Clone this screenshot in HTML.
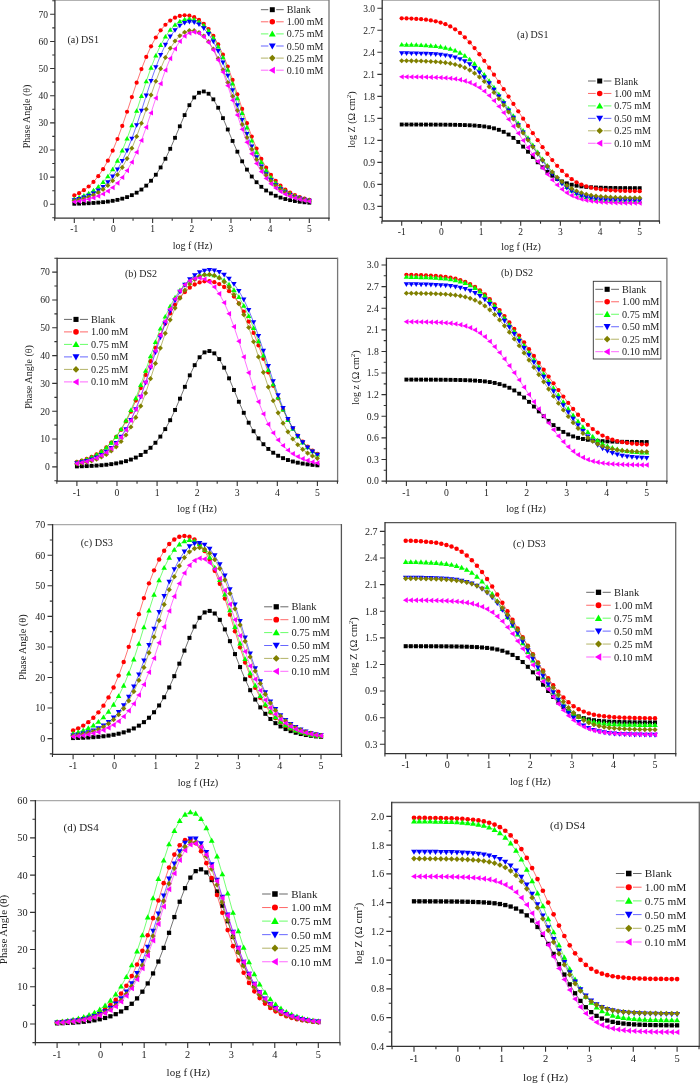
<!DOCTYPE html>
<html><head><meta charset="utf-8"><style>
html,body{margin:0;padding:0;background:#fff;width:700px;height:1083px;overflow:hidden}
svg{display:block;will-change:transform}
text{font-family:"Liberation Serif",serif;fill:#222}
</style></head><body>
<svg width="700" height="1083" viewBox="0 0 700 1083">
<rect width="700" height="1083" fill="#fff"/>
<path d="M74.30 203.77 L79.10 203.63 L83.89 203.46 L88.69 203.24 L93.48 202.96 L98.28 202.61 L103.08 202.15 L107.87 201.56 L112.67 200.82 L117.46 199.87 L122.26 198.65 L127.06 197.11 L131.85 195.16 L136.65 192.68 L141.44 189.55 L146.24 185.63 L151.03 180.75 L155.83 174.74 L160.63 167.44 L165.42 158.78 L170.22 148.81 L175.01 137.80 L179.81 126.29 L184.61 115.09 L189.40 105.17 L194.20 97.47 L198.99 92.75 L203.79 91.46 L208.59 93.73 L213.38 99.34 L218.18 107.74 L222.97 118.12 L227.77 129.50 L232.57 140.94 L237.36 151.70 L242.16 161.32 L246.95 169.60 L251.75 176.53 L256.54 182.21 L261.34 186.81 L266.14 190.50 L270.93 193.43 L275.73 195.75 L280.52 197.58 L285.32 199.02 L290.12 200.15 L294.91 201.04 L299.71 201.74 L304.50 202.29 L309.30 202.71" fill="none" stroke="#000000" stroke-width="0.55"/>
<rect x="72.39" y="201.86" width="3.82" height="3.82" fill="#000000"/><rect x="77.19" y="201.73" width="3.82" height="3.82" fill="#000000"/><rect x="81.98" y="201.55" width="3.82" height="3.82" fill="#000000"/><rect x="86.78" y="201.33" width="3.82" height="3.82" fill="#000000"/><rect x="91.57" y="201.05" width="3.82" height="3.82" fill="#000000"/><rect x="96.37" y="200.70" width="3.82" height="3.82" fill="#000000"/><rect x="101.17" y="200.24" width="3.82" height="3.82" fill="#000000"/><rect x="105.96" y="199.65" width="3.82" height="3.82" fill="#000000"/><rect x="110.76" y="198.91" width="3.82" height="3.82" fill="#000000"/><rect x="115.55" y="197.96" width="3.82" height="3.82" fill="#000000"/><rect x="120.35" y="196.75" width="3.82" height="3.82" fill="#000000"/><rect x="125.15" y="195.20" width="3.82" height="3.82" fill="#000000"/><rect x="129.94" y="193.25" width="3.82" height="3.82" fill="#000000"/><rect x="134.74" y="190.77" width="3.82" height="3.82" fill="#000000"/><rect x="139.53" y="187.65" width="3.82" height="3.82" fill="#000000"/><rect x="144.33" y="183.72" width="3.82" height="3.82" fill="#000000"/><rect x="149.13" y="178.84" width="3.82" height="3.82" fill="#000000"/><rect x="153.92" y="172.83" width="3.82" height="3.82" fill="#000000"/><rect x="158.72" y="165.53" width="3.82" height="3.82" fill="#000000"/><rect x="163.51" y="156.87" width="3.82" height="3.82" fill="#000000"/><rect x="168.31" y="146.90" width="3.82" height="3.82" fill="#000000"/><rect x="173.10" y="135.89" width="3.82" height="3.82" fill="#000000"/><rect x="177.90" y="124.38" width="3.82" height="3.82" fill="#000000"/><rect x="182.70" y="113.19" width="3.82" height="3.82" fill="#000000"/><rect x="187.49" y="103.26" width="3.82" height="3.82" fill="#000000"/><rect x="192.29" y="95.56" width="3.82" height="3.82" fill="#000000"/><rect x="197.08" y="90.84" width="3.82" height="3.82" fill="#000000"/><rect x="201.88" y="89.55" width="3.82" height="3.82" fill="#000000"/><rect x="206.68" y="91.82" width="3.82" height="3.82" fill="#000000"/><rect x="211.47" y="97.43" width="3.82" height="3.82" fill="#000000"/><rect x="216.27" y="105.84" width="3.82" height="3.82" fill="#000000"/><rect x="221.06" y="116.21" width="3.82" height="3.82" fill="#000000"/><rect x="225.86" y="127.59" width="3.82" height="3.82" fill="#000000"/><rect x="230.66" y="139.03" width="3.82" height="3.82" fill="#000000"/><rect x="235.45" y="149.79" width="3.82" height="3.82" fill="#000000"/><rect x="240.25" y="159.41" width="3.82" height="3.82" fill="#000000"/><rect x="245.04" y="167.69" width="3.82" height="3.82" fill="#000000"/><rect x="249.84" y="174.62" width="3.82" height="3.82" fill="#000000"/><rect x="254.64" y="180.30" width="3.82" height="3.82" fill="#000000"/><rect x="259.43" y="184.90" width="3.82" height="3.82" fill="#000000"/><rect x="264.23" y="188.59" width="3.82" height="3.82" fill="#000000"/><rect x="269.02" y="191.52" width="3.82" height="3.82" fill="#000000"/><rect x="273.82" y="193.84" width="3.82" height="3.82" fill="#000000"/><rect x="278.62" y="195.67" width="3.82" height="3.82" fill="#000000"/><rect x="283.41" y="197.11" width="3.82" height="3.82" fill="#000000"/><rect x="288.21" y="198.24" width="3.82" height="3.82" fill="#000000"/><rect x="293.00" y="199.13" width="3.82" height="3.82" fill="#000000"/><rect x="297.80" y="199.83" width="3.82" height="3.82" fill="#000000"/><rect x="302.59" y="200.38" width="3.82" height="3.82" fill="#000000"/><rect x="307.39" y="200.80" width="3.82" height="3.82" fill="#000000"/>
<path d="M74.30 195.47 L79.10 193.13 L83.89 190.19 L88.69 186.50 L93.48 181.89 L98.28 176.18 L103.08 169.18 L107.87 160.71 L112.67 150.65 L117.46 138.99 L122.26 125.89 L127.06 111.73 L131.85 97.10 L136.65 82.68 L141.44 69.11 L146.24 56.90 L151.03 46.32 L155.83 37.48 L160.63 30.32 L165.42 24.73 L170.22 20.55 L175.01 17.65 L179.81 15.91 L184.61 15.27 L189.40 15.70 L194.20 17.22 L198.99 19.89 L203.79 23.81 L208.59 29.11 L213.38 35.96 L218.18 44.46 L222.97 54.70 L227.77 66.61 L232.57 79.94 L237.36 94.25 L242.16 108.90 L246.95 123.19 L251.75 136.54 L256.54 148.50 L261.34 158.88 L266.14 167.65 L270.93 174.93 L275.73 180.87 L280.52 185.67 L285.32 189.53 L290.12 192.61 L294.91 195.06 L299.71 197.00 L304.50 198.53 L309.30 199.75" fill="none" stroke="#ff0000" stroke-width="0.55"/>
<circle cx="74.30" cy="195.47" r="2.10" fill="#ff0000"/><circle cx="79.10" cy="193.13" r="2.10" fill="#ff0000"/><circle cx="83.89" cy="190.19" r="2.10" fill="#ff0000"/><circle cx="88.69" cy="186.50" r="2.10" fill="#ff0000"/><circle cx="93.48" cy="181.89" r="2.10" fill="#ff0000"/><circle cx="98.28" cy="176.18" r="2.10" fill="#ff0000"/><circle cx="103.08" cy="169.18" r="2.10" fill="#ff0000"/><circle cx="107.87" cy="160.71" r="2.10" fill="#ff0000"/><circle cx="112.67" cy="150.65" r="2.10" fill="#ff0000"/><circle cx="117.46" cy="138.99" r="2.10" fill="#ff0000"/><circle cx="122.26" cy="125.89" r="2.10" fill="#ff0000"/><circle cx="127.06" cy="111.73" r="2.10" fill="#ff0000"/><circle cx="131.85" cy="97.10" r="2.10" fill="#ff0000"/><circle cx="136.65" cy="82.68" r="2.10" fill="#ff0000"/><circle cx="141.44" cy="69.11" r="2.10" fill="#ff0000"/><circle cx="146.24" cy="56.90" r="2.10" fill="#ff0000"/><circle cx="151.03" cy="46.32" r="2.10" fill="#ff0000"/><circle cx="155.83" cy="37.48" r="2.10" fill="#ff0000"/><circle cx="160.63" cy="30.32" r="2.10" fill="#ff0000"/><circle cx="165.42" cy="24.73" r="2.10" fill="#ff0000"/><circle cx="170.22" cy="20.55" r="2.10" fill="#ff0000"/><circle cx="175.01" cy="17.65" r="2.10" fill="#ff0000"/><circle cx="179.81" cy="15.91" r="2.10" fill="#ff0000"/><circle cx="184.61" cy="15.27" r="2.10" fill="#ff0000"/><circle cx="189.40" cy="15.70" r="2.10" fill="#ff0000"/><circle cx="194.20" cy="17.22" r="2.10" fill="#ff0000"/><circle cx="198.99" cy="19.89" r="2.10" fill="#ff0000"/><circle cx="203.79" cy="23.81" r="2.10" fill="#ff0000"/><circle cx="208.59" cy="29.11" r="2.10" fill="#ff0000"/><circle cx="213.38" cy="35.96" r="2.10" fill="#ff0000"/><circle cx="218.18" cy="44.46" r="2.10" fill="#ff0000"/><circle cx="222.97" cy="54.70" r="2.10" fill="#ff0000"/><circle cx="227.77" cy="66.61" r="2.10" fill="#ff0000"/><circle cx="232.57" cy="79.94" r="2.10" fill="#ff0000"/><circle cx="237.36" cy="94.25" r="2.10" fill="#ff0000"/><circle cx="242.16" cy="108.90" r="2.10" fill="#ff0000"/><circle cx="246.95" cy="123.19" r="2.10" fill="#ff0000"/><circle cx="251.75" cy="136.54" r="2.10" fill="#ff0000"/><circle cx="256.54" cy="148.50" r="2.10" fill="#ff0000"/><circle cx="261.34" cy="158.88" r="2.10" fill="#ff0000"/><circle cx="266.14" cy="167.65" r="2.10" fill="#ff0000"/><circle cx="270.93" cy="174.93" r="2.10" fill="#ff0000"/><circle cx="275.73" cy="180.87" r="2.10" fill="#ff0000"/><circle cx="280.52" cy="185.67" r="2.10" fill="#ff0000"/><circle cx="285.32" cy="189.53" r="2.10" fill="#ff0000"/><circle cx="290.12" cy="192.61" r="2.10" fill="#ff0000"/><circle cx="294.91" cy="195.06" r="2.10" fill="#ff0000"/><circle cx="299.71" cy="197.00" r="2.10" fill="#ff0000"/><circle cx="304.50" cy="198.53" r="2.10" fill="#ff0000"/><circle cx="309.30" cy="199.75" r="2.10" fill="#ff0000"/>
<path d="M74.30 198.92 L79.10 197.47 L83.89 195.64 L88.69 193.31 L93.48 190.38 L98.28 186.69 L103.08 182.07 L107.87 176.34 L112.67 169.28 L117.46 160.71 L122.26 150.50 L127.06 138.64 L131.85 125.30 L136.65 110.88 L141.44 96.01 L146.24 81.40 L151.03 67.74 L155.83 55.55 L160.63 45.13 L165.42 36.58 L170.22 29.84 L175.01 24.81 L179.81 21.36 L184.61 19.38 L189.40 18.80 L194.20 19.59 L198.99 21.79 L203.79 25.47 L208.59 30.75 L213.38 37.76 L218.18 46.60 L222.97 57.30 L227.77 69.74 L232.57 83.58 L237.36 98.28 L242.16 113.13 L246.95 127.41 L251.75 140.55 L256.54 152.16 L261.34 162.12 L266.14 170.45 L270.93 177.29 L275.73 182.84 L280.52 187.31 L285.32 190.87 L290.12 193.70 L294.91 195.94 L299.71 197.72 L304.50 199.11 L309.30 200.21" fill="none" stroke="#00ff00" stroke-width="0.55"/>
<path d="M74.30 196.29L76.93 200.90L71.67 200.90Z" fill="#00ff00"/><path d="M79.10 194.84L81.73 199.45L76.46 199.45Z" fill="#00ff00"/><path d="M83.89 193.00L86.53 197.61L81.26 197.61Z" fill="#00ff00"/><path d="M88.69 190.68L91.32 195.29L86.05 195.29Z" fill="#00ff00"/><path d="M93.48 187.74L96.12 192.35L90.85 192.35Z" fill="#00ff00"/><path d="M98.28 184.05L100.91 188.66L95.64 188.66Z" fill="#00ff00"/><path d="M103.08 179.44L105.71 184.05L100.44 184.05Z" fill="#00ff00"/><path d="M107.87 173.70L110.51 178.31L105.24 178.31Z" fill="#00ff00"/><path d="M112.67 166.64L115.30 171.25L110.03 171.25Z" fill="#00ff00"/><path d="M117.46 158.07L120.10 162.68L114.83 162.68Z" fill="#00ff00"/><path d="M122.26 147.86L124.89 152.48L119.62 152.48Z" fill="#00ff00"/><path d="M127.06 136.00L129.69 140.62L124.42 140.62Z" fill="#00ff00"/><path d="M131.85 122.66L134.49 127.28L129.22 127.28Z" fill="#00ff00"/><path d="M136.65 108.25L139.28 112.86L134.01 112.86Z" fill="#00ff00"/><path d="M141.44 93.37L144.08 97.98L138.81 97.98Z" fill="#00ff00"/><path d="M146.24 78.76L148.87 83.37L143.60 83.37Z" fill="#00ff00"/><path d="M151.03 65.10L153.67 69.72L148.40 69.72Z" fill="#00ff00"/><path d="M155.83 52.92L158.47 57.53L153.20 57.53Z" fill="#00ff00"/><path d="M160.63 42.50L163.26 47.11L157.99 47.11Z" fill="#00ff00"/><path d="M165.42 33.94L168.06 38.55L162.79 38.55Z" fill="#00ff00"/><path d="M170.22 27.21L172.85 31.82L167.58 31.82Z" fill="#00ff00"/><path d="M175.01 22.18L177.65 26.79L172.38 26.79Z" fill="#00ff00"/><path d="M179.81 18.73L182.45 23.34L177.18 23.34Z" fill="#00ff00"/><path d="M184.61 16.74L187.24 21.36L181.97 21.36Z" fill="#00ff00"/><path d="M189.40 16.16L192.04 20.77L186.77 20.77Z" fill="#00ff00"/><path d="M194.20 16.95L196.83 21.57L191.56 21.57Z" fill="#00ff00"/><path d="M198.99 19.16L201.63 23.77L196.36 23.77Z" fill="#00ff00"/><path d="M203.79 22.84L206.42 27.45L201.15 27.45Z" fill="#00ff00"/><path d="M208.59 28.12L211.22 32.73L205.95 32.73Z" fill="#00ff00"/><path d="M213.38 35.13L216.02 39.74L210.75 39.74Z" fill="#00ff00"/><path d="M218.18 43.97L220.81 48.58L215.54 48.58Z" fill="#00ff00"/><path d="M222.97 54.67L225.61 59.28L220.34 59.28Z" fill="#00ff00"/><path d="M227.77 67.10L230.40 71.71L225.13 71.71Z" fill="#00ff00"/><path d="M232.57 80.94L235.20 85.55L229.93 85.55Z" fill="#00ff00"/><path d="M237.36 95.64L240.00 100.25L234.73 100.25Z" fill="#00ff00"/><path d="M242.16 110.49L244.79 115.10L239.52 115.10Z" fill="#00ff00"/><path d="M246.95 124.78L249.59 129.39L244.32 129.39Z" fill="#00ff00"/><path d="M251.75 137.91L254.38 142.53L249.11 142.53Z" fill="#00ff00"/><path d="M256.54 149.53L259.18 154.14L253.91 154.14Z" fill="#00ff00"/><path d="M261.34 159.48L263.98 164.09L258.71 164.09Z" fill="#00ff00"/><path d="M266.14 167.81L268.77 172.42L263.50 172.42Z" fill="#00ff00"/><path d="M270.93 174.65L273.57 179.27L268.30 179.27Z" fill="#00ff00"/><path d="M275.73 180.21L278.36 184.82L273.09 184.82Z" fill="#00ff00"/><path d="M280.52 184.67L283.16 189.28L277.89 189.28Z" fill="#00ff00"/><path d="M285.32 188.23L287.96 192.85L282.69 192.85Z" fill="#00ff00"/><path d="M290.12 191.07L292.75 195.68L287.48 195.68Z" fill="#00ff00"/><path d="M294.91 193.31L297.55 197.92L292.28 197.92Z" fill="#00ff00"/><path d="M299.71 195.08L302.34 199.69L297.07 199.69Z" fill="#00ff00"/><path d="M304.50 196.48L307.14 201.09L301.87 201.09Z" fill="#00ff00"/><path d="M309.30 197.58L311.93 202.19L306.67 202.19Z" fill="#00ff00"/>
<path d="M74.30 200.15 L79.10 199.03 L83.89 197.60 L88.69 195.78 L93.48 193.48 L98.28 190.56 L103.08 186.89 L107.87 182.29 L112.67 176.55 L117.46 169.48 L122.26 160.87 L127.06 150.60 L131.85 138.64 L136.65 125.17 L141.44 110.60 L146.24 95.59 L151.03 80.87 L155.83 67.19 L160.63 55.06 L165.42 44.81 L170.22 36.53 L175.01 30.19 L179.81 25.70 L184.61 22.94 L189.40 21.83 L194.20 22.34 L198.99 24.49 L203.79 28.34 L208.59 33.99 L213.38 41.55 L218.18 51.08 L222.97 62.54 L227.77 75.71 L232.57 90.12 L237.36 105.12 L242.16 119.93 L246.95 133.86 L251.75 146.41 L256.54 157.31 L261.34 166.52 L266.14 174.13 L270.93 180.33 L275.73 185.32 L280.52 189.31 L285.32 192.49 L290.12 195.00 L294.91 196.98 L299.71 198.54 L304.50 199.77 L309.30 200.74" fill="none" stroke="#0000ff" stroke-width="0.55"/>
<path d="M74.30 202.79L76.93 198.18L71.67 198.18Z" fill="#0000ff"/><path d="M79.10 201.66L81.73 197.05L76.46 197.05Z" fill="#0000ff"/><path d="M83.89 200.23L86.53 195.62L81.26 195.62Z" fill="#0000ff"/><path d="M88.69 198.42L91.32 193.80L86.05 193.80Z" fill="#0000ff"/><path d="M93.48 196.11L96.12 191.50L90.85 191.50Z" fill="#0000ff"/><path d="M98.28 193.20L100.91 188.59L95.64 188.59Z" fill="#0000ff"/><path d="M103.08 189.53L105.71 184.91L100.44 184.91Z" fill="#0000ff"/><path d="M107.87 184.92L110.51 180.31L105.24 180.31Z" fill="#0000ff"/><path d="M112.67 179.19L115.30 174.58L110.03 174.58Z" fill="#0000ff"/><path d="M117.46 172.11L120.10 167.50L114.83 167.50Z" fill="#0000ff"/><path d="M122.26 163.51L124.89 158.90L119.62 158.90Z" fill="#0000ff"/><path d="M127.06 153.23L129.69 148.62L124.42 148.62Z" fill="#0000ff"/><path d="M131.85 141.27L134.49 136.66L129.22 136.66Z" fill="#0000ff"/><path d="M136.65 127.80L139.28 123.19L134.01 123.19Z" fill="#0000ff"/><path d="M141.44 113.24L144.08 108.63L138.81 108.63Z" fill="#0000ff"/><path d="M146.24 98.22L148.87 93.61L143.60 93.61Z" fill="#0000ff"/><path d="M151.03 83.51L153.67 78.90L148.40 78.90Z" fill="#0000ff"/><path d="M155.83 69.82L158.47 65.21L153.20 65.21Z" fill="#0000ff"/><path d="M160.63 57.70L163.26 53.08L157.99 53.08Z" fill="#0000ff"/><path d="M165.42 47.44L168.06 42.83L162.79 42.83Z" fill="#0000ff"/><path d="M170.22 39.16L172.85 34.55L167.58 34.55Z" fill="#0000ff"/><path d="M175.01 32.83L177.65 28.21L172.38 28.21Z" fill="#0000ff"/><path d="M179.81 28.33L182.45 23.72L177.18 23.72Z" fill="#0000ff"/><path d="M184.61 25.57L187.24 20.96L181.97 20.96Z" fill="#0000ff"/><path d="M189.40 24.47L192.04 19.85L186.77 19.85Z" fill="#0000ff"/><path d="M194.20 24.98L196.83 20.37L191.56 20.37Z" fill="#0000ff"/><path d="M198.99 27.12L201.63 22.51L196.36 22.51Z" fill="#0000ff"/><path d="M203.79 30.97L206.42 26.36L201.15 26.36Z" fill="#0000ff"/><path d="M208.59 36.62L211.22 32.01L205.95 32.01Z" fill="#0000ff"/><path d="M213.38 44.18L216.02 39.57L210.75 39.57Z" fill="#0000ff"/><path d="M218.18 53.72L220.81 49.10L215.54 49.10Z" fill="#0000ff"/><path d="M222.97 65.18L225.61 60.57L220.34 60.57Z" fill="#0000ff"/><path d="M227.77 78.35L230.40 73.74L225.13 73.74Z" fill="#0000ff"/><path d="M232.57 92.76L235.20 88.15L229.93 88.15Z" fill="#0000ff"/><path d="M237.36 107.75L240.00 103.14L234.73 103.14Z" fill="#0000ff"/><path d="M242.16 122.57L244.79 117.96L239.52 117.96Z" fill="#0000ff"/><path d="M246.95 136.50L249.59 131.89L244.32 131.89Z" fill="#0000ff"/><path d="M251.75 149.05L254.38 144.43L249.11 144.43Z" fill="#0000ff"/><path d="M256.54 159.95L259.18 155.33L253.91 155.33Z" fill="#0000ff"/><path d="M261.34 169.15L263.98 164.54L258.71 164.54Z" fill="#0000ff"/><path d="M266.14 176.76L268.77 172.15L263.50 172.15Z" fill="#0000ff"/><path d="M270.93 182.96L273.57 178.35L268.30 178.35Z" fill="#0000ff"/><path d="M275.73 187.96L278.36 183.35L273.09 183.35Z" fill="#0000ff"/><path d="M280.52 191.95L283.16 187.34L277.89 187.34Z" fill="#0000ff"/><path d="M285.32 195.12L287.96 190.51L282.69 190.51Z" fill="#0000ff"/><path d="M290.12 197.63L292.75 193.02L287.48 193.02Z" fill="#0000ff"/><path d="M294.91 199.62L297.55 195.01L292.28 195.01Z" fill="#0000ff"/><path d="M299.71 201.18L302.34 196.57L297.07 196.57Z" fill="#0000ff"/><path d="M304.50 202.41L307.14 197.80L301.87 197.80Z" fill="#0000ff"/><path d="M309.30 203.37L311.93 198.76L306.67 198.76Z" fill="#0000ff"/>
<path d="M74.30 200.65 L79.10 199.68 L83.89 198.45 L88.69 196.90 L93.48 194.93 L98.28 192.46 L103.08 189.36 L107.87 185.47 L112.67 180.64 L117.46 174.67 L122.26 167.38 L127.06 158.61 L131.85 148.28 L136.65 136.42 L141.44 123.26 L146.24 109.26 L151.03 95.03 L155.83 81.27 L160.63 68.63 L165.42 57.57 L170.22 48.35 L175.01 41.08 L179.81 35.73 L184.61 32.24 L189.40 30.56 L194.20 30.63 L198.99 32.47 L203.79 36.12 L208.59 41.63 L213.38 49.07 L218.18 58.46 L222.97 69.67 L227.77 82.43 L232.57 96.25 L237.36 110.49 L242.16 124.44 L246.95 137.50 L251.75 149.24 L256.54 159.43 L261.34 168.07 L266.14 175.23 L270.93 181.10 L275.73 185.84 L280.52 189.65 L285.32 192.70 L290.12 195.12 L294.91 197.04 L299.71 198.57 L304.50 199.77 L309.30 200.72" fill="none" stroke="#808000" stroke-width="0.55"/>
<path d="M74.30 198.13L76.82 200.65L74.30 203.17L71.78 200.65Z" fill="#808000"/><path d="M79.10 197.16L81.62 199.68L79.10 202.20L76.58 199.68Z" fill="#808000"/><path d="M83.89 195.93L86.41 198.45L83.89 200.97L81.37 198.45Z" fill="#808000"/><path d="M88.69 194.38L91.21 196.90L88.69 199.42L86.17 196.90Z" fill="#808000"/><path d="M93.48 192.41L96.00 194.93L93.48 197.45L90.96 194.93Z" fill="#808000"/><path d="M98.28 189.94L100.80 192.46L98.28 194.98L95.76 192.46Z" fill="#808000"/><path d="M103.08 186.84L105.60 189.36L103.08 191.88L100.56 189.36Z" fill="#808000"/><path d="M107.87 182.95L110.39 185.47L107.87 187.99L105.35 185.47Z" fill="#808000"/><path d="M112.67 178.12L115.19 180.64L112.67 183.16L110.15 180.64Z" fill="#808000"/><path d="M117.46 172.15L119.98 174.67L117.46 177.19L114.94 174.67Z" fill="#808000"/><path d="M122.26 164.86L124.78 167.38L122.26 169.90L119.74 167.38Z" fill="#808000"/><path d="M127.06 156.09L129.58 158.61L127.06 161.13L124.53 158.61Z" fill="#808000"/><path d="M131.85 145.76L134.37 148.28L131.85 150.80L129.33 148.28Z" fill="#808000"/><path d="M136.65 133.90L139.17 136.42L136.65 138.94L134.13 136.42Z" fill="#808000"/><path d="M141.44 120.74L143.96 123.26L141.44 125.78L138.92 123.26Z" fill="#808000"/><path d="M146.24 106.74L148.76 109.26L146.24 111.78L143.72 109.26Z" fill="#808000"/><path d="M151.03 92.51L153.56 95.03L151.03 97.55L148.51 95.03Z" fill="#808000"/><path d="M155.83 78.75L158.35 81.27L155.83 83.80L153.31 81.27Z" fill="#808000"/><path d="M160.63 66.11L163.15 68.63L160.63 71.15L158.11 68.63Z" fill="#808000"/><path d="M165.42 55.05L167.94 57.57L165.42 60.09L162.90 57.57Z" fill="#808000"/><path d="M170.22 45.83L172.74 48.35L170.22 50.87L167.70 48.35Z" fill="#808000"/><path d="M175.01 38.56L177.53 41.08L175.01 43.60L172.49 41.08Z" fill="#808000"/><path d="M179.81 33.21L182.33 35.73L179.81 38.25L177.29 35.73Z" fill="#808000"/><path d="M184.61 29.72L187.13 32.24L184.61 34.76L182.09 32.24Z" fill="#808000"/><path d="M189.40 28.04L191.92 30.56L189.40 33.08L186.88 30.56Z" fill="#808000"/><path d="M194.20 28.11L196.72 30.63L194.20 33.15L191.68 30.63Z" fill="#808000"/><path d="M198.99 29.95L201.51 32.47L198.99 34.99L196.47 32.47Z" fill="#808000"/><path d="M203.79 33.60L206.31 36.12L203.79 38.64L201.27 36.12Z" fill="#808000"/><path d="M208.59 39.11L211.11 41.63L208.59 44.15L206.07 41.63Z" fill="#808000"/><path d="M213.38 46.55L215.90 49.07L213.38 51.60L210.86 49.07Z" fill="#808000"/><path d="M218.18 55.94L220.70 58.46L218.18 60.98L215.66 58.46Z" fill="#808000"/><path d="M222.97 67.15L225.49 69.67L222.97 72.19L220.45 69.67Z" fill="#808000"/><path d="M227.77 79.91L230.29 82.43L227.77 84.95L225.25 82.43Z" fill="#808000"/><path d="M232.57 93.73L235.09 96.25L232.57 98.77L230.04 96.25Z" fill="#808000"/><path d="M237.36 107.97L239.88 110.49L237.36 113.01L234.84 110.49Z" fill="#808000"/><path d="M242.16 121.92L244.68 124.44L242.16 126.96L239.64 124.44Z" fill="#808000"/><path d="M246.95 134.98L249.47 137.50L246.95 140.02L244.43 137.50Z" fill="#808000"/><path d="M251.75 146.71L254.27 149.24L251.75 151.76L249.23 149.24Z" fill="#808000"/><path d="M256.54 156.91L259.07 159.43L256.54 161.95L254.02 159.43Z" fill="#808000"/><path d="M261.34 165.55L263.86 168.07L261.34 170.59L258.82 168.07Z" fill="#808000"/><path d="M266.14 172.71L268.66 175.23L266.14 177.75L263.62 175.23Z" fill="#808000"/><path d="M270.93 178.58L273.45 181.10L270.93 183.62L268.41 181.10Z" fill="#808000"/><path d="M275.73 183.32L278.25 185.84L275.73 188.36L273.21 185.84Z" fill="#808000"/><path d="M280.52 187.13L283.04 189.65L280.52 192.17L278.00 189.65Z" fill="#808000"/><path d="M285.32 190.18L287.84 192.70L285.32 195.22L282.80 192.70Z" fill="#808000"/><path d="M290.12 192.60L292.64 195.12L290.12 197.64L287.60 195.12Z" fill="#808000"/><path d="M294.91 194.52L297.43 197.04L294.91 199.57L292.39 197.04Z" fill="#808000"/><path d="M299.71 196.05L302.23 198.57L299.71 201.09L297.19 198.57Z" fill="#808000"/><path d="M304.50 197.25L307.02 199.77L304.50 202.29L301.98 199.77Z" fill="#808000"/><path d="M309.30 198.20L311.82 200.72L309.30 203.24L306.78 200.72Z" fill="#808000"/>
<path d="M74.30 201.84 L79.10 201.17 L83.89 200.32 L88.69 199.24 L93.48 197.86 L98.28 196.11 L103.08 193.88 L107.87 191.07 L112.67 187.51 L117.46 183.05 L122.26 177.49 L127.06 170.61 L131.85 162.23 L136.65 152.20 L141.44 140.48 L146.24 127.25 L151.03 112.91 L155.83 98.11 L160.63 83.63 L165.42 70.22 L170.22 58.49 L175.01 48.81 L179.81 41.33 L184.61 36.08 L189.40 33.03 L194.20 32.12 L198.99 33.34 L203.79 36.72 L208.59 42.30 L213.38 50.10 L218.18 60.10 L222.97 72.11 L227.77 85.71 L232.57 100.29 L237.36 115.08 L242.16 129.29 L246.95 142.31 L251.75 153.78 L256.54 163.57 L261.34 171.72 L266.14 178.39 L270.93 183.78 L275.73 188.09 L280.52 191.52 L285.32 194.24 L290.12 196.39 L294.91 198.08 L299.71 199.42 L304.50 200.46 L309.30 201.28" fill="none" stroke="#ff00ff" stroke-width="0.55"/>
<path d="M71.67 201.84L76.28 199.20L76.28 204.47Z" fill="#ff00ff"/><path d="M76.46 201.17L81.07 198.54L81.07 203.81Z" fill="#ff00ff"/><path d="M81.26 200.32L85.87 197.69L85.87 202.96Z" fill="#ff00ff"/><path d="M86.05 199.24L90.66 196.60L90.66 201.87Z" fill="#ff00ff"/><path d="M90.85 197.86L95.46 195.22L95.46 200.49Z" fill="#ff00ff"/><path d="M95.64 196.11L100.26 193.47L100.26 198.74Z" fill="#ff00ff"/><path d="M100.44 193.88L105.05 191.25L105.05 196.52Z" fill="#ff00ff"/><path d="M105.24 191.07L109.85 188.43L109.85 193.70Z" fill="#ff00ff"/><path d="M110.03 187.51L114.64 184.88L114.64 190.15Z" fill="#ff00ff"/><path d="M114.83 183.05L119.44 180.42L119.44 185.69Z" fill="#ff00ff"/><path d="M119.62 177.49L124.24 174.85L124.24 180.12Z" fill="#ff00ff"/><path d="M124.42 170.61L129.03 167.98L129.03 173.25Z" fill="#ff00ff"/><path d="M129.22 162.23L133.83 159.60L133.83 164.87Z" fill="#ff00ff"/><path d="M134.01 152.20L138.62 149.56L138.62 154.83Z" fill="#ff00ff"/><path d="M138.81 140.48L143.42 137.85L143.42 143.12Z" fill="#ff00ff"/><path d="M143.60 127.25L148.21 124.62L148.21 129.89Z" fill="#ff00ff"/><path d="M148.40 112.91L153.01 110.28L153.01 115.55Z" fill="#ff00ff"/><path d="M153.20 98.11L157.81 95.47L157.81 100.74Z" fill="#ff00ff"/><path d="M157.99 83.63L162.60 80.99L162.60 86.26Z" fill="#ff00ff"/><path d="M162.79 70.22L167.40 67.59L167.40 72.86Z" fill="#ff00ff"/><path d="M167.58 58.49L172.19 55.86L172.19 61.13Z" fill="#ff00ff"/><path d="M172.38 48.81L176.99 46.18L176.99 51.45Z" fill="#ff00ff"/><path d="M177.18 41.33L181.79 38.70L181.79 43.97Z" fill="#ff00ff"/><path d="M181.97 36.08L186.58 33.45L186.58 38.72Z" fill="#ff00ff"/><path d="M186.77 33.03L191.38 30.39L191.38 35.66Z" fill="#ff00ff"/><path d="M191.56 32.12L196.17 29.48L196.17 34.75Z" fill="#ff00ff"/><path d="M196.36 33.34L200.97 30.71L200.97 35.98Z" fill="#ff00ff"/><path d="M201.15 36.72L205.77 34.08L205.77 39.35Z" fill="#ff00ff"/><path d="M205.95 42.30L210.56 39.66L210.56 44.93Z" fill="#ff00ff"/><path d="M210.75 50.10L215.36 47.47L215.36 52.74Z" fill="#ff00ff"/><path d="M215.54 60.10L220.15 57.47L220.15 62.74Z" fill="#ff00ff"/><path d="M220.34 72.11L224.95 69.47L224.95 74.74Z" fill="#ff00ff"/><path d="M225.13 85.71L229.75 83.08L229.75 88.35Z" fill="#ff00ff"/><path d="M229.93 100.29L234.54 97.66L234.54 102.93Z" fill="#ff00ff"/><path d="M234.73 115.08L239.34 112.44L239.34 117.71Z" fill="#ff00ff"/><path d="M239.52 129.29L244.13 126.65L244.13 131.92Z" fill="#ff00ff"/><path d="M244.32 142.31L248.93 139.68L248.93 144.95Z" fill="#ff00ff"/><path d="M249.11 153.78L253.73 151.15L253.73 156.42Z" fill="#ff00ff"/><path d="M253.91 163.57L258.52 160.94L258.52 166.20Z" fill="#ff00ff"/><path d="M258.71 171.72L263.32 169.08L263.32 174.35Z" fill="#ff00ff"/><path d="M263.50 178.39L268.11 175.75L268.11 181.02Z" fill="#ff00ff"/><path d="M268.30 183.78L272.91 181.14L272.91 186.41Z" fill="#ff00ff"/><path d="M273.09 188.09L277.70 185.46L277.70 190.73Z" fill="#ff00ff"/><path d="M277.89 191.52L282.50 188.89L282.50 194.16Z" fill="#ff00ff"/><path d="M282.69 194.24L287.30 191.61L287.30 196.88Z" fill="#ff00ff"/><path d="M287.48 196.39L292.09 193.76L292.09 199.03Z" fill="#ff00ff"/><path d="M292.28 198.08L296.89 195.45L296.89 200.72Z" fill="#ff00ff"/><path d="M297.07 199.42L301.68 196.78L301.68 202.05Z" fill="#ff00ff"/><path d="M301.87 200.46L306.48 197.83L306.48 203.10Z" fill="#ff00ff"/><path d="M306.67 201.28L311.28 198.65L311.28 203.92Z" fill="#ff00ff"/>
<path d="M54.9 0.2H329" stroke="#999" stroke-width="1.3" fill="none"/>
<path d="M329 -0.45V218.85" stroke="#777" stroke-width="1.3" fill="none"/>
<path d="M54.9 -0.45V218.2H329.65" stroke="#333" stroke-width="1.3" fill="none"/>
<text x="74.30" y="232.40" text-anchor="middle" font-size="9.5">-1</text>
<text x="113.47" y="232.40" text-anchor="middle" font-size="9.5">0</text>
<text x="152.63" y="232.40" text-anchor="middle" font-size="9.5">1</text>
<text x="191.80" y="232.40" text-anchor="middle" font-size="9.5">2</text>
<text x="230.97" y="232.40" text-anchor="middle" font-size="9.5">3</text>
<text x="270.13" y="232.40" text-anchor="middle" font-size="9.5">4</text>
<text x="309.30" y="232.40" text-anchor="middle" font-size="9.5">5</text>
<text x="47.90" y="207.48" text-anchor="end" font-size="9.5">0</text>
<text x="47.90" y="180.34" text-anchor="end" font-size="9.5">10</text>
<text x="47.90" y="153.21" text-anchor="end" font-size="9.5">20</text>
<text x="47.90" y="126.07" text-anchor="end" font-size="9.5">30</text>
<text x="47.90" y="98.94" text-anchor="end" font-size="9.5">40</text>
<text x="47.90" y="71.80" text-anchor="end" font-size="9.5">50</text>
<text x="47.90" y="44.67" text-anchor="end" font-size="9.5">60</text>
<text x="47.90" y="17.53" text-anchor="end" font-size="9.5">70</text>
<path d="M54.72 218.20V220.84M74.30 218.20V223.00M93.88 218.20V220.84M113.47 218.20V223.00M133.05 218.20V220.84M152.63 218.20V223.00M172.22 218.20V220.84M191.80 218.20V223.00M211.38 218.20V220.84M230.97 218.20V223.00M250.55 218.20V220.84M270.13 218.20V223.00M289.72 218.20V220.84M309.30 218.20V223.00M328.88 218.20V220.84M54.90 217.82H52.26M54.90 204.25H50.10M54.90 190.68H52.26M54.90 177.11H50.10M54.90 163.55H52.26M54.90 149.98H50.10M54.90 136.41H52.26M54.90 122.84H50.10M54.90 109.28H52.26M54.90 95.71H50.10M54.90 82.14H52.26M54.90 68.57H50.10M54.90 55.00H52.26M54.90 41.44H50.10M54.90 27.87H52.26M54.90 14.30H50.10M54.90 0.73H52.26" stroke="#333" stroke-width="1.1" fill="none"/>
<text x="192.5" y="249" text-anchor="middle" font-size="10">log f (Hz)</text>
<text transform="translate(30.2,116.4) rotate(-90)" text-anchor="middle" font-size="10">Phase Angle (θ)</text>
<text x="67.5" y="42.5" font-size="10">(a) DS1</text>
<path d="M260.90 9.70H268.37M276.23 9.70H283.70" stroke="#000000" stroke-width="0.8" opacity="0.75"/>
<rect x="269.82" y="7.22" width="4.96" height="4.96" fill="#000000"/>
<text x="286.80" y="13.20" font-size="10">Blank</text>
<path d="M260.90 21.80H268.37M276.23 21.80H283.70" stroke="#ff0000" stroke-width="0.8" opacity="0.75"/>
<circle cx="272.30" cy="21.80" r="2.73" fill="#ff0000"/>
<text x="286.80" y="25.30" font-size="10">1.00 mM</text>
<path d="M260.90 33.90H268.37M276.23 33.90H283.70" stroke="#00ff00" stroke-width="0.8" opacity="0.75"/>
<path d="M272.30 30.47L275.73 36.47L268.87 36.47Z" fill="#00ff00"/>
<text x="286.80" y="37.40" font-size="10">0.75 mM</text>
<path d="M260.90 46.00H268.37M276.23 46.00H283.70" stroke="#0000ff" stroke-width="0.8" opacity="0.75"/>
<path d="M272.30 49.43L275.73 43.43L268.87 43.43Z" fill="#0000ff"/>
<text x="286.80" y="49.50" font-size="10">0.50 mM</text>
<path d="M260.90 58.10H268.37M276.23 58.10H283.70" stroke="#808000" stroke-width="0.8" opacity="0.75"/>
<path d="M272.30 54.82L275.58 58.10L272.30 61.38L269.02 58.10Z" fill="#808000"/>
<text x="286.80" y="61.60" font-size="10">0.25 mM</text>
<path d="M260.90 70.20H268.37M276.23 70.20H283.70" stroke="#ff00ff" stroke-width="0.8" opacity="0.75"/>
<path d="M268.87 70.20L274.87 66.77L274.87 73.63Z" fill="#ff00ff"/>
<text x="286.80" y="73.70" font-size="10">0.10 mM</text>
<path d="M401.70 124.52 L406.56 124.52 L411.41 124.53 L416.27 124.54 L421.13 124.55 L425.99 124.56 L430.84 124.58 L435.70 124.61 L440.56 124.64 L445.41 124.69 L450.27 124.75 L455.13 124.82 L459.99 124.93 L464.84 125.07 L469.70 125.27 L474.56 125.55 L479.41 125.93 L484.27 126.48 L489.13 127.24 L493.99 128.32 L498.84 129.81 L503.70 131.85 L508.56 134.52 L513.41 137.90 L518.27 141.97 L523.13 146.63 L527.99 151.73 L532.84 157.03 L537.70 162.31 L542.56 167.31 L547.41 171.84 L552.27 175.74 L557.13 178.94 L561.99 181.44 L566.84 183.33 L571.70 184.70 L576.56 185.69 L581.41 186.39 L586.27 186.89 L591.13 187.25 L595.99 187.50 L600.84 187.68 L605.70 187.81 L610.56 187.91 L615.41 187.99 L620.27 188.04 L625.13 188.08 L629.99 188.11 L634.84 188.14 L639.70 188.15" fill="none" stroke="#000000" stroke-width="0.55"/>
<rect x="399.77" y="122.58" width="3.87" height="3.87" fill="#000000"/><rect x="404.62" y="122.59" width="3.87" height="3.87" fill="#000000"/><rect x="409.48" y="122.59" width="3.87" height="3.87" fill="#000000"/><rect x="414.34" y="122.60" width="3.87" height="3.87" fill="#000000"/><rect x="419.19" y="122.62" width="3.87" height="3.87" fill="#000000"/><rect x="424.05" y="122.63" width="3.87" height="3.87" fill="#000000"/><rect x="428.91" y="122.65" width="3.87" height="3.87" fill="#000000"/><rect x="433.77" y="122.68" width="3.87" height="3.87" fill="#000000"/><rect x="438.62" y="122.71" width="3.87" height="3.87" fill="#000000"/><rect x="443.48" y="122.75" width="3.87" height="3.87" fill="#000000"/><rect x="448.34" y="122.81" width="3.87" height="3.87" fill="#000000"/><rect x="453.19" y="122.89" width="3.87" height="3.87" fill="#000000"/><rect x="458.05" y="123.00" width="3.87" height="3.87" fill="#000000"/><rect x="462.91" y="123.14" width="3.87" height="3.87" fill="#000000"/><rect x="467.77" y="123.34" width="3.87" height="3.87" fill="#000000"/><rect x="472.62" y="123.61" width="3.87" height="3.87" fill="#000000"/><rect x="477.48" y="124.00" width="3.87" height="3.87" fill="#000000"/><rect x="482.34" y="124.54" width="3.87" height="3.87" fill="#000000"/><rect x="487.19" y="125.31" width="3.87" height="3.87" fill="#000000"/><rect x="492.05" y="126.39" width="3.87" height="3.87" fill="#000000"/><rect x="496.91" y="127.88" width="3.87" height="3.87" fill="#000000"/><rect x="501.77" y="129.91" width="3.87" height="3.87" fill="#000000"/><rect x="506.62" y="132.58" width="3.87" height="3.87" fill="#000000"/><rect x="511.48" y="135.96" width="3.87" height="3.87" fill="#000000"/><rect x="516.34" y="140.03" width="3.87" height="3.87" fill="#000000"/><rect x="521.19" y="144.70" width="3.87" height="3.87" fill="#000000"/><rect x="526.05" y="149.80" width="3.87" height="3.87" fill="#000000"/><rect x="530.91" y="155.10" width="3.87" height="3.87" fill="#000000"/><rect x="535.77" y="160.37" width="3.87" height="3.87" fill="#000000"/><rect x="540.62" y="165.38" width="3.87" height="3.87" fill="#000000"/><rect x="545.48" y="169.91" width="3.87" height="3.87" fill="#000000"/><rect x="550.34" y="173.81" width="3.87" height="3.87" fill="#000000"/><rect x="555.19" y="177.01" width="3.87" height="3.87" fill="#000000"/><rect x="560.05" y="179.51" width="3.87" height="3.87" fill="#000000"/><rect x="564.91" y="181.39" width="3.87" height="3.87" fill="#000000"/><rect x="569.77" y="182.77" width="3.87" height="3.87" fill="#000000"/><rect x="574.62" y="183.76" width="3.87" height="3.87" fill="#000000"/><rect x="579.48" y="184.46" width="3.87" height="3.87" fill="#000000"/><rect x="584.34" y="184.96" width="3.87" height="3.87" fill="#000000"/><rect x="589.19" y="185.31" width="3.87" height="3.87" fill="#000000"/><rect x="594.05" y="185.57" width="3.87" height="3.87" fill="#000000"/><rect x="598.91" y="185.75" width="3.87" height="3.87" fill="#000000"/><rect x="603.77" y="185.88" width="3.87" height="3.87" fill="#000000"/><rect x="608.62" y="185.98" width="3.87" height="3.87" fill="#000000"/><rect x="613.48" y="186.05" width="3.87" height="3.87" fill="#000000"/><rect x="618.34" y="186.11" width="3.87" height="3.87" fill="#000000"/><rect x="623.19" y="186.15" width="3.87" height="3.87" fill="#000000"/><rect x="628.05" y="186.18" width="3.87" height="3.87" fill="#000000"/><rect x="632.91" y="186.20" width="3.87" height="3.87" fill="#000000"/><rect x="637.77" y="186.22" width="3.87" height="3.87" fill="#000000"/>
<path d="M401.70 18.28 L406.56 18.42 L411.41 18.62 L416.27 18.88 L421.13 19.23 L425.99 19.72 L430.84 20.38 L435.70 21.29 L440.56 22.54 L445.41 24.22 L450.27 26.46 L455.13 29.36 L459.99 32.98 L464.84 37.34 L469.70 42.41 L474.56 48.08 L479.41 54.25 L484.27 60.81 L489.13 67.66 L493.99 74.71 L498.84 81.90 L503.70 89.19 L508.56 96.54 L513.41 103.91 L518.27 111.29 L523.13 118.65 L527.99 125.95 L532.84 133.16 L537.70 140.24 L542.56 147.13 L547.41 153.75 L552.27 160.01 L557.13 165.78 L561.99 170.97 L566.84 175.47 L571.70 179.23 L576.56 182.26 L581.41 184.62 L586.27 186.40 L591.13 187.72 L595.99 188.69 L600.84 189.39 L605.70 189.91 L610.56 190.28 L615.41 190.56 L620.27 190.76 L625.13 190.91 L629.99 191.03 L634.84 191.12 L639.70 191.18" fill="none" stroke="#ff0000" stroke-width="0.55"/>
<circle cx="401.70" cy="18.28" r="2.13" fill="#ff0000"/><circle cx="406.56" cy="18.42" r="2.13" fill="#ff0000"/><circle cx="411.41" cy="18.62" r="2.13" fill="#ff0000"/><circle cx="416.27" cy="18.88" r="2.13" fill="#ff0000"/><circle cx="421.13" cy="19.23" r="2.13" fill="#ff0000"/><circle cx="425.99" cy="19.72" r="2.13" fill="#ff0000"/><circle cx="430.84" cy="20.38" r="2.13" fill="#ff0000"/><circle cx="435.70" cy="21.29" r="2.13" fill="#ff0000"/><circle cx="440.56" cy="22.54" r="2.13" fill="#ff0000"/><circle cx="445.41" cy="24.22" r="2.13" fill="#ff0000"/><circle cx="450.27" cy="26.46" r="2.13" fill="#ff0000"/><circle cx="455.13" cy="29.36" r="2.13" fill="#ff0000"/><circle cx="459.99" cy="32.98" r="2.13" fill="#ff0000"/><circle cx="464.84" cy="37.34" r="2.13" fill="#ff0000"/><circle cx="469.70" cy="42.41" r="2.13" fill="#ff0000"/><circle cx="474.56" cy="48.08" r="2.13" fill="#ff0000"/><circle cx="479.41" cy="54.25" r="2.13" fill="#ff0000"/><circle cx="484.27" cy="60.81" r="2.13" fill="#ff0000"/><circle cx="489.13" cy="67.66" r="2.13" fill="#ff0000"/><circle cx="493.99" cy="74.71" r="2.13" fill="#ff0000"/><circle cx="498.84" cy="81.90" r="2.13" fill="#ff0000"/><circle cx="503.70" cy="89.19" r="2.13" fill="#ff0000"/><circle cx="508.56" cy="96.54" r="2.13" fill="#ff0000"/><circle cx="513.41" cy="103.91" r="2.13" fill="#ff0000"/><circle cx="518.27" cy="111.29" r="2.13" fill="#ff0000"/><circle cx="523.13" cy="118.65" r="2.13" fill="#ff0000"/><circle cx="527.99" cy="125.95" r="2.13" fill="#ff0000"/><circle cx="532.84" cy="133.16" r="2.13" fill="#ff0000"/><circle cx="537.70" cy="140.24" r="2.13" fill="#ff0000"/><circle cx="542.56" cy="147.13" r="2.13" fill="#ff0000"/><circle cx="547.41" cy="153.75" r="2.13" fill="#ff0000"/><circle cx="552.27" cy="160.01" r="2.13" fill="#ff0000"/><circle cx="557.13" cy="165.78" r="2.13" fill="#ff0000"/><circle cx="561.99" cy="170.97" r="2.13" fill="#ff0000"/><circle cx="566.84" cy="175.47" r="2.13" fill="#ff0000"/><circle cx="571.70" cy="179.23" r="2.13" fill="#ff0000"/><circle cx="576.56" cy="182.26" r="2.13" fill="#ff0000"/><circle cx="581.41" cy="184.62" r="2.13" fill="#ff0000"/><circle cx="586.27" cy="186.40" r="2.13" fill="#ff0000"/><circle cx="591.13" cy="187.72" r="2.13" fill="#ff0000"/><circle cx="595.99" cy="188.69" r="2.13" fill="#ff0000"/><circle cx="600.84" cy="189.39" r="2.13" fill="#ff0000"/><circle cx="605.70" cy="189.91" r="2.13" fill="#ff0000"/><circle cx="610.56" cy="190.28" r="2.13" fill="#ff0000"/><circle cx="615.41" cy="190.56" r="2.13" fill="#ff0000"/><circle cx="620.27" cy="190.76" r="2.13" fill="#ff0000"/><circle cx="625.13" cy="190.91" r="2.13" fill="#ff0000"/><circle cx="629.99" cy="191.03" r="2.13" fill="#ff0000"/><circle cx="634.84" cy="191.12" r="2.13" fill="#ff0000"/><circle cx="639.70" cy="191.18" r="2.13" fill="#ff0000"/>
<path d="M401.70 44.55 L406.56 44.63 L411.41 44.73 L416.27 44.87 L421.13 45.05 L425.99 45.30 L430.84 45.64 L435.70 46.11 L440.56 46.75 L445.41 47.64 L450.27 48.87 L455.13 50.54 L459.99 52.77 L464.84 55.67 L469.70 59.31 L474.56 63.71 L479.41 68.83 L484.27 74.56 L489.13 80.80 L493.99 87.42 L498.84 94.32 L503.70 101.42 L508.56 108.65 L513.41 115.96 L518.27 123.30 L523.13 130.65 L527.99 137.95 L532.84 145.17 L537.70 152.25 L542.56 159.12 L547.41 165.71 L552.27 171.90 L557.13 177.58 L561.99 182.62 L566.84 186.95 L571.70 190.51 L576.56 193.34 L581.41 195.50 L586.27 197.12 L591.13 198.31 L595.99 199.17 L600.84 199.79 L605.70 200.24 L610.56 200.57 L615.41 200.81 L620.27 200.99 L625.13 201.12 L629.99 201.22 L634.84 201.30 L639.70 201.36" fill="none" stroke="#00ff00" stroke-width="0.55"/>
<path d="M401.70 41.88L404.37 46.55L399.03 46.55Z" fill="#00ff00"/><path d="M406.56 41.96L409.23 46.63L403.89 46.63Z" fill="#00ff00"/><path d="M411.41 42.06L414.08 46.73L408.75 46.73Z" fill="#00ff00"/><path d="M416.27 42.20L418.94 46.87L413.60 46.87Z" fill="#00ff00"/><path d="M421.13 42.38L423.80 47.05L418.46 47.05Z" fill="#00ff00"/><path d="M425.99 42.63L428.65 47.30L423.32 47.30Z" fill="#00ff00"/><path d="M430.84 42.97L433.51 47.64L428.17 47.64Z" fill="#00ff00"/><path d="M435.70 43.44L438.37 48.11L433.03 48.11Z" fill="#00ff00"/><path d="M440.56 44.08L443.23 48.75L437.89 48.75Z" fill="#00ff00"/><path d="M445.41 44.97L448.08 49.64L442.75 49.64Z" fill="#00ff00"/><path d="M450.27 46.20L452.94 50.87L447.60 50.87Z" fill="#00ff00"/><path d="M455.13 47.87L457.80 52.54L452.46 52.54Z" fill="#00ff00"/><path d="M459.99 50.10L462.65 54.77L457.32 54.77Z" fill="#00ff00"/><path d="M464.84 53.00L467.51 57.67L462.17 57.67Z" fill="#00ff00"/><path d="M469.70 56.64L472.37 61.31L467.03 61.31Z" fill="#00ff00"/><path d="M474.56 61.04L477.23 65.71L471.89 65.71Z" fill="#00ff00"/><path d="M479.41 66.16L482.08 70.83L476.75 70.83Z" fill="#00ff00"/><path d="M484.27 71.90L486.94 76.57L481.60 76.57Z" fill="#00ff00"/><path d="M489.13 78.13L491.80 82.80L486.46 82.80Z" fill="#00ff00"/><path d="M493.99 84.75L496.65 89.42L491.32 89.42Z" fill="#00ff00"/><path d="M498.84 91.66L501.51 96.33L496.17 96.33Z" fill="#00ff00"/><path d="M503.70 98.75L506.37 103.42L501.03 103.42Z" fill="#00ff00"/><path d="M508.56 105.98L511.23 110.65L505.89 110.65Z" fill="#00ff00"/><path d="M513.41 113.29L516.08 117.96L510.75 117.96Z" fill="#00ff00"/><path d="M518.27 120.64L520.94 125.31L515.60 125.31Z" fill="#00ff00"/><path d="M523.13 127.98L525.80 132.65L520.46 132.65Z" fill="#00ff00"/><path d="M527.99 135.28L530.65 139.95L525.32 139.95Z" fill="#00ff00"/><path d="M532.84 142.50L535.51 147.17L530.17 147.17Z" fill="#00ff00"/><path d="M537.70 149.58L540.37 154.25L535.03 154.25Z" fill="#00ff00"/><path d="M542.56 156.46L545.23 161.13L539.89 161.13Z" fill="#00ff00"/><path d="M547.41 163.04L550.08 167.71L544.75 167.71Z" fill="#00ff00"/><path d="M552.27 169.23L554.94 173.90L549.60 173.90Z" fill="#00ff00"/><path d="M557.13 174.91L559.80 179.58L554.46 179.58Z" fill="#00ff00"/><path d="M561.99 179.95L564.65 184.62L559.32 184.62Z" fill="#00ff00"/><path d="M566.84 184.28L569.51 188.95L564.17 188.95Z" fill="#00ff00"/><path d="M571.70 187.84L574.37 192.51L569.03 192.51Z" fill="#00ff00"/><path d="M576.56 190.67L579.23 195.34L573.89 195.34Z" fill="#00ff00"/><path d="M581.41 192.84L584.08 197.51L578.75 197.51Z" fill="#00ff00"/><path d="M586.27 194.45L588.94 199.12L583.60 199.12Z" fill="#00ff00"/><path d="M591.13 195.64L593.80 200.31L588.46 200.31Z" fill="#00ff00"/><path d="M595.99 196.50L598.65 201.17L593.32 201.17Z" fill="#00ff00"/><path d="M600.84 197.12L603.51 201.79L598.17 201.79Z" fill="#00ff00"/><path d="M605.70 197.57L608.37 202.24L603.03 202.24Z" fill="#00ff00"/><path d="M610.56 197.90L613.23 202.57L607.89 202.57Z" fill="#00ff00"/><path d="M615.41 198.14L618.08 202.81L612.75 202.81Z" fill="#00ff00"/><path d="M620.27 198.32L622.94 202.99L617.60 202.99Z" fill="#00ff00"/><path d="M625.13 198.46L627.80 203.13L622.46 203.13Z" fill="#00ff00"/><path d="M629.99 198.56L632.65 203.23L627.32 203.23Z" fill="#00ff00"/><path d="M634.84 198.63L637.51 203.30L632.17 203.30Z" fill="#00ff00"/><path d="M639.70 198.69L642.37 203.36L637.03 203.36Z" fill="#00ff00"/>
<path d="M401.70 53.29 L406.56 53.35 L411.41 53.42 L416.27 53.51 L421.13 53.64 L425.99 53.81 L430.84 54.05 L435.70 54.37 L440.56 54.82 L445.41 55.44 L450.27 56.30 L455.13 57.50 L459.99 59.15 L464.84 61.36 L469.70 64.27 L474.56 67.93 L479.41 72.38 L484.27 77.56 L489.13 83.37 L493.99 89.69 L498.84 96.39 L503.70 103.37 L508.56 110.54 L513.41 117.82 L518.27 125.16 L523.13 132.52 L527.99 139.83 L532.84 147.06 L537.70 154.14 L542.56 160.98 L547.41 167.49 L552.27 173.55 L557.13 179.03 L561.99 183.82 L566.84 187.84 L571.70 191.09 L576.56 193.61 L581.41 195.50 L586.27 196.89 L591.13 197.89 L595.99 198.61 L600.84 199.13 L605.70 199.51 L610.56 199.78 L615.41 199.97 L620.27 200.12 L625.13 200.23 L629.99 200.31 L634.84 200.37 L639.70 200.42" fill="none" stroke="#0000ff" stroke-width="0.55"/>
<path d="M401.70 55.96L404.37 51.29L399.03 51.29Z" fill="#0000ff"/><path d="M406.56 56.02L409.23 51.35L403.89 51.35Z" fill="#0000ff"/><path d="M411.41 56.09L414.08 51.42L408.75 51.42Z" fill="#0000ff"/><path d="M416.27 56.18L418.94 51.51L413.60 51.51Z" fill="#0000ff"/><path d="M421.13 56.31L423.80 51.64L418.46 51.64Z" fill="#0000ff"/><path d="M425.99 56.48L428.65 51.81L423.32 51.81Z" fill="#0000ff"/><path d="M430.84 56.72L433.51 52.05L428.17 52.05Z" fill="#0000ff"/><path d="M435.70 57.04L438.37 52.37L433.03 52.37Z" fill="#0000ff"/><path d="M440.56 57.49L443.23 52.82L437.89 52.82Z" fill="#0000ff"/><path d="M445.41 58.11L448.08 53.44L442.75 53.44Z" fill="#0000ff"/><path d="M450.27 58.97L452.94 54.30L447.60 54.30Z" fill="#0000ff"/><path d="M455.13 60.17L457.80 55.50L452.46 55.50Z" fill="#0000ff"/><path d="M459.99 61.82L462.65 57.15L457.32 57.15Z" fill="#0000ff"/><path d="M464.84 64.03L467.51 59.36L462.17 59.36Z" fill="#0000ff"/><path d="M469.70 66.94L472.37 62.27L467.03 62.27Z" fill="#0000ff"/><path d="M474.56 70.60L477.23 65.93L471.89 65.93Z" fill="#0000ff"/><path d="M479.41 75.05L482.08 70.38L476.75 70.38Z" fill="#0000ff"/><path d="M484.27 80.23L486.94 75.56L481.60 75.56Z" fill="#0000ff"/><path d="M489.13 86.04L491.80 81.37L486.46 81.37Z" fill="#0000ff"/><path d="M493.99 92.36L496.65 87.69L491.32 87.69Z" fill="#0000ff"/><path d="M498.84 99.06L501.51 94.39L496.17 94.39Z" fill="#0000ff"/><path d="M503.70 106.04L506.37 101.37L501.03 101.37Z" fill="#0000ff"/><path d="M508.56 113.21L511.23 108.54L505.89 108.54Z" fill="#0000ff"/><path d="M513.41 120.49L516.08 115.82L510.75 115.82Z" fill="#0000ff"/><path d="M518.27 127.83L520.94 123.16L515.60 123.16Z" fill="#0000ff"/><path d="M523.13 135.19L525.80 130.52L520.46 130.52Z" fill="#0000ff"/><path d="M527.99 142.50L530.65 137.83L525.32 137.83Z" fill="#0000ff"/><path d="M532.84 149.73L535.51 145.06L530.17 145.06Z" fill="#0000ff"/><path d="M537.70 156.80L540.37 152.13L535.03 152.13Z" fill="#0000ff"/><path d="M542.56 163.65L545.23 158.98L539.89 158.98Z" fill="#0000ff"/><path d="M547.41 170.15L550.08 165.48L544.75 165.48Z" fill="#0000ff"/><path d="M552.27 176.21L554.94 171.54L549.60 171.54Z" fill="#0000ff"/><path d="M557.13 181.70L559.80 177.03L554.46 177.03Z" fill="#0000ff"/><path d="M561.99 186.49L564.65 181.82L559.32 181.82Z" fill="#0000ff"/><path d="M566.84 190.51L569.51 185.84L564.17 185.84Z" fill="#0000ff"/><path d="M571.70 193.76L574.37 189.09L569.03 189.09Z" fill="#0000ff"/><path d="M576.56 196.28L579.23 191.61L573.89 191.61Z" fill="#0000ff"/><path d="M581.41 198.17L584.08 193.50L578.75 193.50Z" fill="#0000ff"/><path d="M586.27 199.56L588.94 194.89L583.60 194.89Z" fill="#0000ff"/><path d="M591.13 200.56L593.80 195.89L588.46 195.89Z" fill="#0000ff"/><path d="M595.99 201.28L598.65 196.61L593.32 196.61Z" fill="#0000ff"/><path d="M600.84 201.80L603.51 197.13L598.17 197.13Z" fill="#0000ff"/><path d="M605.70 202.17L608.37 197.50L603.03 197.50Z" fill="#0000ff"/><path d="M610.56 202.44L613.23 197.77L607.89 197.77Z" fill="#0000ff"/><path d="M615.41 202.64L618.08 197.97L612.75 197.97Z" fill="#0000ff"/><path d="M620.27 202.79L622.94 198.12L617.60 198.12Z" fill="#0000ff"/><path d="M625.13 202.90L627.80 198.23L622.46 198.23Z" fill="#0000ff"/><path d="M629.99 202.98L632.65 198.31L627.32 198.31Z" fill="#0000ff"/><path d="M634.84 203.04L637.51 198.37L632.17 198.37Z" fill="#0000ff"/><path d="M639.70 203.09L642.37 198.42L637.03 198.42Z" fill="#0000ff"/>
<path d="M401.70 60.70 L406.56 60.76 L411.41 60.83 L416.27 60.93 L421.13 61.05 L425.99 61.21 L430.84 61.43 L435.70 61.73 L440.56 62.13 L445.41 62.68 L450.27 63.42 L455.13 64.44 L459.99 65.82 L464.84 67.68 L469.70 70.11 L474.56 73.20 L479.41 77.02 L484.27 81.55 L489.13 86.74 L493.99 92.49 L498.84 98.68 L503.70 105.21 L508.56 111.97 L513.41 118.89 L518.27 125.90 L523.13 132.93 L527.99 139.94 L532.84 146.85 L537.70 153.61 L542.56 160.12 L547.41 166.30 L552.27 172.03 L557.13 177.20 L561.99 181.71 L566.84 185.50 L571.70 188.58 L576.56 190.99 L581.41 192.82 L586.27 194.19 L591.13 195.20 L595.99 195.93 L600.84 196.47 L605.70 196.87 L610.56 197.16 L615.41 197.38 L620.27 197.54 L625.13 197.67 L629.99 197.76 L634.84 197.83 L639.70 197.89" fill="none" stroke="#808000" stroke-width="0.55"/>
<path d="M401.70 58.15L404.25 60.70L401.70 63.26L399.15 60.70Z" fill="#808000"/><path d="M406.56 58.21L409.11 60.76L406.56 63.31L404.00 60.76Z" fill="#808000"/><path d="M411.41 58.28L413.97 60.83L411.41 63.38L408.86 60.83Z" fill="#808000"/><path d="M416.27 58.37L418.82 60.93L416.27 63.48L413.72 60.93Z" fill="#808000"/><path d="M421.13 58.50L423.68 61.05L421.13 63.60L418.58 61.05Z" fill="#808000"/><path d="M425.99 58.66L428.54 61.21L425.99 63.77L423.43 61.21Z" fill="#808000"/><path d="M430.84 58.88L433.40 61.43L430.84 63.99L428.29 61.43Z" fill="#808000"/><path d="M435.70 59.18L438.25 61.73L435.70 64.28L433.15 61.73Z" fill="#808000"/><path d="M440.56 59.58L443.11 62.13L440.56 64.68L438.00 62.13Z" fill="#808000"/><path d="M445.41 60.12L447.97 62.68L445.41 65.23L442.86 62.68Z" fill="#808000"/><path d="M450.27 60.87L452.82 63.42L450.27 65.97L447.72 63.42Z" fill="#808000"/><path d="M455.13 61.89L457.68 64.44L455.13 66.99L452.58 64.44Z" fill="#808000"/><path d="M459.99 63.27L462.54 65.82L459.99 68.38L457.43 65.82Z" fill="#808000"/><path d="M464.84 65.12L467.40 67.68L464.84 70.23L462.29 67.68Z" fill="#808000"/><path d="M469.70 67.55L472.25 70.11L469.70 72.66L467.15 70.11Z" fill="#808000"/><path d="M474.56 70.65L477.11 73.20L474.56 75.76L472.00 73.20Z" fill="#808000"/><path d="M479.41 74.47L481.97 77.02L479.41 79.57L476.86 77.02Z" fill="#808000"/><path d="M484.27 79.00L486.82 81.55L484.27 84.11L481.72 81.55Z" fill="#808000"/><path d="M489.13 84.19L491.68 86.74L489.13 89.30L486.58 86.74Z" fill="#808000"/><path d="M493.99 89.94L496.54 92.49L493.99 95.04L491.43 92.49Z" fill="#808000"/><path d="M498.84 96.13L501.40 98.68L498.84 101.24L496.29 98.68Z" fill="#808000"/><path d="M503.70 102.66L506.25 105.21L503.70 107.76L501.15 105.21Z" fill="#808000"/><path d="M508.56 109.42L511.11 111.97L508.56 114.53L506.00 111.97Z" fill="#808000"/><path d="M513.41 116.34L515.97 118.89L513.41 121.44L510.86 118.89Z" fill="#808000"/><path d="M518.27 123.35L520.82 125.90L518.27 128.45L515.72 125.90Z" fill="#808000"/><path d="M523.13 130.38L525.68 132.93L523.13 135.48L520.58 132.93Z" fill="#808000"/><path d="M527.99 137.38L530.54 139.94L527.99 142.49L525.43 139.94Z" fill="#808000"/><path d="M532.84 144.30L535.40 146.85L532.84 149.40L530.29 146.85Z" fill="#808000"/><path d="M537.70 151.06L540.25 153.61L537.70 156.16L535.15 153.61Z" fill="#808000"/><path d="M542.56 157.57L545.11 160.12L542.56 162.68L540.00 160.12Z" fill="#808000"/><path d="M547.41 163.75L549.97 166.30L547.41 168.86L544.86 166.30Z" fill="#808000"/><path d="M552.27 169.48L554.82 172.03L552.27 174.59L549.72 172.03Z" fill="#808000"/><path d="M557.13 174.65L559.68 177.20L557.13 179.75L554.58 177.20Z" fill="#808000"/><path d="M561.99 179.16L564.54 181.71L561.99 184.26L559.43 181.71Z" fill="#808000"/><path d="M566.84 182.95L569.40 185.50L566.84 188.06L564.29 185.50Z" fill="#808000"/><path d="M571.70 186.02L574.25 188.58L571.70 191.13L569.15 188.58Z" fill="#808000"/><path d="M576.56 188.43L579.11 190.99L576.56 193.54L574.00 190.99Z" fill="#808000"/><path d="M581.41 190.27L583.97 192.82L581.41 195.37L578.86 192.82Z" fill="#808000"/><path d="M586.27 191.64L588.82 194.19L586.27 196.74L583.72 194.19Z" fill="#808000"/><path d="M591.13 192.64L593.68 195.20L591.13 197.75L588.58 195.20Z" fill="#808000"/><path d="M595.99 193.38L598.54 195.93L595.99 198.49L593.43 195.93Z" fill="#808000"/><path d="M600.84 193.92L603.40 196.47L600.84 199.03L598.29 196.47Z" fill="#808000"/><path d="M605.70 194.32L608.25 196.87L605.70 199.42L603.15 196.87Z" fill="#808000"/><path d="M610.56 194.61L613.11 197.16L610.56 199.72L608.00 197.16Z" fill="#808000"/><path d="M615.41 194.83L617.97 197.38L615.41 199.93L612.86 197.38Z" fill="#808000"/><path d="M620.27 194.99L622.82 197.54L620.27 200.10L617.72 197.54Z" fill="#808000"/><path d="M625.13 195.11L627.68 197.67L625.13 200.22L622.58 197.67Z" fill="#808000"/><path d="M629.99 195.21L632.54 197.76L629.99 200.31L627.43 197.76Z" fill="#808000"/><path d="M634.84 195.28L637.40 197.83L634.84 200.38L632.29 197.83Z" fill="#808000"/><path d="M639.70 195.33L642.25 197.89L639.70 200.44L637.15 197.89Z" fill="#808000"/>
<path d="M401.70 76.81 L406.56 76.84 L411.41 76.88 L416.27 76.93 L421.13 77.00 L425.99 77.09 L430.84 77.21 L435.70 77.38 L440.56 77.61 L445.41 77.92 L450.27 78.35 L455.13 78.95 L459.99 79.79 L464.84 80.96 L469.70 82.56 L474.56 84.73 L479.41 87.58 L484.27 91.18 L489.13 95.57 L493.99 100.69 L498.84 106.44 L503.70 112.69 L508.56 119.33 L513.41 126.22 L518.27 133.27 L523.13 140.39 L527.99 147.51 L532.84 154.54 L537.70 161.41 L542.56 168.01 L547.41 174.21 L552.27 179.90 L557.13 184.94 L561.99 189.23 L566.84 192.75 L571.70 195.51 L576.56 197.61 L581.41 199.16 L586.27 200.28 L591.13 201.09 L595.99 201.67 L600.84 202.09 L605.70 202.39 L610.56 202.60 L615.41 202.77 L620.27 202.89 L625.13 202.97 L629.99 203.04 L634.84 203.09 L639.70 203.13" fill="none" stroke="#ff00ff" stroke-width="0.55"/>
<path d="M399.03 76.81L403.70 74.14L403.70 79.47Z" fill="#ff00ff"/><path d="M403.89 76.84L408.56 74.17L408.56 79.51Z" fill="#ff00ff"/><path d="M408.75 76.88L413.42 74.21L413.42 79.55Z" fill="#ff00ff"/><path d="M413.60 76.93L418.27 74.26L418.27 79.60Z" fill="#ff00ff"/><path d="M418.46 77.00L423.13 74.33L423.13 79.67Z" fill="#ff00ff"/><path d="M423.32 77.09L427.99 74.42L427.99 79.76Z" fill="#ff00ff"/><path d="M428.17 77.21L432.84 74.55L432.84 79.88Z" fill="#ff00ff"/><path d="M433.03 77.38L437.70 74.71L437.70 80.05Z" fill="#ff00ff"/><path d="M437.89 77.61L442.56 74.94L442.56 80.28Z" fill="#ff00ff"/><path d="M442.75 77.92L447.42 75.25L447.42 80.59Z" fill="#ff00ff"/><path d="M447.60 78.35L452.27 75.68L452.27 81.02Z" fill="#ff00ff"/><path d="M452.46 78.95L457.13 76.28L457.13 81.62Z" fill="#ff00ff"/><path d="M457.32 79.79L461.99 77.12L461.99 82.46Z" fill="#ff00ff"/><path d="M462.17 80.96L466.84 78.29L466.84 83.63Z" fill="#ff00ff"/><path d="M467.03 82.56L471.70 79.89L471.70 85.23Z" fill="#ff00ff"/><path d="M471.89 84.73L476.56 82.06L476.56 87.40Z" fill="#ff00ff"/><path d="M476.75 87.58L481.42 84.91L481.42 90.24Z" fill="#ff00ff"/><path d="M481.60 91.18L486.27 88.51L486.27 93.85Z" fill="#ff00ff"/><path d="M486.46 95.57L491.13 92.90L491.13 98.24Z" fill="#ff00ff"/><path d="M491.32 100.69L495.99 98.02L495.99 103.35Z" fill="#ff00ff"/><path d="M496.17 106.44L500.84 103.77L500.84 109.11Z" fill="#ff00ff"/><path d="M501.03 112.69L505.70 110.03L505.70 115.36Z" fill="#ff00ff"/><path d="M505.89 119.33L510.56 116.66L510.56 122.00Z" fill="#ff00ff"/><path d="M510.75 126.22L515.42 123.55L515.42 128.89Z" fill="#ff00ff"/><path d="M515.60 133.27L520.27 130.60L520.27 135.93Z" fill="#ff00ff"/><path d="M520.46 140.39L525.13 137.72L525.13 143.06Z" fill="#ff00ff"/><path d="M525.32 147.51L529.99 144.84L529.99 150.18Z" fill="#ff00ff"/><path d="M530.17 154.54L534.84 151.87L534.84 157.21Z" fill="#ff00ff"/><path d="M535.03 161.41L539.70 158.74L539.70 164.08Z" fill="#ff00ff"/><path d="M539.89 168.01L544.56 165.34L544.56 170.67Z" fill="#ff00ff"/><path d="M544.75 174.21L549.42 171.54L549.42 176.88Z" fill="#ff00ff"/><path d="M549.60 179.90L554.27 177.23L554.27 182.57Z" fill="#ff00ff"/><path d="M554.46 184.94L559.13 182.27L559.13 187.61Z" fill="#ff00ff"/><path d="M559.32 189.23L563.99 186.57L563.99 191.90Z" fill="#ff00ff"/><path d="M564.17 192.75L568.84 190.08L568.84 195.42Z" fill="#ff00ff"/><path d="M569.03 195.51L573.70 192.84L573.70 198.18Z" fill="#ff00ff"/><path d="M573.89 197.61L578.56 194.94L578.56 200.28Z" fill="#ff00ff"/><path d="M578.75 199.16L583.42 196.49L583.42 201.83Z" fill="#ff00ff"/><path d="M583.60 200.28L588.27 197.61L588.27 202.95Z" fill="#ff00ff"/><path d="M588.46 201.09L593.13 198.42L593.13 203.76Z" fill="#ff00ff"/><path d="M593.32 201.67L597.99 199.00L597.99 204.34Z" fill="#ff00ff"/><path d="M598.17 202.09L602.84 199.42L602.84 204.75Z" fill="#ff00ff"/><path d="M603.03 202.39L607.70 199.72L607.70 205.05Z" fill="#ff00ff"/><path d="M607.89 202.60L612.56 199.94L612.56 205.27Z" fill="#ff00ff"/><path d="M612.75 202.77L617.42 200.10L617.42 205.43Z" fill="#ff00ff"/><path d="M617.60 202.89L622.27 200.22L622.27 205.55Z" fill="#ff00ff"/><path d="M622.46 202.97L627.13 200.31L627.13 205.64Z" fill="#ff00ff"/><path d="M627.32 203.04L631.99 200.37L631.99 205.71Z" fill="#ff00ff"/><path d="M632.17 203.09L636.84 200.42L636.84 205.76Z" fill="#ff00ff"/><path d="M637.03 203.13L641.70 200.46L641.70 205.80Z" fill="#ff00ff"/>
<path d="M382.2 0.2H659.3" stroke="#999" stroke-width="1.3" fill="none"/>
<path d="M659.3 -0.45V221.65" stroke="#777" stroke-width="1.3" fill="none"/>
<path d="M382.2 -0.45V221H659.9499999999999" stroke="#333" stroke-width="1.3" fill="none"/>
<text x="401.70" y="235.20" text-anchor="middle" font-size="9.5">-1</text>
<text x="441.37" y="235.20" text-anchor="middle" font-size="9.5">0</text>
<text x="481.03" y="235.20" text-anchor="middle" font-size="9.5">1</text>
<text x="520.70" y="235.20" text-anchor="middle" font-size="9.5">2</text>
<text x="560.37" y="235.20" text-anchor="middle" font-size="9.5">3</text>
<text x="600.03" y="235.20" text-anchor="middle" font-size="9.5">4</text>
<text x="639.70" y="235.20" text-anchor="middle" font-size="9.5">5</text>
<text x="375.00" y="209.63" text-anchor="end" font-size="9.5">0.3</text>
<text x="375.00" y="187.62" text-anchor="end" font-size="9.5">0.6</text>
<text x="375.00" y="165.61" text-anchor="end" font-size="9.5">0.9</text>
<text x="375.00" y="143.60" text-anchor="end" font-size="9.5">1.2</text>
<text x="375.00" y="121.59" text-anchor="end" font-size="9.5">1.5</text>
<text x="375.00" y="99.57" text-anchor="end" font-size="9.5">1.8</text>
<text x="375.00" y="77.56" text-anchor="end" font-size="9.5">2.1</text>
<text x="375.00" y="55.55" text-anchor="end" font-size="9.5">2.4</text>
<text x="375.00" y="33.54" text-anchor="end" font-size="9.5">2.7</text>
<text x="375.00" y="11.53" text-anchor="end" font-size="9.5">3.0</text>
<path d="M381.87 221.00V223.68M401.70 221.00V225.86M421.53 221.00V223.68M441.37 221.00V225.86M461.20 221.00V223.68M481.03 221.00V225.86M500.87 221.00V223.68M520.70 221.00V225.86M540.53 221.00V223.68M560.37 221.00V225.86M580.20 221.00V223.68M600.03 221.00V225.86M619.87 221.00V223.68M639.70 221.00V225.86M659.53 221.00V223.68M382.20 217.41H379.52M382.20 206.40H377.34M382.20 195.39H379.52M382.20 184.39H377.34M382.20 173.38H379.52M382.20 162.38H377.34M382.20 151.37H379.52M382.20 140.37H377.34M382.20 129.36H379.52M382.20 118.36H377.34M382.20 107.35H379.52M382.20 96.34H377.34M382.20 85.34H379.52M382.20 74.33H377.34M382.20 63.33H379.52M382.20 52.32H377.34M382.20 41.32H379.52M382.20 30.31H377.34M382.20 19.31H379.52M382.20 8.30H377.34" stroke="#333" stroke-width="1.1" fill="none"/>
<text x="521" y="250" text-anchor="middle" font-size="10">log f (Hz)</text>
<text transform="translate(355,119.6) rotate(-90)" text-anchor="middle" font-size="10">log Z (Ω cm<tspan dy="-4" font-size="7">2</tspan><tspan dy="4">)</tspan></text>
<text x="517" y="37.7" font-size="10">(a) DS1</text>
<path d="M588.00 81.00H595.73M603.67 81.00H611.40" stroke="#000000" stroke-width="0.8" opacity="0.75"/>
<rect x="597.19" y="78.49" width="5.03" height="5.03" fill="#000000"/>
<text x="614.30" y="84.50" font-size="10">Blank</text>
<path d="M588.00 93.45H595.73M603.67 93.45H611.40" stroke="#ff0000" stroke-width="0.8" opacity="0.75"/>
<circle cx="599.70" cy="93.45" r="2.77" fill="#ff0000"/>
<text x="614.30" y="96.95" font-size="10">1.00 mM</text>
<path d="M588.00 105.90H595.73M603.67 105.90H611.40" stroke="#00ff00" stroke-width="0.8" opacity="0.75"/>
<path d="M599.70 102.43L603.17 108.50L596.23 108.50Z" fill="#00ff00"/>
<text x="614.30" y="109.40" font-size="10">0.75 mM</text>
<path d="M588.00 118.35H595.73M603.67 118.35H611.40" stroke="#0000ff" stroke-width="0.8" opacity="0.75"/>
<path d="M599.70 121.82L603.17 115.75L596.23 115.75Z" fill="#0000ff"/>
<text x="614.30" y="121.85" font-size="10">0.50 mM</text>
<path d="M588.00 130.80H595.73M603.67 130.80H611.40" stroke="#808000" stroke-width="0.8" opacity="0.75"/>
<path d="M599.70 127.48L603.02 130.80L599.70 134.12L596.38 130.80Z" fill="#808000"/>
<text x="614.30" y="134.30" font-size="10">0.25 mM</text>
<path d="M588.00 143.25H595.73M603.67 143.25H611.40" stroke="#ff00ff" stroke-width="0.8" opacity="0.75"/>
<path d="M596.23 143.25L602.30 139.78L602.30 146.72Z" fill="#ff00ff"/>
<text x="614.30" y="146.75" font-size="10">0.10 mM</text>
<path d="M76.90 466.41 L81.81 466.27 L86.72 466.09 L91.62 465.87 L96.53 465.58 L101.44 465.21 L106.35 464.74 L111.26 464.14 L116.17 463.37 L121.07 462.40 L125.98 461.15 L130.89 459.57 L135.80 457.56 L140.71 455.01 L145.61 451.80 L150.52 447.78 L155.43 442.76 L160.34 436.58 L165.25 429.09 L170.16 420.20 L175.06 409.96 L179.97 398.65 L184.88 386.84 L189.79 375.34 L194.70 365.15 L199.60 357.24 L204.51 352.38 L209.42 351.04 L214.33 353.34 L219.24 359.08 L224.14 367.69 L229.05 378.32 L233.96 390.00 L238.87 401.75 L243.78 412.81 L248.69 422.71 L253.59 431.22 L258.50 438.36 L263.41 444.21 L268.32 448.94 L273.23 452.73 L278.13 455.75 L283.04 458.14 L287.95 460.03 L292.86 461.51 L297.77 462.68 L302.68 463.60 L307.58 464.31 L312.49 464.88 L317.40 465.32" fill="none" stroke="#000000" stroke-width="0.55"/>
<rect x="74.95" y="464.45" width="3.91" height="3.91" fill="#000000"/><rect x="79.85" y="464.31" width="3.91" height="3.91" fill="#000000"/><rect x="84.76" y="464.14" width="3.91" height="3.91" fill="#000000"/><rect x="89.67" y="463.91" width="3.91" height="3.91" fill="#000000"/><rect x="94.58" y="463.62" width="3.91" height="3.91" fill="#000000"/><rect x="99.49" y="463.26" width="3.91" height="3.91" fill="#000000"/><rect x="104.39" y="462.79" width="3.91" height="3.91" fill="#000000"/><rect x="109.30" y="462.19" width="3.91" height="3.91" fill="#000000"/><rect x="114.21" y="461.42" width="3.91" height="3.91" fill="#000000"/><rect x="119.12" y="460.44" width="3.91" height="3.91" fill="#000000"/><rect x="124.03" y="459.20" width="3.91" height="3.91" fill="#000000"/><rect x="128.94" y="457.61" width="3.91" height="3.91" fill="#000000"/><rect x="133.84" y="455.60" width="3.91" height="3.91" fill="#000000"/><rect x="138.75" y="453.06" width="3.91" height="3.91" fill="#000000"/><rect x="143.66" y="449.85" width="3.91" height="3.91" fill="#000000"/><rect x="148.57" y="445.82" width="3.91" height="3.91" fill="#000000"/><rect x="153.48" y="440.81" width="3.91" height="3.91" fill="#000000"/><rect x="158.38" y="434.63" width="3.91" height="3.91" fill="#000000"/><rect x="163.29" y="427.14" width="3.91" height="3.91" fill="#000000"/><rect x="168.20" y="418.24" width="3.91" height="3.91" fill="#000000"/><rect x="173.11" y="408.00" width="3.91" height="3.91" fill="#000000"/><rect x="178.02" y="396.70" width="3.91" height="3.91" fill="#000000"/><rect x="182.93" y="384.88" width="3.91" height="3.91" fill="#000000"/><rect x="187.83" y="373.39" width="3.91" height="3.91" fill="#000000"/><rect x="192.74" y="363.20" width="3.91" height="3.91" fill="#000000"/><rect x="197.65" y="355.29" width="3.91" height="3.91" fill="#000000"/><rect x="202.56" y="350.42" width="3.91" height="3.91" fill="#000000"/><rect x="207.47" y="349.08" width="3.91" height="3.91" fill="#000000"/><rect x="212.37" y="351.39" width="3.91" height="3.91" fill="#000000"/><rect x="217.28" y="357.13" width="3.91" height="3.91" fill="#000000"/><rect x="222.19" y="365.73" width="3.91" height="3.91" fill="#000000"/><rect x="227.10" y="376.37" width="3.91" height="3.91" fill="#000000"/><rect x="232.01" y="388.04" width="3.91" height="3.91" fill="#000000"/><rect x="236.92" y="399.79" width="3.91" height="3.91" fill="#000000"/><rect x="241.82" y="410.86" width="3.91" height="3.91" fill="#000000"/><rect x="246.73" y="420.75" width="3.91" height="3.91" fill="#000000"/><rect x="251.64" y="429.27" width="3.91" height="3.91" fill="#000000"/><rect x="256.55" y="436.40" width="3.91" height="3.91" fill="#000000"/><rect x="261.46" y="442.25" width="3.91" height="3.91" fill="#000000"/><rect x="266.36" y="446.99" width="3.91" height="3.91" fill="#000000"/><rect x="271.27" y="450.78" width="3.91" height="3.91" fill="#000000"/><rect x="276.18" y="453.80" width="3.91" height="3.91" fill="#000000"/><rect x="281.09" y="456.19" width="3.91" height="3.91" fill="#000000"/><rect x="286.00" y="458.07" width="3.91" height="3.91" fill="#000000"/><rect x="290.91" y="459.56" width="3.91" height="3.91" fill="#000000"/><rect x="295.81" y="460.73" width="3.91" height="3.91" fill="#000000"/><rect x="300.72" y="461.64" width="3.91" height="3.91" fill="#000000"/><rect x="305.63" y="462.36" width="3.91" height="3.91" fill="#000000"/><rect x="310.54" y="462.92" width="3.91" height="3.91" fill="#000000"/><rect x="315.45" y="463.36" width="3.91" height="3.91" fill="#000000"/>
<path d="M76.90 461.87 L81.81 460.58 L86.72 458.96 L91.62 456.94 L96.53 454.42 L101.44 451.30 L106.35 447.42 L111.26 442.66 L116.17 436.85 L121.07 429.82 L125.98 421.46 L130.89 411.67 L135.80 400.50 L140.71 388.12 L145.61 374.88 L150.52 361.25 L155.43 347.82 L160.34 335.12 L165.25 323.56 L170.16 313.43 L175.06 304.81 L179.97 297.71 L184.88 292.03 L189.79 287.66 L194.70 284.48 L199.60 282.40 L204.51 281.33 L209.42 281.24 L214.33 282.13 L219.24 284.03 L224.14 287.00 L229.05 291.15 L233.96 296.58 L238.87 303.42 L243.78 311.76 L248.69 321.62 L253.59 332.93 L258.50 345.45 L263.41 358.79 L268.32 372.42 L273.23 385.78 L278.13 398.35 L283.04 409.75 L287.95 419.79 L292.86 428.41 L297.77 435.67 L302.68 441.69 L307.58 446.63 L312.49 450.65 L317.40 453.91" fill="none" stroke="#ff0000" stroke-width="0.55"/>
<circle cx="76.90" cy="461.87" r="2.15" fill="#ff0000"/><circle cx="81.81" cy="460.58" r="2.15" fill="#ff0000"/><circle cx="86.72" cy="458.96" r="2.15" fill="#ff0000"/><circle cx="91.62" cy="456.94" r="2.15" fill="#ff0000"/><circle cx="96.53" cy="454.42" r="2.15" fill="#ff0000"/><circle cx="101.44" cy="451.30" r="2.15" fill="#ff0000"/><circle cx="106.35" cy="447.42" r="2.15" fill="#ff0000"/><circle cx="111.26" cy="442.66" r="2.15" fill="#ff0000"/><circle cx="116.17" cy="436.85" r="2.15" fill="#ff0000"/><circle cx="121.07" cy="429.82" r="2.15" fill="#ff0000"/><circle cx="125.98" cy="421.46" r="2.15" fill="#ff0000"/><circle cx="130.89" cy="411.67" r="2.15" fill="#ff0000"/><circle cx="135.80" cy="400.50" r="2.15" fill="#ff0000"/><circle cx="140.71" cy="388.12" r="2.15" fill="#ff0000"/><circle cx="145.61" cy="374.88" r="2.15" fill="#ff0000"/><circle cx="150.52" cy="361.25" r="2.15" fill="#ff0000"/><circle cx="155.43" cy="347.82" r="2.15" fill="#ff0000"/><circle cx="160.34" cy="335.12" r="2.15" fill="#ff0000"/><circle cx="165.25" cy="323.56" r="2.15" fill="#ff0000"/><circle cx="170.16" cy="313.43" r="2.15" fill="#ff0000"/><circle cx="175.06" cy="304.81" r="2.15" fill="#ff0000"/><circle cx="179.97" cy="297.71" r="2.15" fill="#ff0000"/><circle cx="184.88" cy="292.03" r="2.15" fill="#ff0000"/><circle cx="189.79" cy="287.66" r="2.15" fill="#ff0000"/><circle cx="194.70" cy="284.48" r="2.15" fill="#ff0000"/><circle cx="199.60" cy="282.40" r="2.15" fill="#ff0000"/><circle cx="204.51" cy="281.33" r="2.15" fill="#ff0000"/><circle cx="209.42" cy="281.24" r="2.15" fill="#ff0000"/><circle cx="214.33" cy="282.13" r="2.15" fill="#ff0000"/><circle cx="219.24" cy="284.03" r="2.15" fill="#ff0000"/><circle cx="224.14" cy="287.00" r="2.15" fill="#ff0000"/><circle cx="229.05" cy="291.15" r="2.15" fill="#ff0000"/><circle cx="233.96" cy="296.58" r="2.15" fill="#ff0000"/><circle cx="238.87" cy="303.42" r="2.15" fill="#ff0000"/><circle cx="243.78" cy="311.76" r="2.15" fill="#ff0000"/><circle cx="248.69" cy="321.62" r="2.15" fill="#ff0000"/><circle cx="253.59" cy="332.93" r="2.15" fill="#ff0000"/><circle cx="258.50" cy="345.45" r="2.15" fill="#ff0000"/><circle cx="263.41" cy="358.79" r="2.15" fill="#ff0000"/><circle cx="268.32" cy="372.42" r="2.15" fill="#ff0000"/><circle cx="273.23" cy="385.78" r="2.15" fill="#ff0000"/><circle cx="278.13" cy="398.35" r="2.15" fill="#ff0000"/><circle cx="283.04" cy="409.75" r="2.15" fill="#ff0000"/><circle cx="287.95" cy="419.79" r="2.15" fill="#ff0000"/><circle cx="292.86" cy="428.41" r="2.15" fill="#ff0000"/><circle cx="297.77" cy="435.67" r="2.15" fill="#ff0000"/><circle cx="302.68" cy="441.69" r="2.15" fill="#ff0000"/><circle cx="307.58" cy="446.63" r="2.15" fill="#ff0000"/><circle cx="312.49" cy="450.65" r="2.15" fill="#ff0000"/><circle cx="317.40" cy="453.91" r="2.15" fill="#ff0000"/>
<path d="M76.90 462.11 L81.81 460.84 L86.72 459.24 L91.62 457.22 L96.53 454.69 L101.44 451.52 L106.35 447.57 L111.26 442.67 L116.17 436.64 L121.07 429.29 L125.98 420.47 L130.89 410.09 L135.80 398.17 L140.71 384.91 L145.61 370.72 L150.52 356.18 L155.43 341.93 L160.34 328.58 L165.25 316.58 L170.16 306.17 L175.06 297.42 L179.97 290.29 L184.88 284.66 L189.79 280.36 L194.70 277.27 L199.60 275.26 L204.51 274.27 L209.42 274.24 L214.33 275.18 L219.24 277.13 L224.14 280.16 L229.05 284.39 L233.96 289.95 L238.87 296.99 L243.78 305.65 L248.69 315.97 L253.59 327.89 L258.50 341.17 L263.41 355.39 L268.32 369.93 L273.23 384.16 L278.13 397.48 L283.04 409.48 L287.95 419.95 L292.86 428.85 L297.77 436.27 L302.68 442.37 L307.58 447.33 L312.49 451.33 L317.40 454.54" fill="none" stroke="#00ff00" stroke-width="0.55"/>
<path d="M76.90 459.41L79.60 464.13L74.20 464.13Z" fill="#00ff00"/><path d="M81.81 458.14L84.50 462.86L79.11 462.86Z" fill="#00ff00"/><path d="M86.72 456.54L89.41 461.26L84.02 461.26Z" fill="#00ff00"/><path d="M91.62 454.53L94.32 459.25L88.93 459.25Z" fill="#00ff00"/><path d="M96.53 452.00L99.23 456.72L93.84 456.72Z" fill="#00ff00"/><path d="M101.44 448.83L104.14 453.55L98.74 453.55Z" fill="#00ff00"/><path d="M106.35 444.88L109.05 449.60L103.65 449.60Z" fill="#00ff00"/><path d="M111.26 439.97L113.95 444.69L108.56 444.69Z" fill="#00ff00"/><path d="M116.17 433.94L118.86 438.66L113.47 438.66Z" fill="#00ff00"/><path d="M121.07 426.60L123.77 431.32L118.38 431.32Z" fill="#00ff00"/><path d="M125.98 417.78L128.68 422.50L123.29 422.50Z" fill="#00ff00"/><path d="M130.89 407.39L133.59 412.11L128.19 412.11Z" fill="#00ff00"/><path d="M135.80 395.47L138.49 400.19L133.10 400.19Z" fill="#00ff00"/><path d="M140.71 382.22L143.40 386.94L138.01 386.94Z" fill="#00ff00"/><path d="M145.61 368.03L148.31 372.75L142.92 372.75Z" fill="#00ff00"/><path d="M150.52 353.48L153.22 358.20L147.83 358.20Z" fill="#00ff00"/><path d="M155.43 339.24L158.13 343.95L152.73 343.95Z" fill="#00ff00"/><path d="M160.34 325.89L163.04 330.60L157.64 330.60Z" fill="#00ff00"/><path d="M165.25 313.88L167.94 318.60L162.55 318.60Z" fill="#00ff00"/><path d="M170.16 303.47L172.85 308.19L167.46 308.19Z" fill="#00ff00"/><path d="M175.06 294.73L177.76 299.45L172.37 299.45Z" fill="#00ff00"/><path d="M179.97 287.60L182.67 292.32L177.27 292.32Z" fill="#00ff00"/><path d="M184.88 281.96L187.58 286.68L182.18 286.68Z" fill="#00ff00"/><path d="M189.79 277.66L192.48 282.38L187.09 282.38Z" fill="#00ff00"/><path d="M194.70 274.57L197.39 279.29L192.00 279.29Z" fill="#00ff00"/><path d="M199.60 272.57L202.30 277.29L196.91 277.29Z" fill="#00ff00"/><path d="M204.51 271.57L207.21 276.29L201.82 276.29Z" fill="#00ff00"/><path d="M209.42 271.55L212.12 276.27L206.72 276.27Z" fill="#00ff00"/><path d="M214.33 272.49L217.03 277.21L211.63 277.21Z" fill="#00ff00"/><path d="M219.24 274.43L221.93 279.15L216.54 279.15Z" fill="#00ff00"/><path d="M224.14 277.46L226.84 282.18L221.45 282.18Z" fill="#00ff00"/><path d="M229.05 281.69L231.75 286.41L226.36 286.41Z" fill="#00ff00"/><path d="M233.96 287.25L236.66 291.97L231.26 291.97Z" fill="#00ff00"/><path d="M238.87 294.30L241.57 299.02L236.17 299.02Z" fill="#00ff00"/><path d="M243.78 302.95L246.47 307.67L241.08 307.67Z" fill="#00ff00"/><path d="M248.69 313.27L251.38 317.99L245.99 317.99Z" fill="#00ff00"/><path d="M253.59 325.19L256.29 329.91L250.90 329.91Z" fill="#00ff00"/><path d="M258.50 338.48L261.20 343.20L255.81 343.20Z" fill="#00ff00"/><path d="M263.41 352.69L266.11 357.41L260.71 357.41Z" fill="#00ff00"/><path d="M268.32 367.24L271.01 371.96L265.62 371.96Z" fill="#00ff00"/><path d="M273.23 381.46L275.92 386.18L270.53 386.18Z" fill="#00ff00"/><path d="M278.13 394.78L280.83 399.50L275.44 399.50Z" fill="#00ff00"/><path d="M283.04 406.78L285.74 411.50L280.35 411.50Z" fill="#00ff00"/><path d="M287.95 417.25L290.65 421.97L285.25 421.97Z" fill="#00ff00"/><path d="M292.86 426.15L295.56 430.87L290.16 430.87Z" fill="#00ff00"/><path d="M297.77 433.58L300.46 438.30L295.07 438.30Z" fill="#00ff00"/><path d="M302.68 439.68L305.37 444.40L299.98 444.40Z" fill="#00ff00"/><path d="M307.58 444.63L310.28 449.35L304.89 449.35Z" fill="#00ff00"/><path d="M312.49 448.63L315.19 453.35L309.80 453.35Z" fill="#00ff00"/><path d="M317.40 451.84L320.10 456.56L314.70 456.56Z" fill="#00ff00"/>
<path d="M76.90 463.33 L81.81 462.36 L86.72 461.12 L91.62 459.55 L96.53 457.57 L101.44 455.06 L106.35 451.89 L111.26 447.92 L116.17 442.95 L121.07 436.79 L125.98 429.24 L130.89 420.10 L135.80 409.27 L140.71 396.75 L145.61 382.78 L150.52 367.80 L155.43 352.47 L160.34 337.52 L165.25 323.62 L170.16 311.25 L175.06 300.64 L179.97 291.84 L184.88 284.77 L189.79 279.28 L194.70 275.20 L199.60 272.38 L204.51 270.72 L209.42 270.14 L214.33 270.60 L219.24 272.14 L224.14 274.83 L229.05 278.76 L233.96 284.08 L238.87 290.97 L243.78 299.57 L248.69 309.98 L253.59 322.16 L258.50 335.91 L263.41 350.77 L268.32 366.10 L273.23 381.15 L278.13 395.26 L283.04 407.95 L287.95 418.98 L292.86 428.30 L297.77 436.03 L302.68 442.33 L307.58 447.42 L312.49 451.49 L317.40 454.74" fill="none" stroke="#0000ff" stroke-width="0.55"/>
<path d="M76.90 466.03L79.60 461.31L74.20 461.31Z" fill="#0000ff"/><path d="M81.81 465.05L84.50 460.34L79.11 460.34Z" fill="#0000ff"/><path d="M86.72 463.82L89.41 459.10L84.02 459.10Z" fill="#0000ff"/><path d="M91.62 462.25L94.32 457.53L88.93 457.53Z" fill="#0000ff"/><path d="M96.53 460.26L99.23 455.55L93.84 455.55Z" fill="#0000ff"/><path d="M101.44 457.75L104.14 453.03L98.74 453.03Z" fill="#0000ff"/><path d="M106.35 454.59L109.05 449.87L103.65 449.87Z" fill="#0000ff"/><path d="M111.26 450.61L113.95 445.89L108.56 445.89Z" fill="#0000ff"/><path d="M116.17 445.65L118.86 440.93L113.47 440.93Z" fill="#0000ff"/><path d="M121.07 439.49L123.77 434.77L118.38 434.77Z" fill="#0000ff"/><path d="M125.98 431.94L128.68 427.22L123.29 427.22Z" fill="#0000ff"/><path d="M130.89 422.80L133.59 418.08L128.19 418.08Z" fill="#0000ff"/><path d="M135.80 411.96L138.49 407.24L133.10 407.24Z" fill="#0000ff"/><path d="M140.71 399.45L143.40 394.73L138.01 394.73Z" fill="#0000ff"/><path d="M145.61 385.48L148.31 380.76L142.92 380.76Z" fill="#0000ff"/><path d="M150.52 370.50L153.22 365.78L147.83 365.78Z" fill="#0000ff"/><path d="M155.43 355.17L158.13 350.45L152.73 350.45Z" fill="#0000ff"/><path d="M160.34 340.22L163.04 335.50L157.64 335.50Z" fill="#0000ff"/><path d="M165.25 326.32L167.94 321.60L162.55 321.60Z" fill="#0000ff"/><path d="M170.16 313.94L172.85 309.23L167.46 309.23Z" fill="#0000ff"/><path d="M175.06 303.33L177.76 298.62L172.37 298.62Z" fill="#0000ff"/><path d="M179.97 294.54L182.67 289.82L177.27 289.82Z" fill="#0000ff"/><path d="M184.88 287.47L187.58 282.75L182.18 282.75Z" fill="#0000ff"/><path d="M189.79 281.97L192.48 277.26L187.09 277.26Z" fill="#0000ff"/><path d="M194.70 277.90L197.39 273.18L192.00 273.18Z" fill="#0000ff"/><path d="M199.60 275.08L202.30 270.36L196.91 270.36Z" fill="#0000ff"/><path d="M204.51 273.42L207.21 268.70L201.82 268.70Z" fill="#0000ff"/><path d="M209.42 272.83L212.12 268.11L206.72 268.11Z" fill="#0000ff"/><path d="M214.33 273.30L217.03 268.58L211.63 268.58Z" fill="#0000ff"/><path d="M219.24 274.84L221.93 270.12L216.54 270.12Z" fill="#0000ff"/><path d="M224.14 277.52L226.84 272.80L221.45 272.80Z" fill="#0000ff"/><path d="M229.05 281.45L231.75 276.73L226.36 276.73Z" fill="#0000ff"/><path d="M233.96 286.78L236.66 282.06L231.26 282.06Z" fill="#0000ff"/><path d="M238.87 293.67L241.57 288.95L236.17 288.95Z" fill="#0000ff"/><path d="M243.78 302.27L246.47 297.55L241.08 297.55Z" fill="#0000ff"/><path d="M248.69 312.67L251.38 307.95L245.99 307.95Z" fill="#0000ff"/><path d="M253.59 324.86L256.29 320.14L250.90 320.14Z" fill="#0000ff"/><path d="M258.50 338.61L261.20 333.89L255.81 333.89Z" fill="#0000ff"/><path d="M263.41 353.47L266.11 348.75L260.71 348.75Z" fill="#0000ff"/><path d="M268.32 368.79L271.01 364.08L265.62 364.08Z" fill="#0000ff"/><path d="M273.23 383.85L275.92 379.13L270.53 379.13Z" fill="#0000ff"/><path d="M278.13 397.96L280.83 393.24L275.44 393.24Z" fill="#0000ff"/><path d="M283.04 410.65L285.74 405.93L280.35 405.93Z" fill="#0000ff"/><path d="M287.95 421.68L290.65 416.96L285.25 416.96Z" fill="#0000ff"/><path d="M292.86 431.00L295.56 426.28L290.16 426.28Z" fill="#0000ff"/><path d="M297.77 438.72L300.46 434.00L295.07 434.00Z" fill="#0000ff"/><path d="M302.68 445.03L305.37 440.31L299.98 440.31Z" fill="#0000ff"/><path d="M307.58 450.11L310.28 445.39L304.89 445.39Z" fill="#0000ff"/><path d="M312.49 454.19L315.19 449.47L309.80 449.47Z" fill="#0000ff"/><path d="M317.40 457.44L320.10 452.72L314.70 452.72Z" fill="#0000ff"/>
<path d="M76.90 463.95 L81.81 463.14 L86.72 462.12 L91.62 460.81 L96.53 459.15 L101.44 457.04 L106.35 454.38 L111.26 451.03 L116.17 446.81 L121.07 441.54 L125.98 435.02 L130.89 427.04 L135.80 417.41 L140.71 406.06 L145.61 393.05 L150.52 378.66 L155.43 363.44 L160.34 348.08 L165.25 333.34 L170.16 319.87 L175.06 308.09 L179.97 298.19 L184.88 290.18 L189.79 283.96 L194.70 279.40 L199.60 276.37 L204.51 274.74 L209.42 274.46 L214.33 275.51 L219.24 277.94 L224.14 281.84 L229.05 287.34 L233.96 294.58 L238.87 303.67 L243.78 314.67 L248.69 327.47 L253.59 341.74 L258.50 356.92 L263.41 372.30 L268.32 387.12 L273.23 400.76 L278.13 412.83 L283.04 423.18 L287.95 431.84 L292.86 438.96 L297.77 444.73 L302.68 449.36 L307.58 453.06 L312.49 456.00 L317.40 458.32" fill="none" stroke="#808000" stroke-width="0.55"/>
<path d="M76.90 461.37L79.48 463.95L76.90 466.53L74.32 463.95Z" fill="#808000"/><path d="M81.81 460.57L84.39 463.14L81.81 465.72L79.23 463.14Z" fill="#808000"/><path d="M86.72 459.54L89.30 462.12L86.72 464.70L84.14 462.12Z" fill="#808000"/><path d="M91.62 458.23L94.20 460.81L91.62 463.39L89.05 460.81Z" fill="#808000"/><path d="M96.53 456.57L99.11 459.15L96.53 461.73L93.95 459.15Z" fill="#808000"/><path d="M101.44 454.46L104.02 457.04L101.44 459.62L98.86 457.04Z" fill="#808000"/><path d="M106.35 451.80L108.93 454.38L106.35 456.96L103.77 454.38Z" fill="#808000"/><path d="M111.26 448.45L113.84 451.03L111.26 453.61L108.68 451.03Z" fill="#808000"/><path d="M116.17 444.23L118.74 446.81L116.17 449.39L113.59 446.81Z" fill="#808000"/><path d="M121.07 438.97L123.65 441.54L121.07 444.12L118.49 441.54Z" fill="#808000"/><path d="M125.98 432.44L128.56 435.02L125.98 437.60L123.40 435.02Z" fill="#808000"/><path d="M130.89 424.46L133.47 427.04L130.89 429.62L128.31 427.04Z" fill="#808000"/><path d="M135.80 414.83L138.38 417.41L135.80 419.99L133.22 417.41Z" fill="#808000"/><path d="M140.71 403.48L143.29 406.06L140.71 408.64L138.13 406.06Z" fill="#808000"/><path d="M145.61 390.47L148.19 393.05L145.61 395.63L143.03 393.05Z" fill="#808000"/><path d="M150.52 376.08L153.10 378.66L150.52 381.24L147.94 378.66Z" fill="#808000"/><path d="M155.43 360.86L158.01 363.44L155.43 366.02L152.85 363.44Z" fill="#808000"/><path d="M160.34 345.50L162.92 348.08L160.34 350.66L157.76 348.08Z" fill="#808000"/><path d="M165.25 330.76L167.83 333.34L165.25 335.92L162.67 333.34Z" fill="#808000"/><path d="M170.16 317.29L172.73 319.87L170.16 322.45L167.58 319.87Z" fill="#808000"/><path d="M175.06 305.51L177.64 308.09L175.06 310.67L172.48 308.09Z" fill="#808000"/><path d="M179.97 295.61L182.55 298.19L179.97 300.76L177.39 298.19Z" fill="#808000"/><path d="M184.88 287.60L187.46 290.18L184.88 292.75L182.30 290.18Z" fill="#808000"/><path d="M189.79 281.38L192.37 283.96L189.79 286.54L187.21 283.96Z" fill="#808000"/><path d="M194.70 276.83L197.28 279.40L194.70 281.98L192.12 279.40Z" fill="#808000"/><path d="M199.60 273.79L202.18 276.37L199.60 278.94L197.02 276.37Z" fill="#808000"/><path d="M204.51 272.16L207.09 274.74L204.51 277.32L201.93 274.74Z" fill="#808000"/><path d="M209.42 271.88L212.00 274.46L209.42 277.03L206.84 274.46Z" fill="#808000"/><path d="M214.33 272.93L216.91 275.51L214.33 278.09L211.75 275.51Z" fill="#808000"/><path d="M219.24 275.36L221.82 277.94L219.24 280.52L216.66 277.94Z" fill="#808000"/><path d="M224.14 279.26L226.72 281.84L224.14 284.42L221.57 281.84Z" fill="#808000"/><path d="M229.05 284.76L231.63 287.34L229.05 289.92L226.47 287.34Z" fill="#808000"/><path d="M233.96 292.00L236.54 294.58L233.96 297.15L231.38 294.58Z" fill="#808000"/><path d="M238.87 301.09L241.45 303.67L238.87 306.25L236.29 303.67Z" fill="#808000"/><path d="M243.78 312.09L246.36 314.67L243.78 317.25L241.20 314.67Z" fill="#808000"/><path d="M248.69 324.89L251.27 327.47L248.69 330.05L246.11 327.47Z" fill="#808000"/><path d="M253.59 339.16L256.17 341.74L253.59 344.32L251.01 341.74Z" fill="#808000"/><path d="M258.50 354.34L261.08 356.92L258.50 359.50L255.92 356.92Z" fill="#808000"/><path d="M263.41 369.72L265.99 372.30L263.41 374.88L260.83 372.30Z" fill="#808000"/><path d="M268.32 384.54L270.90 387.12L268.32 389.69L265.74 387.12Z" fill="#808000"/><path d="M273.23 398.18L275.81 400.76L273.23 403.34L270.65 400.76Z" fill="#808000"/><path d="M278.13 410.25L280.71 412.83L278.13 415.41L275.56 412.83Z" fill="#808000"/><path d="M283.04 420.60L285.62 423.18L283.04 425.76L280.46 423.18Z" fill="#808000"/><path d="M287.95 429.26L290.53 431.84L287.95 434.42L285.37 431.84Z" fill="#808000"/><path d="M292.86 436.38L295.44 438.96L292.86 441.54L290.28 438.96Z" fill="#808000"/><path d="M297.77 442.15L300.35 444.73L297.77 447.31L295.19 444.73Z" fill="#808000"/><path d="M302.68 446.78L305.25 449.36L302.68 451.94L300.10 449.36Z" fill="#808000"/><path d="M307.58 450.48L310.16 453.06L307.58 455.64L305.00 453.06Z" fill="#808000"/><path d="M312.49 453.42L315.07 456.00L312.49 458.57L309.91 456.00Z" fill="#808000"/><path d="M317.40 455.74L319.98 458.32L317.40 460.90L314.82 458.32Z" fill="#808000"/>
<path d="M76.90 463.56 L81.81 462.62 L86.72 461.43 L91.62 459.92 L96.53 457.98 L101.44 455.52 L106.35 452.40 L111.26 448.46 L116.17 443.51 L121.07 437.33 L125.98 429.69 L130.89 420.38 L135.80 409.28 L140.71 396.39 L145.61 381.94 L150.52 366.44 L155.43 350.63 L160.34 335.33 L165.25 321.30 L170.16 309.06 L175.06 298.87 L179.97 290.79 L184.88 284.77 L189.79 280.68 L194.70 278.41 L199.60 277.89 L204.51 279.10 L209.42 282.09 L214.33 286.93 L219.24 293.76 L224.14 302.67 L229.05 313.70 L233.96 326.70 L238.87 341.32 L243.78 356.92 L248.69 372.70 L253.59 387.86 L258.50 401.73 L263.41 413.93 L268.32 424.30 L273.23 432.92 L278.13 439.95 L283.04 445.62 L287.95 450.14 L292.86 453.74 L297.77 456.57 L302.68 458.81 L307.58 460.57 L312.49 461.94 L317.40 463.02" fill="none" stroke="#ff00ff" stroke-width="0.55"/>
<path d="M74.20 463.56L78.92 460.86L78.92 466.25Z" fill="#ff00ff"/><path d="M79.11 462.62L83.83 459.93L83.83 465.32Z" fill="#ff00ff"/><path d="M84.02 461.43L88.74 458.74L88.74 464.13Z" fill="#ff00ff"/><path d="M88.93 459.92L93.65 457.22L93.65 462.61Z" fill="#ff00ff"/><path d="M93.84 457.98L98.56 455.28L98.56 460.68Z" fill="#ff00ff"/><path d="M98.74 455.52L103.46 452.83L103.46 458.22Z" fill="#ff00ff"/><path d="M103.65 452.40L108.37 449.71L108.37 455.10Z" fill="#ff00ff"/><path d="M108.56 448.46L113.28 445.77L113.28 451.16Z" fill="#ff00ff"/><path d="M113.47 443.51L118.19 440.81L118.19 446.21Z" fill="#ff00ff"/><path d="M118.38 437.33L123.10 434.63L123.10 440.02Z" fill="#ff00ff"/><path d="M123.29 429.69L128.00 426.99L128.00 432.38Z" fill="#ff00ff"/><path d="M128.19 420.38L132.91 417.69L132.91 423.08Z" fill="#ff00ff"/><path d="M133.10 409.28L137.82 406.58L137.82 411.98Z" fill="#ff00ff"/><path d="M138.01 396.39L142.73 393.69L142.73 399.09Z" fill="#ff00ff"/><path d="M142.92 381.94L147.64 379.24L147.64 384.64Z" fill="#ff00ff"/><path d="M147.83 366.44L152.54 363.75L152.54 369.14Z" fill="#ff00ff"/><path d="M152.73 350.63L157.45 347.93L157.45 353.33Z" fill="#ff00ff"/><path d="M157.64 335.33L162.36 332.64L162.36 338.03Z" fill="#ff00ff"/><path d="M162.55 321.30L167.27 318.60L167.27 324.00Z" fill="#ff00ff"/><path d="M167.46 309.06L172.18 306.36L172.18 311.75Z" fill="#ff00ff"/><path d="M172.37 298.87L177.09 296.17L177.09 301.56Z" fill="#ff00ff"/><path d="M177.27 290.79L181.99 288.10L181.99 293.49Z" fill="#ff00ff"/><path d="M182.18 284.77L186.90 282.07L186.90 287.47Z" fill="#ff00ff"/><path d="M187.09 280.68L191.81 277.98L191.81 283.38Z" fill="#ff00ff"/><path d="M192.00 278.41L196.72 275.71L196.72 281.11Z" fill="#ff00ff"/><path d="M196.91 277.89L201.63 275.19L201.63 280.59Z" fill="#ff00ff"/><path d="M201.82 279.10L206.53 276.41L206.53 281.80Z" fill="#ff00ff"/><path d="M206.72 282.09L211.44 279.39L211.44 284.78Z" fill="#ff00ff"/><path d="M211.63 286.93L216.35 284.24L216.35 289.63Z" fill="#ff00ff"/><path d="M216.54 293.76L221.26 291.06L221.26 296.46Z" fill="#ff00ff"/><path d="M221.45 302.67L226.17 299.98L226.17 305.37Z" fill="#ff00ff"/><path d="M226.36 313.70L231.08 311.00L231.08 316.40Z" fill="#ff00ff"/><path d="M231.26 326.70L235.98 324.01L235.98 329.40Z" fill="#ff00ff"/><path d="M236.17 341.32L240.89 338.62L240.89 344.01Z" fill="#ff00ff"/><path d="M241.08 356.92L245.80 354.22L245.80 359.61Z" fill="#ff00ff"/><path d="M245.99 372.70L250.71 370.01L250.71 375.40Z" fill="#ff00ff"/><path d="M250.90 387.86L255.62 385.16L255.62 390.56Z" fill="#ff00ff"/><path d="M255.81 401.73L260.52 399.04L260.52 404.43Z" fill="#ff00ff"/><path d="M260.71 413.93L265.43 411.23L265.43 416.62Z" fill="#ff00ff"/><path d="M265.62 424.30L270.34 421.61L270.34 427.00Z" fill="#ff00ff"/><path d="M270.53 432.92L275.25 430.22L275.25 435.62Z" fill="#ff00ff"/><path d="M275.44 439.95L280.16 437.26L280.16 442.65Z" fill="#ff00ff"/><path d="M280.35 445.62L285.07 442.92L285.07 448.32Z" fill="#ff00ff"/><path d="M285.25 450.14L289.97 447.45L289.97 452.84Z" fill="#ff00ff"/><path d="M290.16 453.74L294.88 451.04L294.88 456.43Z" fill="#ff00ff"/><path d="M295.07 456.57L299.79 453.88L299.79 459.27Z" fill="#ff00ff"/><path d="M299.98 458.81L304.70 456.11L304.70 461.51Z" fill="#ff00ff"/><path d="M304.89 460.57L309.61 457.87L309.61 463.26Z" fill="#ff00ff"/><path d="M309.80 461.94L314.51 459.25L314.51 464.64Z" fill="#ff00ff"/><path d="M314.70 463.02L319.42 460.33L319.42 465.72Z" fill="#ff00ff"/>
<path d="M57.1 258.3H337.6" stroke="#555" stroke-width="1.3" fill="none"/>
<path d="M337.6 257.65000000000003V481.75" stroke="#777" stroke-width="1.3" fill="none"/>
<path d="M57.1 257.65000000000003V481.1H338.25" stroke="#333" stroke-width="1.3" fill="none"/>
<text x="76.90" y="495.70" text-anchor="middle" font-size="9.7">-1</text>
<text x="116.98" y="495.70" text-anchor="middle" font-size="9.7">0</text>
<text x="157.07" y="495.70" text-anchor="middle" font-size="9.7">1</text>
<text x="197.15" y="495.70" text-anchor="middle" font-size="9.7">2</text>
<text x="237.23" y="495.70" text-anchor="middle" font-size="9.7">3</text>
<text x="277.32" y="495.70" text-anchor="middle" font-size="9.7">4</text>
<text x="317.40" y="495.70" text-anchor="middle" font-size="9.7">5</text>
<text x="49.90" y="470.20" text-anchor="end" font-size="9.7">0</text>
<text x="49.90" y="442.37" text-anchor="end" font-size="9.7">10</text>
<text x="49.90" y="414.54" text-anchor="end" font-size="9.7">20</text>
<text x="49.90" y="386.71" text-anchor="end" font-size="9.7">30</text>
<text x="49.90" y="358.88" text-anchor="end" font-size="9.7">40</text>
<text x="49.90" y="331.06" text-anchor="end" font-size="9.7">50</text>
<text x="49.90" y="303.23" text-anchor="end" font-size="9.7">60</text>
<text x="49.90" y="275.40" text-anchor="end" font-size="9.7">70</text>
<path d="M56.86 481.10V483.81M76.90 481.10V486.01M96.94 481.10V483.81M116.98 481.10V486.01M137.03 481.10V483.81M157.07 481.10V486.01M177.11 481.10V483.81M197.15 481.10V486.01M217.19 481.10V483.81M237.23 481.10V486.01M257.27 481.10V483.81M277.32 481.10V486.01M297.36 481.10V483.81M317.40 481.10V486.01M337.44 481.10V483.81M57.10 480.81H54.39M57.10 466.90H52.19M57.10 452.99H54.39M57.10 439.07H52.19M57.10 425.16H54.39M57.10 411.24H52.19M57.10 397.33H54.39M57.10 383.41H52.19M57.10 369.50H54.39M57.10 355.59H52.19M57.10 341.67H54.39M57.10 327.76H52.19M57.10 313.84H54.39M57.10 299.93H52.19M57.10 286.01H54.39M57.10 272.10H52.19M57.10 258.19H54.39" stroke="#333" stroke-width="1.1" fill="none"/>
<text x="197" y="512" text-anchor="middle" font-size="10">log f (Hz)</text>
<text transform="translate(32,377) rotate(-90)" text-anchor="middle" font-size="10">Phase Angle (θ)</text>
<text x="125" y="277" font-size="10">(b) DS2</text>
<path d="M64.00 319.40H72.01M79.99 319.40H88.00" stroke="#000000" stroke-width="0.8" opacity="0.75"/>
<rect x="73.46" y="316.86" width="5.08" height="5.08" fill="#000000"/>
<text x="90.90" y="322.97" font-size="10.2">Blank</text>
<path d="M64.00 331.90H72.01M79.99 331.90H88.00" stroke="#ff0000" stroke-width="0.8" opacity="0.75"/>
<circle cx="76.00" cy="331.90" r="2.79" fill="#ff0000"/>
<text x="90.90" y="335.47" font-size="10.2">1.00 mM</text>
<path d="M64.00 344.40H72.01M79.99 344.40H88.00" stroke="#00ff00" stroke-width="0.8" opacity="0.75"/>
<path d="M76.00 340.89L79.51 347.03L72.49 347.03Z" fill="#00ff00"/>
<text x="90.90" y="347.97" font-size="10.2">0.75 mM</text>
<path d="M64.00 356.90H72.01M79.99 356.90H88.00" stroke="#0000ff" stroke-width="0.8" opacity="0.75"/>
<path d="M76.00 360.41L79.51 354.27L72.49 354.27Z" fill="#0000ff"/>
<text x="90.90" y="360.47" font-size="10.2">0.50 mM</text>
<path d="M64.00 369.40H72.01M79.99 369.40H88.00" stroke="#808000" stroke-width="0.8" opacity="0.75"/>
<path d="M76.00 366.05L79.35 369.40L76.00 372.75L72.65 369.40Z" fill="#808000"/>
<text x="90.90" y="372.97" font-size="10.2">0.25 mM</text>
<path d="M64.00 381.90H72.01M79.99 381.90H88.00" stroke="#ff00ff" stroke-width="0.8" opacity="0.75"/>
<path d="M72.49 381.90L78.63 378.39L78.63 385.41Z" fill="#ff00ff"/>
<text x="90.90" y="385.47" font-size="10.2">0.10 mM</text>
<path d="M406.40 379.59 L411.30 379.60 L416.21 379.61 L421.11 379.62 L426.02 379.64 L430.92 379.66 L435.82 379.69 L440.73 379.73 L445.63 379.78 L450.54 379.84 L455.44 379.92 L460.34 380.02 L465.25 380.17 L470.15 380.35 L475.06 380.61 L479.96 380.95 L484.87 381.42 L489.77 382.05 L494.67 382.93 L499.58 384.11 L504.48 385.69 L509.39 387.77 L514.29 390.42 L519.19 393.68 L524.10 397.52 L529.00 401.86 L533.91 406.55 L538.81 411.41 L543.71 416.25 L548.62 420.88 L553.52 425.11 L558.43 428.82 L563.33 431.93 L568.23 434.45 L573.14 436.40 L578.04 437.89 L582.95 438.99 L587.85 439.80 L592.76 440.39 L597.66 440.83 L602.56 441.15 L607.47 441.38 L612.37 441.56 L617.28 441.69 L622.18 441.79 L627.08 441.86 L631.99 441.92 L636.89 441.97 L641.80 442.00 L646.70 442.03" fill="none" stroke="#000000" stroke-width="0.55"/>
<rect x="404.45" y="377.64" width="3.90" height="3.90" fill="#000000"/><rect x="409.35" y="377.65" width="3.90" height="3.90" fill="#000000"/><rect x="414.26" y="377.66" width="3.90" height="3.90" fill="#000000"/><rect x="419.16" y="377.67" width="3.90" height="3.90" fill="#000000"/><rect x="424.06" y="377.69" width="3.90" height="3.90" fill="#000000"/><rect x="428.97" y="377.71" width="3.90" height="3.90" fill="#000000"/><rect x="433.87" y="377.74" width="3.90" height="3.90" fill="#000000"/><rect x="438.78" y="377.78" width="3.90" height="3.90" fill="#000000"/><rect x="443.68" y="377.82" width="3.90" height="3.90" fill="#000000"/><rect x="448.58" y="377.89" width="3.90" height="3.90" fill="#000000"/><rect x="453.49" y="377.97" width="3.90" height="3.90" fill="#000000"/><rect x="458.39" y="378.07" width="3.90" height="3.90" fill="#000000"/><rect x="463.30" y="378.21" width="3.90" height="3.90" fill="#000000"/><rect x="468.20" y="378.40" width="3.90" height="3.90" fill="#000000"/><rect x="473.10" y="378.65" width="3.90" height="3.90" fill="#000000"/><rect x="478.01" y="379.00" width="3.90" height="3.90" fill="#000000"/><rect x="482.91" y="379.46" width="3.90" height="3.90" fill="#000000"/><rect x="487.82" y="380.10" width="3.90" height="3.90" fill="#000000"/><rect x="492.72" y="380.97" width="3.90" height="3.90" fill="#000000"/><rect x="497.63" y="382.16" width="3.90" height="3.90" fill="#000000"/><rect x="502.53" y="383.74" width="3.90" height="3.90" fill="#000000"/><rect x="507.43" y="385.82" width="3.90" height="3.90" fill="#000000"/><rect x="512.34" y="388.47" width="3.90" height="3.90" fill="#000000"/><rect x="517.24" y="391.73" width="3.90" height="3.90" fill="#000000"/><rect x="522.15" y="395.57" width="3.90" height="3.90" fill="#000000"/><rect x="527.05" y="399.91" width="3.90" height="3.90" fill="#000000"/><rect x="531.95" y="404.60" width="3.90" height="3.90" fill="#000000"/><rect x="536.86" y="409.46" width="3.90" height="3.90" fill="#000000"/><rect x="541.76" y="414.30" width="3.90" height="3.90" fill="#000000"/><rect x="546.67" y="418.92" width="3.90" height="3.90" fill="#000000"/><rect x="551.57" y="423.16" width="3.90" height="3.90" fill="#000000"/><rect x="556.47" y="426.87" width="3.90" height="3.90" fill="#000000"/><rect x="561.38" y="429.98" width="3.90" height="3.90" fill="#000000"/><rect x="566.28" y="432.49" width="3.90" height="3.90" fill="#000000"/><rect x="571.19" y="434.45" width="3.90" height="3.90" fill="#000000"/><rect x="576.09" y="435.93" width="3.90" height="3.90" fill="#000000"/><rect x="580.99" y="437.04" width="3.90" height="3.90" fill="#000000"/><rect x="585.90" y="437.85" width="3.90" height="3.90" fill="#000000"/><rect x="590.80" y="438.44" width="3.90" height="3.90" fill="#000000"/><rect x="595.71" y="438.87" width="3.90" height="3.90" fill="#000000"/><rect x="600.61" y="439.19" width="3.90" height="3.90" fill="#000000"/><rect x="605.51" y="439.43" width="3.90" height="3.90" fill="#000000"/><rect x="610.42" y="439.61" width="3.90" height="3.90" fill="#000000"/><rect x="615.32" y="439.74" width="3.90" height="3.90" fill="#000000"/><rect x="620.23" y="439.84" width="3.90" height="3.90" fill="#000000"/><rect x="625.13" y="439.91" width="3.90" height="3.90" fill="#000000"/><rect x="630.04" y="439.97" width="3.90" height="3.90" fill="#000000"/><rect x="634.94" y="440.02" width="3.90" height="3.90" fill="#000000"/><rect x="639.84" y="440.05" width="3.90" height="3.90" fill="#000000"/><rect x="644.75" y="440.08" width="3.90" height="3.90" fill="#000000"/>
<path d="M406.40 274.84 L411.30 274.93 L416.21 275.04 L421.11 275.19 L426.02 275.38 L430.92 275.62 L435.82 275.95 L440.73 276.38 L445.63 276.95 L450.54 277.71 L455.44 278.73 L460.34 280.07 L465.25 281.82 L470.15 284.08 L475.06 286.91 L479.96 290.37 L484.87 294.47 L489.77 299.17 L494.67 304.40 L499.58 310.07 L504.48 316.10 L509.39 322.41 L514.29 328.92 L519.19 335.57 L524.10 342.33 L529.00 349.16 L533.91 356.02 L538.81 362.90 L543.71 369.77 L548.62 376.60 L553.52 383.37 L558.43 390.05 L563.33 396.58 L568.23 402.92 L573.14 409.00 L578.04 414.74 L582.95 420.05 L587.85 424.84 L592.76 429.04 L597.66 432.61 L602.56 435.54 L607.47 437.88 L612.37 439.71 L617.28 441.11 L622.18 442.17 L627.08 442.97 L631.99 443.57 L636.89 444.02 L641.80 444.36 L646.70 444.62" fill="none" stroke="#ff0000" stroke-width="0.55"/>
<circle cx="406.40" cy="274.84" r="2.15" fill="#ff0000"/><circle cx="411.30" cy="274.93" r="2.15" fill="#ff0000"/><circle cx="416.21" cy="275.04" r="2.15" fill="#ff0000"/><circle cx="421.11" cy="275.19" r="2.15" fill="#ff0000"/><circle cx="426.02" cy="275.38" r="2.15" fill="#ff0000"/><circle cx="430.92" cy="275.62" r="2.15" fill="#ff0000"/><circle cx="435.82" cy="275.95" r="2.15" fill="#ff0000"/><circle cx="440.73" cy="276.38" r="2.15" fill="#ff0000"/><circle cx="445.63" cy="276.95" r="2.15" fill="#ff0000"/><circle cx="450.54" cy="277.71" r="2.15" fill="#ff0000"/><circle cx="455.44" cy="278.73" r="2.15" fill="#ff0000"/><circle cx="460.34" cy="280.07" r="2.15" fill="#ff0000"/><circle cx="465.25" cy="281.82" r="2.15" fill="#ff0000"/><circle cx="470.15" cy="284.08" r="2.15" fill="#ff0000"/><circle cx="475.06" cy="286.91" r="2.15" fill="#ff0000"/><circle cx="479.96" cy="290.37" r="2.15" fill="#ff0000"/><circle cx="484.87" cy="294.47" r="2.15" fill="#ff0000"/><circle cx="489.77" cy="299.17" r="2.15" fill="#ff0000"/><circle cx="494.67" cy="304.40" r="2.15" fill="#ff0000"/><circle cx="499.58" cy="310.07" r="2.15" fill="#ff0000"/><circle cx="504.48" cy="316.10" r="2.15" fill="#ff0000"/><circle cx="509.39" cy="322.41" r="2.15" fill="#ff0000"/><circle cx="514.29" cy="328.92" r="2.15" fill="#ff0000"/><circle cx="519.19" cy="335.57" r="2.15" fill="#ff0000"/><circle cx="524.10" cy="342.33" r="2.15" fill="#ff0000"/><circle cx="529.00" cy="349.16" r="2.15" fill="#ff0000"/><circle cx="533.91" cy="356.02" r="2.15" fill="#ff0000"/><circle cx="538.81" cy="362.90" r="2.15" fill="#ff0000"/><circle cx="543.71" cy="369.77" r="2.15" fill="#ff0000"/><circle cx="548.62" cy="376.60" r="2.15" fill="#ff0000"/><circle cx="553.52" cy="383.37" r="2.15" fill="#ff0000"/><circle cx="558.43" cy="390.05" r="2.15" fill="#ff0000"/><circle cx="563.33" cy="396.58" r="2.15" fill="#ff0000"/><circle cx="568.23" cy="402.92" r="2.15" fill="#ff0000"/><circle cx="573.14" cy="409.00" r="2.15" fill="#ff0000"/><circle cx="578.04" cy="414.74" r="2.15" fill="#ff0000"/><circle cx="582.95" cy="420.05" r="2.15" fill="#ff0000"/><circle cx="587.85" cy="424.84" r="2.15" fill="#ff0000"/><circle cx="592.76" cy="429.04" r="2.15" fill="#ff0000"/><circle cx="597.66" cy="432.61" r="2.15" fill="#ff0000"/><circle cx="602.56" cy="435.54" r="2.15" fill="#ff0000"/><circle cx="607.47" cy="437.88" r="2.15" fill="#ff0000"/><circle cx="612.37" cy="439.71" r="2.15" fill="#ff0000"/><circle cx="617.28" cy="441.11" r="2.15" fill="#ff0000"/><circle cx="622.18" cy="442.17" r="2.15" fill="#ff0000"/><circle cx="627.08" cy="442.97" r="2.15" fill="#ff0000"/><circle cx="631.99" cy="443.57" r="2.15" fill="#ff0000"/><circle cx="636.89" cy="444.02" r="2.15" fill="#ff0000"/><circle cx="641.80" cy="444.36" r="2.15" fill="#ff0000"/><circle cx="646.70" cy="444.62" r="2.15" fill="#ff0000"/>
<path d="M406.40 276.84 L411.30 276.91 L416.21 277.00 L421.11 277.11 L426.02 277.27 L430.92 277.47 L435.82 277.74 L440.73 278.11 L445.63 278.60 L450.54 279.27 L455.44 280.18 L460.34 281.41 L465.25 283.06 L470.15 285.23 L475.06 288.02 L479.96 291.49 L484.87 295.66 L489.77 300.49 L494.67 305.91 L499.58 311.81 L504.48 318.10 L509.39 324.67 L514.29 331.45 L519.19 338.38 L524.10 345.42 L529.00 352.52 L533.91 359.66 L538.81 366.82 L543.71 373.98 L548.62 381.10 L553.52 388.17 L558.43 395.16 L563.33 402.02 L568.23 408.70 L573.14 415.14 L578.04 421.24 L582.95 426.90 L587.85 432.03 L592.76 436.53 L597.66 440.34 L602.56 443.46 L607.47 445.92 L612.37 447.81 L617.28 449.23 L622.18 450.28 L627.08 451.06 L631.99 451.63 L636.89 452.05 L641.80 452.37 L646.70 452.60" fill="none" stroke="#00ff00" stroke-width="0.55"/>
<path d="M406.40 274.15L409.09 278.86L403.71 278.86Z" fill="#00ff00"/><path d="M411.30 274.21L414.00 278.93L408.61 278.93Z" fill="#00ff00"/><path d="M416.21 274.30L418.90 279.02L413.51 279.02Z" fill="#00ff00"/><path d="M421.11 274.42L423.81 279.13L418.42 279.13Z" fill="#00ff00"/><path d="M426.02 274.57L428.71 279.29L423.32 279.29Z" fill="#00ff00"/><path d="M430.92 274.78L433.61 279.49L428.23 279.49Z" fill="#00ff00"/><path d="M435.82 275.05L438.52 279.76L433.13 279.76Z" fill="#00ff00"/><path d="M440.73 275.41L443.42 280.13L438.03 280.13Z" fill="#00ff00"/><path d="M445.63 275.90L448.33 280.62L442.94 280.62Z" fill="#00ff00"/><path d="M450.54 276.57L453.23 281.29L447.84 281.29Z" fill="#00ff00"/><path d="M455.44 277.48L458.14 282.20L452.75 282.20Z" fill="#00ff00"/><path d="M460.34 278.72L463.04 283.43L457.65 283.43Z" fill="#00ff00"/><path d="M465.25 280.37L467.94 285.08L462.55 285.08Z" fill="#00ff00"/><path d="M470.15 282.54L472.85 287.25L467.46 287.25Z" fill="#00ff00"/><path d="M475.06 285.33L477.75 290.04L472.36 290.04Z" fill="#00ff00"/><path d="M479.96 288.80L482.66 293.51L477.27 293.51Z" fill="#00ff00"/><path d="M484.87 292.96L487.56 297.68L482.17 297.68Z" fill="#00ff00"/><path d="M489.77 297.80L492.46 302.51L487.08 302.51Z" fill="#00ff00"/><path d="M494.67 303.22L497.37 307.93L491.98 307.93Z" fill="#00ff00"/><path d="M499.58 309.12L502.27 313.83L496.88 313.83Z" fill="#00ff00"/><path d="M504.48 315.40L507.18 320.12L501.79 320.12Z" fill="#00ff00"/><path d="M509.39 321.98L512.08 326.69L506.69 326.69Z" fill="#00ff00"/><path d="M514.29 328.76L516.98 333.47L511.60 333.47Z" fill="#00ff00"/><path d="M519.19 335.69L521.89 340.40L516.50 340.40Z" fill="#00ff00"/><path d="M524.10 342.72L526.79 347.44L521.40 347.44Z" fill="#00ff00"/><path d="M529.00 349.83L531.70 354.54L526.31 354.54Z" fill="#00ff00"/><path d="M533.91 356.97L536.60 361.68L531.21 361.68Z" fill="#00ff00"/><path d="M538.81 364.13L541.50 368.84L536.12 368.84Z" fill="#00ff00"/><path d="M543.71 371.28L546.41 376.00L541.02 376.00Z" fill="#00ff00"/><path d="M548.62 378.41L551.31 383.12L545.92 383.12Z" fill="#00ff00"/><path d="M553.52 385.48L556.22 390.19L550.83 390.19Z" fill="#00ff00"/><path d="M558.43 392.47L561.12 397.18L555.73 397.18Z" fill="#00ff00"/><path d="M563.33 399.33L566.02 404.04L560.64 404.04Z" fill="#00ff00"/><path d="M568.23 406.01L570.93 410.72L565.54 410.72Z" fill="#00ff00"/><path d="M573.14 412.44L575.83 417.16L570.44 417.16Z" fill="#00ff00"/><path d="M578.04 418.54L580.74 423.26L575.35 423.26Z" fill="#00ff00"/><path d="M582.95 424.21L585.64 428.93L580.25 428.93Z" fill="#00ff00"/><path d="M587.85 429.34L590.55 434.05L585.16 434.05Z" fill="#00ff00"/><path d="M592.76 433.84L595.45 438.55L590.06 438.55Z" fill="#00ff00"/><path d="M597.66 437.65L600.35 442.36L594.96 442.36Z" fill="#00ff00"/><path d="M602.56 440.76L605.26 445.48L599.87 445.48Z" fill="#00ff00"/><path d="M607.47 443.22L610.16 447.94L604.77 447.94Z" fill="#00ff00"/><path d="M612.37 445.11L615.07 449.83L609.68 449.83Z" fill="#00ff00"/><path d="M617.28 446.53L619.97 451.25L614.58 451.25Z" fill="#00ff00"/><path d="M622.18 447.59L624.87 452.30L619.49 452.30Z" fill="#00ff00"/><path d="M627.08 448.37L629.78 453.08L624.39 453.08Z" fill="#00ff00"/><path d="M631.99 448.94L634.68 453.65L629.29 453.65Z" fill="#00ff00"/><path d="M636.89 449.36L639.59 454.07L634.20 454.07Z" fill="#00ff00"/><path d="M641.80 449.67L644.49 454.39L639.10 454.39Z" fill="#00ff00"/><path d="M646.70 449.91L649.39 454.62L644.01 454.62Z" fill="#00ff00"/>
<path d="M406.40 284.26 L411.30 284.31 L416.21 284.38 L421.11 284.46 L426.02 284.58 L430.92 284.73 L435.82 284.93 L440.73 285.20 L445.63 285.57 L450.54 286.07 L455.44 286.76 L460.34 287.71 L465.25 289.00 L470.15 290.73 L475.06 293.02 L479.96 295.97 L484.87 299.63 L489.77 304.01 L494.67 309.07 L499.58 314.70 L504.48 320.80 L509.39 327.27 L514.29 334.01 L519.19 340.94 L524.10 348.00 L529.00 355.16 L533.91 362.37 L538.81 369.61 L543.71 376.86 L548.62 384.09 L553.52 391.27 L558.43 398.39 L563.33 405.39 L568.23 412.24 L573.14 418.85 L578.04 425.15 L582.95 431.04 L587.85 436.40 L592.76 441.13 L597.66 445.16 L602.56 448.47 L607.47 451.08 L612.37 453.09 L617.28 454.59 L622.18 455.70 L627.08 456.51 L631.99 457.10 L636.89 457.53 L641.80 457.85 L646.70 458.08" fill="none" stroke="#0000ff" stroke-width="0.55"/>
<path d="M406.40 286.96L409.09 282.24L403.71 282.24Z" fill="#0000ff"/><path d="M411.30 287.01L414.00 282.29L408.61 282.29Z" fill="#0000ff"/><path d="M416.21 287.07L418.90 282.36L413.51 282.36Z" fill="#0000ff"/><path d="M421.11 287.16L423.81 282.44L418.42 282.44Z" fill="#0000ff"/><path d="M426.02 287.27L428.71 282.56L423.32 282.56Z" fill="#0000ff"/><path d="M430.92 287.42L433.61 282.71L428.23 282.71Z" fill="#0000ff"/><path d="M435.82 287.63L438.52 282.91L433.13 282.91Z" fill="#0000ff"/><path d="M440.73 287.90L443.42 283.18L438.03 283.18Z" fill="#0000ff"/><path d="M445.63 288.27L448.33 283.55L442.94 283.55Z" fill="#0000ff"/><path d="M450.54 288.77L453.23 284.05L447.84 284.05Z" fill="#0000ff"/><path d="M455.44 289.46L458.14 284.74L452.75 284.74Z" fill="#0000ff"/><path d="M460.34 290.40L463.04 285.69L457.65 285.69Z" fill="#0000ff"/><path d="M465.25 291.69L467.94 286.98L462.55 286.98Z" fill="#0000ff"/><path d="M470.15 293.43L472.85 288.71L467.46 288.71Z" fill="#0000ff"/><path d="M475.06 295.72L477.75 291.00L472.36 291.00Z" fill="#0000ff"/><path d="M479.96 298.67L482.66 293.95L477.27 293.95Z" fill="#0000ff"/><path d="M484.87 302.33L487.56 297.61L482.17 297.61Z" fill="#0000ff"/><path d="M489.77 306.71L492.46 301.99L487.08 301.99Z" fill="#0000ff"/><path d="M494.67 311.76L497.37 307.05L491.98 307.05Z" fill="#0000ff"/><path d="M499.58 317.39L502.27 312.68L496.88 312.68Z" fill="#0000ff"/><path d="M504.48 323.50L507.18 318.78L501.79 318.78Z" fill="#0000ff"/><path d="M509.39 329.97L512.08 325.25L506.69 325.25Z" fill="#0000ff"/><path d="M514.29 336.70L516.98 331.99L511.60 331.99Z" fill="#0000ff"/><path d="M519.19 343.63L521.89 338.92L516.50 338.92Z" fill="#0000ff"/><path d="M524.10 350.70L526.79 345.98L521.40 345.98Z" fill="#0000ff"/><path d="M529.00 357.85L531.70 353.14L526.31 353.14Z" fill="#0000ff"/><path d="M533.91 365.06L536.60 360.35L531.21 360.35Z" fill="#0000ff"/><path d="M538.81 372.30L541.50 367.59L536.12 367.59Z" fill="#0000ff"/><path d="M543.71 379.55L546.41 374.84L541.02 374.84Z" fill="#0000ff"/><path d="M548.62 386.78L551.31 382.07L545.92 382.07Z" fill="#0000ff"/><path d="M553.52 393.97L556.22 389.25L550.83 389.25Z" fill="#0000ff"/><path d="M558.43 401.08L561.12 396.37L555.73 396.37Z" fill="#0000ff"/><path d="M563.33 408.09L566.02 403.37L560.64 403.37Z" fill="#0000ff"/><path d="M568.23 414.93L570.93 410.21L565.54 410.21Z" fill="#0000ff"/><path d="M573.14 421.54L575.83 416.83L570.44 416.83Z" fill="#0000ff"/><path d="M578.04 427.85L580.74 423.13L575.35 423.13Z" fill="#0000ff"/><path d="M582.95 433.73L585.64 429.02L580.25 429.02Z" fill="#0000ff"/><path d="M587.85 439.09L590.55 434.38L585.16 434.38Z" fill="#0000ff"/><path d="M592.76 443.83L595.45 439.11L590.06 439.11Z" fill="#0000ff"/><path d="M597.66 447.86L600.35 443.14L594.96 443.14Z" fill="#0000ff"/><path d="M602.56 451.16L605.26 446.45L599.87 446.45Z" fill="#0000ff"/><path d="M607.47 453.78L610.16 449.06L604.77 449.06Z" fill="#0000ff"/><path d="M612.37 455.78L615.07 451.07L609.68 451.07Z" fill="#0000ff"/><path d="M617.28 457.29L619.97 452.57L614.58 452.57Z" fill="#0000ff"/><path d="M622.18 458.39L624.87 453.68L619.49 453.68Z" fill="#0000ff"/><path d="M627.08 459.20L629.78 454.49L624.39 454.49Z" fill="#0000ff"/><path d="M631.99 459.79L634.68 455.08L629.29 455.08Z" fill="#0000ff"/><path d="M636.89 460.22L639.59 455.51L634.20 455.51Z" fill="#0000ff"/><path d="M641.80 460.54L644.49 455.83L639.10 455.83Z" fill="#0000ff"/><path d="M646.70 460.78L649.39 456.06L644.01 456.06Z" fill="#0000ff"/>
<path d="M406.40 293.25 L411.30 293.29 L416.21 293.34 L421.11 293.40 L426.02 293.49 L430.92 293.60 L435.82 293.75 L440.73 293.96 L445.63 294.24 L450.54 294.63 L455.44 295.16 L460.34 295.89 L465.25 296.91 L470.15 298.30 L475.06 300.20 L479.96 302.70 L484.87 305.90 L489.77 309.86 L494.67 314.56 L499.58 319.92 L504.48 325.84 L509.39 332.19 L514.29 338.88 L519.19 345.80 L524.10 352.88 L529.00 360.06 L533.91 367.31 L538.81 374.58 L543.71 381.84 L548.62 389.06 L553.52 396.20 L558.43 403.20 L563.33 410.01 L568.23 416.54 L573.14 422.68 L578.04 428.32 L582.95 433.35 L587.85 437.67 L592.76 441.24 L597.66 444.07 L602.56 446.24 L607.47 447.86 L612.37 449.05 L617.28 449.91 L622.18 450.53 L627.08 450.97 L631.99 451.30 L636.89 451.54 L641.80 451.71 L646.70 451.85" fill="none" stroke="#808000" stroke-width="0.55"/>
<path d="M406.40 290.67L408.98 293.25L406.40 295.83L403.82 293.25Z" fill="#808000"/><path d="M411.30 290.71L413.88 293.29L411.30 295.87L408.73 293.29Z" fill="#808000"/><path d="M416.21 290.76L418.79 293.34L416.21 295.91L413.63 293.34Z" fill="#808000"/><path d="M421.11 290.83L423.69 293.40L421.11 295.98L418.54 293.40Z" fill="#808000"/><path d="M426.02 290.91L428.59 293.49L426.02 296.07L423.44 293.49Z" fill="#808000"/><path d="M430.92 291.03L433.50 293.60L430.92 296.18L428.34 293.60Z" fill="#808000"/><path d="M435.82 291.18L438.40 293.75L435.82 296.33L433.25 293.75Z" fill="#808000"/><path d="M440.73 291.38L443.31 293.96L440.73 296.54L438.15 293.96Z" fill="#808000"/><path d="M445.63 291.66L448.21 294.24L445.63 296.82L443.06 294.24Z" fill="#808000"/><path d="M450.54 292.05L453.11 294.63L450.54 297.20L447.96 294.63Z" fill="#808000"/><path d="M455.44 292.58L458.02 295.16L455.44 297.73L452.86 295.16Z" fill="#808000"/><path d="M460.34 293.31L462.92 295.89L460.34 298.47L457.77 295.89Z" fill="#808000"/><path d="M465.25 294.33L467.83 296.91L465.25 299.48L462.67 296.91Z" fill="#808000"/><path d="M470.15 295.73L472.73 298.30L470.15 300.88L467.58 298.30Z" fill="#808000"/><path d="M475.06 297.62L477.63 300.20L475.06 302.77L472.48 300.20Z" fill="#808000"/><path d="M479.96 300.12L482.54 302.70L479.96 305.27L477.38 302.70Z" fill="#808000"/><path d="M484.87 303.33L487.44 305.90L484.87 308.48L482.29 305.90Z" fill="#808000"/><path d="M489.77 307.28L492.35 309.86L489.77 312.44L487.19 309.86Z" fill="#808000"/><path d="M494.67 311.98L497.25 314.56L494.67 317.13L492.10 314.56Z" fill="#808000"/><path d="M499.58 317.34L502.15 319.92L499.58 322.50L497.00 319.92Z" fill="#808000"/><path d="M504.48 323.26L507.06 325.84L504.48 328.41L501.90 325.84Z" fill="#808000"/><path d="M509.39 329.62L511.96 332.19L509.39 334.77L506.81 332.19Z" fill="#808000"/><path d="M514.29 336.30L516.87 338.88L514.29 341.45L511.71 338.88Z" fill="#808000"/><path d="M519.19 343.22L521.77 345.80L519.19 348.37L516.62 345.80Z" fill="#808000"/><path d="M524.10 350.30L526.68 352.88L524.10 355.45L521.52 352.88Z" fill="#808000"/><path d="M529.00 357.48L531.58 360.06L529.00 362.64L526.42 360.06Z" fill="#808000"/><path d="M533.91 364.73L536.48 367.31L533.91 369.89L531.33 367.31Z" fill="#808000"/><path d="M538.81 372.00L541.39 374.58L538.81 377.16L536.23 374.58Z" fill="#808000"/><path d="M543.71 379.26L546.29 381.84L543.71 384.42L541.14 381.84Z" fill="#808000"/><path d="M548.62 386.48L551.20 389.06L548.62 391.64L546.04 389.06Z" fill="#808000"/><path d="M553.52 393.62L556.10 396.20L553.52 398.78L550.95 396.20Z" fill="#808000"/><path d="M558.43 400.63L561.00 403.20L558.43 405.78L555.85 403.20Z" fill="#808000"/><path d="M563.33 407.43L565.91 410.01L563.33 412.59L560.75 410.01Z" fill="#808000"/><path d="M568.23 413.96L570.81 416.54L568.23 419.11L565.66 416.54Z" fill="#808000"/><path d="M573.14 420.10L575.72 422.68L573.14 425.26L570.56 422.68Z" fill="#808000"/><path d="M578.04 425.75L580.62 428.32L578.04 430.90L575.47 428.32Z" fill="#808000"/><path d="M582.95 430.78L585.52 433.35L582.95 435.93L580.37 433.35Z" fill="#808000"/><path d="M587.85 435.09L590.43 437.67L587.85 440.25L585.27 437.67Z" fill="#808000"/><path d="M592.76 438.66L595.33 441.24L592.76 443.81L590.18 441.24Z" fill="#808000"/><path d="M597.66 441.49L600.24 444.07L597.66 446.65L595.08 444.07Z" fill="#808000"/><path d="M602.56 443.66L605.14 446.24L602.56 448.82L599.99 446.24Z" fill="#808000"/><path d="M607.47 445.28L610.04 447.86L607.47 450.44L604.89 447.86Z" fill="#808000"/><path d="M612.37 446.47L614.95 449.05L612.37 451.62L609.79 449.05Z" fill="#808000"/><path d="M617.28 447.33L619.85 449.91L617.28 452.48L614.70 449.91Z" fill="#808000"/><path d="M622.18 447.95L624.76 450.53L622.18 453.10L619.60 450.53Z" fill="#808000"/><path d="M627.08 448.40L629.66 450.97L627.08 453.55L624.51 450.97Z" fill="#808000"/><path d="M631.99 448.72L634.56 451.30L631.99 453.88L629.41 451.30Z" fill="#808000"/><path d="M636.89 448.96L639.47 451.54L636.89 454.12L634.31 451.54Z" fill="#808000"/><path d="M641.80 449.14L644.37 451.71L641.80 454.29L639.22 451.71Z" fill="#808000"/><path d="M646.70 449.27L649.28 451.85L646.70 454.42L644.12 451.85Z" fill="#808000"/>
<path d="M406.40 321.77 L411.30 321.80 L416.21 321.86 L421.11 321.92 L426.02 322.01 L430.92 322.14 L435.82 322.30 L440.73 322.53 L445.63 322.85 L450.54 323.29 L455.44 323.92 L460.34 324.79 L465.25 326.02 L470.15 327.72 L475.06 330.01 L479.96 333.01 L484.87 336.80 L489.77 341.38 L494.67 346.68 L499.58 352.60 L504.48 358.99 L509.39 365.75 L514.29 372.75 L519.19 379.92 L524.10 387.18 L529.00 394.49 L533.91 401.79 L538.81 409.04 L543.71 416.16 L548.62 423.10 L553.52 429.76 L558.43 436.03 L563.33 441.77 L568.23 446.87 L573.14 451.21 L578.04 454.76 L582.95 457.54 L587.85 459.64 L592.76 461.18 L597.66 462.29 L602.56 463.08 L607.47 463.64 L612.37 464.05 L617.28 464.33 L622.18 464.54 L627.08 464.69 L631.99 464.80 L636.89 464.89 L641.80 464.95 L646.70 465.00" fill="none" stroke="#ff00ff" stroke-width="0.55"/>
<path d="M403.71 321.77L408.42 319.07L408.42 324.46Z" fill="#ff00ff"/><path d="M408.61 321.80L413.32 319.11L413.32 324.50Z" fill="#ff00ff"/><path d="M413.51 321.86L418.23 319.16L418.23 324.55Z" fill="#ff00ff"/><path d="M418.42 321.92L423.13 319.23L423.13 324.62Z" fill="#ff00ff"/><path d="M423.32 322.01L428.04 319.32L428.04 324.71Z" fill="#ff00ff"/><path d="M428.23 322.14L432.94 319.44L432.94 324.83Z" fill="#ff00ff"/><path d="M433.13 322.30L437.85 319.61L437.85 325.00Z" fill="#ff00ff"/><path d="M438.03 322.53L442.75 319.84L442.75 325.23Z" fill="#ff00ff"/><path d="M442.94 322.85L447.65 320.16L447.65 325.54Z" fill="#ff00ff"/><path d="M447.84 323.29L452.56 320.60L452.56 325.99Z" fill="#ff00ff"/><path d="M452.75 323.92L457.46 321.22L457.46 326.61Z" fill="#ff00ff"/><path d="M457.65 324.79L462.37 322.10L462.37 327.49Z" fill="#ff00ff"/><path d="M462.55 326.02L467.27 323.33L467.27 328.71Z" fill="#ff00ff"/><path d="M467.46 327.72L472.17 325.02L472.17 330.41Z" fill="#ff00ff"/><path d="M472.36 330.01L477.08 327.31L477.08 332.70Z" fill="#ff00ff"/><path d="M477.27 333.01L481.98 330.32L481.98 335.71Z" fill="#ff00ff"/><path d="M482.17 336.80L486.89 334.11L486.89 339.50Z" fill="#ff00ff"/><path d="M487.08 341.38L491.79 338.68L491.79 344.07Z" fill="#ff00ff"/><path d="M491.98 346.68L496.69 343.99L496.69 349.38Z" fill="#ff00ff"/><path d="M496.88 352.60L501.60 349.90L501.60 355.29Z" fill="#ff00ff"/><path d="M501.79 358.99L506.50 356.30L506.50 361.69Z" fill="#ff00ff"/><path d="M506.69 365.75L511.41 363.05L511.41 368.44Z" fill="#ff00ff"/><path d="M511.60 372.75L516.31 370.06L516.31 375.45Z" fill="#ff00ff"/><path d="M516.50 379.92L521.21 377.22L521.21 382.61Z" fill="#ff00ff"/><path d="M521.40 387.18L526.12 384.49L526.12 389.88Z" fill="#ff00ff"/><path d="M526.31 394.49L531.02 391.80L531.02 397.19Z" fill="#ff00ff"/><path d="M531.21 401.79L535.93 399.10L535.93 404.49Z" fill="#ff00ff"/><path d="M536.12 409.04L540.83 406.34L540.83 411.73Z" fill="#ff00ff"/><path d="M541.02 416.16L545.74 413.47L545.74 418.86Z" fill="#ff00ff"/><path d="M545.92 423.10L550.64 420.41L550.64 425.79Z" fill="#ff00ff"/><path d="M550.83 429.76L555.54 427.06L555.54 432.45Z" fill="#ff00ff"/><path d="M555.73 436.03L560.45 433.33L560.45 438.72Z" fill="#ff00ff"/><path d="M560.64 441.77L565.35 439.08L565.35 444.46Z" fill="#ff00ff"/><path d="M565.54 446.87L570.26 444.17L570.26 449.56Z" fill="#ff00ff"/><path d="M570.44 451.21L575.16 448.52L575.16 453.90Z" fill="#ff00ff"/><path d="M575.35 454.76L580.06 452.06L580.06 457.45Z" fill="#ff00ff"/><path d="M580.25 457.54L584.97 454.85L584.97 460.23Z" fill="#ff00ff"/><path d="M585.16 459.64L589.87 456.95L589.87 462.33Z" fill="#ff00ff"/><path d="M590.06 461.18L594.78 458.49L594.78 463.88Z" fill="#ff00ff"/><path d="M594.96 462.29L599.68 459.60L599.68 464.99Z" fill="#ff00ff"/><path d="M599.87 463.08L604.58 460.39L604.58 465.78Z" fill="#ff00ff"/><path d="M604.77 463.64L609.49 460.95L609.49 466.34Z" fill="#ff00ff"/><path d="M609.68 464.05L614.39 461.35L614.39 466.74Z" fill="#ff00ff"/><path d="M614.58 464.33L619.30 461.64L619.30 467.03Z" fill="#ff00ff"/><path d="M619.49 464.54L624.20 461.85L624.20 467.23Z" fill="#ff00ff"/><path d="M624.39 464.69L629.10 462.00L629.10 467.39Z" fill="#ff00ff"/><path d="M629.29 464.80L634.01 462.11L634.01 467.50Z" fill="#ff00ff"/><path d="M634.20 464.89L638.91 462.19L638.91 467.58Z" fill="#ff00ff"/><path d="M639.10 464.95L643.82 462.26L643.82 467.64Z" fill="#ff00ff"/><path d="M644.01 465.00L648.72 462.30L648.72 467.69Z" fill="#ff00ff"/>
<path d="M386.4 258.3H666.9" stroke="#555" stroke-width="1.3" fill="none"/>
<path d="M666.9 257.65000000000003V481.75" stroke="#777" stroke-width="1.3" fill="none"/>
<path d="M386.4 257.65000000000003V481.1H667.55" stroke="#333" stroke-width="1.3" fill="none"/>
<text x="406.40" y="495.70" text-anchor="middle" font-size="9.7">-1</text>
<text x="446.45" y="495.70" text-anchor="middle" font-size="9.7">0</text>
<text x="486.50" y="495.70" text-anchor="middle" font-size="9.7">1</text>
<text x="526.55" y="495.70" text-anchor="middle" font-size="9.7">2</text>
<text x="566.60" y="495.70" text-anchor="middle" font-size="9.7">3</text>
<text x="606.65" y="495.70" text-anchor="middle" font-size="9.7">4</text>
<text x="646.70" y="495.70" text-anchor="middle" font-size="9.7">5</text>
<text x="378.80" y="484.40" text-anchor="end" font-size="9.7">0.0</text>
<text x="378.80" y="462.79" text-anchor="end" font-size="9.7">0.3</text>
<text x="378.80" y="441.18" text-anchor="end" font-size="9.7">0.6</text>
<text x="378.80" y="419.57" text-anchor="end" font-size="9.7">0.9</text>
<text x="378.80" y="397.96" text-anchor="end" font-size="9.7">1.2</text>
<text x="378.80" y="376.35" text-anchor="end" font-size="9.7">1.5</text>
<text x="378.80" y="354.74" text-anchor="end" font-size="9.7">1.8</text>
<text x="378.80" y="333.13" text-anchor="end" font-size="9.7">2.1</text>
<text x="378.80" y="311.52" text-anchor="end" font-size="9.7">2.4</text>
<text x="378.80" y="289.91" text-anchor="end" font-size="9.7">2.7</text>
<text x="378.80" y="268.30" text-anchor="end" font-size="9.7">3.0</text>
<path d="M386.38 481.10V483.80M406.40 481.10V486.01M426.42 481.10V483.80M446.45 481.10V486.01M466.48 481.10V483.80M486.50 481.10V486.01M506.53 481.10V483.80M526.55 481.10V486.01M546.58 481.10V483.80M566.60 481.10V486.01M586.62 481.10V483.80M606.65 481.10V486.01M626.68 481.10V483.80M646.70 481.10V486.01M666.73 481.10V483.80M386.40 481.10H381.49M386.40 470.30H383.70M386.40 459.49H381.49M386.40 448.69H383.70M386.40 437.88H381.49M386.40 427.08H383.70M386.40 416.27H381.49M386.40 405.47H383.70M386.40 394.66H381.49M386.40 383.86H383.70M386.40 373.05H381.49M386.40 362.25H383.70M386.40 351.44H381.49M386.40 340.63H383.70M386.40 329.83H381.49M386.40 319.02H383.70M386.40 308.22H381.49M386.40 297.41H383.70M386.40 286.61H381.49M386.40 275.80H383.70M386.40 265.00H381.49" stroke="#333" stroke-width="1.1" fill="none"/>
<text x="526" y="512" text-anchor="middle" font-size="10">log f (Hz)</text>
<text transform="translate(358.8,377.6) rotate(-90)" text-anchor="middle" font-size="10">log z (Ω cm<tspan dy="-4" font-size="7">2</tspan><tspan dy="4">)</tspan></text>
<text x="501" y="276" font-size="10">(b) DS2</text>
<path d="M595.30 289.30H603.16M611.14 289.30H619.00" stroke="#000000" stroke-width="0.8" opacity="0.75"/>
<rect x="604.61" y="286.76" width="5.08" height="5.08" fill="#000000"/>
<text x="622.00" y="292.87" font-size="10.2">Blank</text>
<path d="M595.30 301.78H603.16M611.14 301.78H619.00" stroke="#ff0000" stroke-width="0.8" opacity="0.75"/>
<circle cx="607.15" cy="301.78" r="2.79" fill="#ff0000"/>
<text x="622.00" y="305.35" font-size="10.2">1.00 mM</text>
<path d="M595.30 314.26H603.16M611.14 314.26H619.00" stroke="#00ff00" stroke-width="0.8" opacity="0.75"/>
<path d="M607.15 310.76L610.65 316.89L603.65 316.89Z" fill="#00ff00"/>
<text x="622.00" y="317.83" font-size="10.2">0.75 mM</text>
<path d="M595.30 326.74H603.16M611.14 326.74H619.00" stroke="#0000ff" stroke-width="0.8" opacity="0.75"/>
<path d="M607.15 330.24L610.65 324.11L603.65 324.11Z" fill="#0000ff"/>
<text x="622.00" y="330.31" font-size="10.2">0.50 mM</text>
<path d="M595.30 339.22H603.16M611.14 339.22H619.00" stroke="#808000" stroke-width="0.8" opacity="0.75"/>
<path d="M607.15 335.87L610.50 339.22L607.15 342.57L603.80 339.22Z" fill="#808000"/>
<text x="622.00" y="342.79" font-size="10.2">0.25 mM</text>
<path d="M595.30 351.70H603.16M611.14 351.70H619.00" stroke="#ff00ff" stroke-width="0.8" opacity="0.75"/>
<path d="M603.65 351.70L609.78 348.20L609.78 355.20Z" fill="#ff00ff"/>
<text x="622.00" y="355.27" font-size="10.2">0.10 mM</text>
<rect x="593.3" y="281.3" width="67.6" height="77.7" fill="none" stroke="#333" stroke-width="0.9"/>
<path d="M73.10 738.07 L78.16 737.92 L83.22 737.73 L88.28 737.48 L93.34 737.17 L98.40 736.77 L103.46 736.26 L108.51 735.61 L113.57 734.77 L118.63 733.71 L123.69 732.35 L128.75 730.63 L133.81 728.43 L138.87 725.65 L143.93 722.14 L148.99 717.73 L154.05 712.24 L159.11 705.46 L164.17 697.22 L169.22 687.44 L174.28 676.15 L179.34 663.67 L184.40 650.61 L189.46 637.88 L194.52 626.58 L199.58 617.81 L204.64 612.41 L209.70 610.92 L214.76 613.48 L219.82 619.84 L224.88 629.38 L229.93 641.17 L234.99 654.09 L240.05 667.08 L245.11 679.29 L250.17 690.19 L255.23 699.56 L260.29 707.40 L265.35 713.82 L270.41 719.00 L275.47 723.16 L280.53 726.46 L285.59 729.07 L290.64 731.13 L295.70 732.75 L300.76 734.02 L305.82 735.01 L310.88 735.80 L315.94 736.41 L321.00 736.89" fill="none" stroke="#000000" stroke-width="0.55"/>
<rect x="71.09" y="736.05" width="4.03" height="4.03" fill="#000000"/><rect x="76.14" y="735.90" width="4.03" height="4.03" fill="#000000"/><rect x="81.20" y="735.71" width="4.03" height="4.03" fill="#000000"/><rect x="86.26" y="735.47" width="4.03" height="4.03" fill="#000000"/><rect x="91.32" y="735.16" width="4.03" height="4.03" fill="#000000"/><rect x="96.38" y="734.76" width="4.03" height="4.03" fill="#000000"/><rect x="101.44" y="734.25" width="4.03" height="4.03" fill="#000000"/><rect x="106.50" y="733.59" width="4.03" height="4.03" fill="#000000"/><rect x="111.56" y="732.76" width="4.03" height="4.03" fill="#000000"/><rect x="116.62" y="731.70" width="4.03" height="4.03" fill="#000000"/><rect x="121.68" y="730.34" width="4.03" height="4.03" fill="#000000"/><rect x="126.74" y="728.61" width="4.03" height="4.03" fill="#000000"/><rect x="131.80" y="726.42" width="4.03" height="4.03" fill="#000000"/><rect x="136.86" y="723.64" width="4.03" height="4.03" fill="#000000"/><rect x="141.91" y="720.13" width="4.03" height="4.03" fill="#000000"/><rect x="146.97" y="715.72" width="4.03" height="4.03" fill="#000000"/><rect x="152.03" y="710.22" width="4.03" height="4.03" fill="#000000"/><rect x="157.09" y="703.44" width="4.03" height="4.03" fill="#000000"/><rect x="162.15" y="695.21" width="4.03" height="4.03" fill="#000000"/><rect x="167.21" y="685.42" width="4.03" height="4.03" fill="#000000"/><rect x="172.27" y="674.14" width="4.03" height="4.03" fill="#000000"/><rect x="177.33" y="661.66" width="4.03" height="4.03" fill="#000000"/><rect x="182.39" y="648.59" width="4.03" height="4.03" fill="#000000"/><rect x="187.45" y="635.86" width="4.03" height="4.03" fill="#000000"/><rect x="192.51" y="624.57" width="4.03" height="4.03" fill="#000000"/><rect x="197.57" y="615.79" width="4.03" height="4.03" fill="#000000"/><rect x="202.62" y="610.40" width="4.03" height="4.03" fill="#000000"/><rect x="207.68" y="608.91" width="4.03" height="4.03" fill="#000000"/><rect x="212.74" y="611.47" width="4.03" height="4.03" fill="#000000"/><rect x="217.80" y="617.83" width="4.03" height="4.03" fill="#000000"/><rect x="222.86" y="627.37" width="4.03" height="4.03" fill="#000000"/><rect x="227.92" y="639.15" width="4.03" height="4.03" fill="#000000"/><rect x="232.98" y="652.07" width="4.03" height="4.03" fill="#000000"/><rect x="238.04" y="665.06" width="4.03" height="4.03" fill="#000000"/><rect x="243.10" y="677.27" width="4.03" height="4.03" fill="#000000"/><rect x="248.16" y="688.18" width="4.03" height="4.03" fill="#000000"/><rect x="253.22" y="697.55" width="4.03" height="4.03" fill="#000000"/><rect x="258.28" y="705.38" width="4.03" height="4.03" fill="#000000"/><rect x="263.33" y="711.80" width="4.03" height="4.03" fill="#000000"/><rect x="268.39" y="716.99" width="4.03" height="4.03" fill="#000000"/><rect x="273.45" y="721.14" width="4.03" height="4.03" fill="#000000"/><rect x="278.51" y="724.44" width="4.03" height="4.03" fill="#000000"/><rect x="283.57" y="727.05" width="4.03" height="4.03" fill="#000000"/><rect x="288.63" y="729.11" width="4.03" height="4.03" fill="#000000"/><rect x="293.69" y="730.73" width="4.03" height="4.03" fill="#000000"/><rect x="298.75" y="732.00" width="4.03" height="4.03" fill="#000000"/><rect x="303.81" y="733.00" width="4.03" height="4.03" fill="#000000"/><rect x="308.87" y="733.78" width="4.03" height="4.03" fill="#000000"/><rect x="313.93" y="734.39" width="4.03" height="4.03" fill="#000000"/><rect x="318.99" y="734.87" width="4.03" height="4.03" fill="#000000"/>
<path d="M73.10 730.53 L78.16 728.36 L83.22 725.61 L88.28 722.14 L93.34 717.79 L98.40 712.36 L103.46 705.63 L108.51 697.38 L113.57 687.42 L118.63 675.62 L123.69 662.02 L128.75 646.86 L133.81 630.66 L138.87 614.14 L143.93 598.12 L148.99 583.35 L154.05 570.36 L159.11 559.45 L164.17 550.70 L169.22 544.07 L174.28 539.46 L179.34 536.76 L184.40 535.88 L189.46 536.81 L194.52 539.57 L199.58 544.25 L204.64 550.94 L209.70 559.75 L214.76 570.73 L219.82 583.78 L224.88 598.61 L229.93 614.65 L234.99 631.17 L240.05 647.35 L245.11 662.46 L250.17 676.01 L255.23 687.75 L260.29 697.66 L265.35 705.86 L270.41 712.55 L275.47 717.94 L280.53 722.26 L285.59 725.70 L290.64 728.43 L295.70 730.59 L300.76 732.30 L305.82 733.65 L310.88 734.71 L315.94 735.54 L321.00 736.20" fill="none" stroke="#ff0000" stroke-width="0.55"/>
<circle cx="73.10" cy="730.53" r="2.22" fill="#ff0000"/><circle cx="78.16" cy="728.36" r="2.22" fill="#ff0000"/><circle cx="83.22" cy="725.61" r="2.22" fill="#ff0000"/><circle cx="88.28" cy="722.14" r="2.22" fill="#ff0000"/><circle cx="93.34" cy="717.79" r="2.22" fill="#ff0000"/><circle cx="98.40" cy="712.36" r="2.22" fill="#ff0000"/><circle cx="103.46" cy="705.63" r="2.22" fill="#ff0000"/><circle cx="108.51" cy="697.38" r="2.22" fill="#ff0000"/><circle cx="113.57" cy="687.42" r="2.22" fill="#ff0000"/><circle cx="118.63" cy="675.62" r="2.22" fill="#ff0000"/><circle cx="123.69" cy="662.02" r="2.22" fill="#ff0000"/><circle cx="128.75" cy="646.86" r="2.22" fill="#ff0000"/><circle cx="133.81" cy="630.66" r="2.22" fill="#ff0000"/><circle cx="138.87" cy="614.14" r="2.22" fill="#ff0000"/><circle cx="143.93" cy="598.12" r="2.22" fill="#ff0000"/><circle cx="148.99" cy="583.35" r="2.22" fill="#ff0000"/><circle cx="154.05" cy="570.36" r="2.22" fill="#ff0000"/><circle cx="159.11" cy="559.45" r="2.22" fill="#ff0000"/><circle cx="164.17" cy="550.70" r="2.22" fill="#ff0000"/><circle cx="169.22" cy="544.07" r="2.22" fill="#ff0000"/><circle cx="174.28" cy="539.46" r="2.22" fill="#ff0000"/><circle cx="179.34" cy="536.76" r="2.22" fill="#ff0000"/><circle cx="184.40" cy="535.88" r="2.22" fill="#ff0000"/><circle cx="189.46" cy="536.81" r="2.22" fill="#ff0000"/><circle cx="194.52" cy="539.57" r="2.22" fill="#ff0000"/><circle cx="199.58" cy="544.25" r="2.22" fill="#ff0000"/><circle cx="204.64" cy="550.94" r="2.22" fill="#ff0000"/><circle cx="209.70" cy="559.75" r="2.22" fill="#ff0000"/><circle cx="214.76" cy="570.73" r="2.22" fill="#ff0000"/><circle cx="219.82" cy="583.78" r="2.22" fill="#ff0000"/><circle cx="224.88" cy="598.61" r="2.22" fill="#ff0000"/><circle cx="229.93" cy="614.65" r="2.22" fill="#ff0000"/><circle cx="234.99" cy="631.17" r="2.22" fill="#ff0000"/><circle cx="240.05" cy="647.35" r="2.22" fill="#ff0000"/><circle cx="245.11" cy="662.46" r="2.22" fill="#ff0000"/><circle cx="250.17" cy="676.01" r="2.22" fill="#ff0000"/><circle cx="255.23" cy="687.75" r="2.22" fill="#ff0000"/><circle cx="260.29" cy="697.66" r="2.22" fill="#ff0000"/><circle cx="265.35" cy="705.86" r="2.22" fill="#ff0000"/><circle cx="270.41" cy="712.55" r="2.22" fill="#ff0000"/><circle cx="275.47" cy="717.94" r="2.22" fill="#ff0000"/><circle cx="280.53" cy="722.26" r="2.22" fill="#ff0000"/><circle cx="285.59" cy="725.70" r="2.22" fill="#ff0000"/><circle cx="290.64" cy="728.43" r="2.22" fill="#ff0000"/><circle cx="295.70" cy="730.59" r="2.22" fill="#ff0000"/><circle cx="300.76" cy="732.30" r="2.22" fill="#ff0000"/><circle cx="305.82" cy="733.65" r="2.22" fill="#ff0000"/><circle cx="310.88" cy="734.71" r="2.22" fill="#ff0000"/><circle cx="315.94" cy="735.54" r="2.22" fill="#ff0000"/><circle cx="321.00" cy="736.20" r="2.22" fill="#ff0000"/>
<path d="M73.10 733.53 L78.16 732.14 L83.22 730.38 L88.28 728.14 L93.34 725.30 L98.40 721.71 L103.46 717.20 L108.51 711.57 L113.57 704.57 L118.63 695.99 L123.69 685.63 L128.75 673.37 L133.81 659.29 L138.87 643.70 L143.93 627.17 L148.99 610.51 L154.05 594.58 L159.11 580.15 L164.17 567.72 L169.22 557.58 L174.28 549.79 L179.34 544.31 L184.40 541.06 L189.46 539.97 L194.52 541.02 L199.58 544.22 L204.64 549.66 L209.70 557.40 L214.76 567.50 L219.82 579.89 L224.88 594.29 L229.93 610.20 L234.99 626.85 L240.05 643.39 L245.11 659.01 L250.17 673.12 L255.23 685.41 L260.29 695.81 L265.35 704.42 L270.41 711.45 L275.47 717.11 L280.53 721.64 L285.59 725.24 L290.64 728.09 L295.70 730.34 L300.76 732.11 L305.82 733.51 L310.88 734.61 L315.94 735.47 L321.00 736.15" fill="none" stroke="#00ff00" stroke-width="0.55"/>
<path d="M73.10 730.75L75.88 735.62L70.32 735.62Z" fill="#00ff00"/><path d="M78.16 729.36L80.94 734.23L75.38 734.23Z" fill="#00ff00"/><path d="M83.22 727.60L86.00 732.46L80.44 732.46Z" fill="#00ff00"/><path d="M88.28 725.36L91.06 730.22L85.50 730.22Z" fill="#00ff00"/><path d="M93.34 722.52L96.12 727.38L90.56 727.38Z" fill="#00ff00"/><path d="M98.40 718.93L101.18 723.80L95.62 723.80Z" fill="#00ff00"/><path d="M103.46 714.42L106.23 719.29L100.68 719.29Z" fill="#00ff00"/><path d="M108.51 708.79L111.29 713.65L105.73 713.65Z" fill="#00ff00"/><path d="M113.57 701.79L116.35 706.66L110.79 706.66Z" fill="#00ff00"/><path d="M118.63 693.21L121.41 698.08L115.85 698.08Z" fill="#00ff00"/><path d="M123.69 682.85L126.47 687.71L120.91 687.71Z" fill="#00ff00"/><path d="M128.75 670.59L131.53 675.46L125.97 675.46Z" fill="#00ff00"/><path d="M133.81 656.51L136.59 661.38L131.03 661.38Z" fill="#00ff00"/><path d="M138.87 640.92L141.65 645.78L136.09 645.78Z" fill="#00ff00"/><path d="M143.93 624.39L146.71 629.26L141.15 629.26Z" fill="#00ff00"/><path d="M148.99 607.73L151.77 612.59L146.21 612.59Z" fill="#00ff00"/><path d="M154.05 591.80L156.83 596.67L151.27 596.67Z" fill="#00ff00"/><path d="M159.11 577.37L161.89 582.23L156.33 582.23Z" fill="#00ff00"/><path d="M164.17 564.94L166.94 569.80L161.39 569.80Z" fill="#00ff00"/><path d="M169.22 554.80L172.00 559.66L166.44 559.66Z" fill="#00ff00"/><path d="M174.28 547.01L177.06 551.87L171.50 551.87Z" fill="#00ff00"/><path d="M179.34 541.53L182.12 546.39L176.56 546.39Z" fill="#00ff00"/><path d="M184.40 538.28L187.18 543.14L181.62 543.14Z" fill="#00ff00"/><path d="M189.46 537.19L192.24 542.06L186.68 542.06Z" fill="#00ff00"/><path d="M194.52 538.24L197.30 543.10L191.74 543.10Z" fill="#00ff00"/><path d="M199.58 541.44L202.36 546.31L196.80 546.31Z" fill="#00ff00"/><path d="M204.64 546.88L207.42 551.74L201.86 551.74Z" fill="#00ff00"/><path d="M209.70 554.62L212.48 559.49L206.92 559.49Z" fill="#00ff00"/><path d="M214.76 564.72L217.54 569.59L211.98 569.59Z" fill="#00ff00"/><path d="M219.82 577.11L222.60 581.97L217.04 581.97Z" fill="#00ff00"/><path d="M224.88 591.51L227.66 596.38L222.10 596.38Z" fill="#00ff00"/><path d="M229.93 607.42L232.71 612.28L227.16 612.28Z" fill="#00ff00"/><path d="M234.99 624.07L237.77 628.94L232.21 628.94Z" fill="#00ff00"/><path d="M240.05 640.61L242.83 645.47L237.27 645.47Z" fill="#00ff00"/><path d="M245.11 656.23L247.89 661.09L242.33 661.09Z" fill="#00ff00"/><path d="M250.17 670.34L252.95 675.20L247.39 675.20Z" fill="#00ff00"/><path d="M255.23 682.63L258.01 687.49L252.45 687.49Z" fill="#00ff00"/><path d="M260.29 693.03L263.07 697.90L257.51 697.90Z" fill="#00ff00"/><path d="M265.35 701.64L268.13 706.51L262.57 706.51Z" fill="#00ff00"/><path d="M270.41 708.67L273.19 713.53L267.63 713.53Z" fill="#00ff00"/><path d="M275.47 714.33L278.25 719.19L272.69 719.19Z" fill="#00ff00"/><path d="M280.53 718.86L283.31 723.72L277.75 723.72Z" fill="#00ff00"/><path d="M285.59 722.46L288.37 727.32L282.81 727.32Z" fill="#00ff00"/><path d="M290.64 725.31L293.42 730.17L287.87 730.17Z" fill="#00ff00"/><path d="M295.70 727.56L298.48 732.42L292.92 732.42Z" fill="#00ff00"/><path d="M300.76 729.33L303.54 734.20L297.98 734.20Z" fill="#00ff00"/><path d="M305.82 730.73L308.60 735.60L303.04 735.60Z" fill="#00ff00"/><path d="M310.88 731.83L313.66 736.69L308.10 736.69Z" fill="#00ff00"/><path d="M315.94 732.69L318.72 737.56L313.16 737.56Z" fill="#00ff00"/><path d="M321.00 733.37L323.78 738.23L318.22 738.23Z" fill="#00ff00"/>
<path d="M73.10 735.57 L78.16 734.73 L83.22 733.67 L88.28 732.31 L93.34 730.59 L98.40 728.40 L103.46 725.62 L108.51 722.12 L113.57 717.70 L118.63 712.18 L123.69 705.32 L128.75 696.89 L133.81 686.68 L138.87 674.59 L143.93 660.67 L148.99 645.19 L154.05 628.73 L159.11 612.10 L164.17 596.17 L169.22 581.72 L174.28 569.32 L179.34 559.26 L184.40 551.64 L189.46 546.44 L194.52 543.60 L199.58 543.07 L204.64 544.84 L209.70 548.93 L214.76 555.42 L219.82 564.35 L224.88 575.69 L229.93 589.24 L234.99 604.57 L240.05 620.98 L245.11 637.63 L250.17 653.65 L255.23 668.35 L260.29 681.31 L265.35 692.38 L270.41 701.61 L275.47 709.18 L280.53 715.29 L285.59 720.19 L290.64 724.10 L295.70 727.19 L300.76 729.64 L305.82 731.56 L310.88 733.08 L315.94 734.27 L321.00 735.21" fill="none" stroke="#0000ff" stroke-width="0.55"/>
<path d="M73.10 738.35L75.88 733.48L70.32 733.48Z" fill="#0000ff"/><path d="M78.16 737.51L80.94 732.65L75.38 732.65Z" fill="#0000ff"/><path d="M83.22 736.45L86.00 731.58L80.44 731.58Z" fill="#0000ff"/><path d="M88.28 735.09L91.06 730.23L85.50 730.23Z" fill="#0000ff"/><path d="M93.34 733.37L96.12 728.50L90.56 728.50Z" fill="#0000ff"/><path d="M98.40 731.18L101.18 726.31L95.62 726.31Z" fill="#0000ff"/><path d="M103.46 728.40L106.23 723.54L100.68 723.54Z" fill="#0000ff"/><path d="M108.51 724.90L111.29 720.03L105.73 720.03Z" fill="#0000ff"/><path d="M113.57 720.48L116.35 715.62L110.79 715.62Z" fill="#0000ff"/><path d="M118.63 714.96L121.41 710.10L115.85 710.10Z" fill="#0000ff"/><path d="M123.69 708.10L126.47 703.23L120.91 703.23Z" fill="#0000ff"/><path d="M128.75 699.67L131.53 694.80L125.97 694.80Z" fill="#0000ff"/><path d="M133.81 689.46L136.59 684.60L131.03 684.60Z" fill="#0000ff"/><path d="M138.87 677.37L141.65 672.51L136.09 672.51Z" fill="#0000ff"/><path d="M143.93 663.45L146.71 658.58L141.15 658.58Z" fill="#0000ff"/><path d="M148.99 647.97L151.77 643.10L146.21 643.10Z" fill="#0000ff"/><path d="M154.05 631.51L156.83 626.65L151.27 626.65Z" fill="#0000ff"/><path d="M159.11 614.88L161.89 610.02L156.33 610.02Z" fill="#0000ff"/><path d="M164.17 598.95L166.94 594.09L161.39 594.09Z" fill="#0000ff"/><path d="M169.22 584.50L172.00 579.64L166.44 579.64Z" fill="#0000ff"/><path d="M174.28 572.10L177.06 567.24L171.50 567.24Z" fill="#0000ff"/><path d="M179.34 562.04L182.12 557.18L176.56 557.18Z" fill="#0000ff"/><path d="M184.40 554.42L187.18 549.56L181.62 549.56Z" fill="#0000ff"/><path d="M189.46 549.22L192.24 544.36L186.68 544.36Z" fill="#0000ff"/><path d="M194.52 546.38L197.30 541.52L191.74 541.52Z" fill="#0000ff"/><path d="M199.58 545.85L202.36 540.99L196.80 540.99Z" fill="#0000ff"/><path d="M204.64 547.62L207.42 542.75L201.86 542.75Z" fill="#0000ff"/><path d="M209.70 551.71L212.48 546.85L206.92 546.85Z" fill="#0000ff"/><path d="M214.76 558.20L217.54 553.34L211.98 553.34Z" fill="#0000ff"/><path d="M219.82 567.13L222.60 562.27L217.04 562.27Z" fill="#0000ff"/><path d="M224.88 578.47L227.66 573.61L222.10 573.61Z" fill="#0000ff"/><path d="M229.93 592.02L232.71 587.16L227.16 587.16Z" fill="#0000ff"/><path d="M234.99 607.35L237.77 602.48L232.21 602.48Z" fill="#0000ff"/><path d="M240.05 623.76L242.83 618.90L237.27 618.90Z" fill="#0000ff"/><path d="M245.11 640.41L247.89 635.55L242.33 635.55Z" fill="#0000ff"/><path d="M250.17 656.43L252.95 651.56L247.39 651.56Z" fill="#0000ff"/><path d="M255.23 671.13L258.01 666.26L252.45 666.26Z" fill="#0000ff"/><path d="M260.29 684.09L263.07 679.23L257.51 679.23Z" fill="#0000ff"/><path d="M265.35 695.16L268.13 690.30L262.57 690.30Z" fill="#0000ff"/><path d="M270.41 704.39L273.19 699.53L267.63 699.53Z" fill="#0000ff"/><path d="M275.47 711.96L278.25 707.09L272.69 707.09Z" fill="#0000ff"/><path d="M280.53 718.07L283.31 713.21L277.75 713.21Z" fill="#0000ff"/><path d="M285.59 722.97L288.37 718.11L282.81 718.11Z" fill="#0000ff"/><path d="M290.64 726.88L293.42 722.01L287.87 722.01Z" fill="#0000ff"/><path d="M295.70 729.97L298.48 725.11L292.92 725.11Z" fill="#0000ff"/><path d="M300.76 732.42L303.54 727.55L297.98 727.55Z" fill="#0000ff"/><path d="M305.82 734.34L308.60 729.48L303.04 729.48Z" fill="#0000ff"/><path d="M310.88 735.86L313.66 730.99L308.10 730.99Z" fill="#0000ff"/><path d="M315.94 737.05L318.72 732.19L313.16 732.19Z" fill="#0000ff"/><path d="M321.00 737.99L323.78 733.12L318.22 733.12Z" fill="#0000ff"/>
<path d="M73.10 735.84 L78.16 735.08 L83.22 734.12 L88.28 732.89 L93.34 731.34 L98.40 729.36 L103.46 726.85 L108.51 723.69 L113.57 719.70 L118.63 714.71 L123.69 708.49 L128.75 700.83 L133.81 691.50 L138.87 680.36 L143.93 667.38 L148.99 652.74 L154.05 636.89 L159.11 620.52 L164.17 604.49 L169.22 589.65 L174.28 576.64 L179.34 565.90 L184.40 557.61 L189.46 551.83 L194.52 548.52 L199.58 547.64 L204.64 549.18 L209.70 553.16 L214.76 559.63 L219.82 568.60 L224.88 579.99 L229.93 593.55 L234.99 608.79 L240.05 625.00 L245.11 641.31 L250.17 656.89 L255.23 671.11 L260.29 683.59 L265.35 694.23 L270.41 703.08 L275.47 710.33 L280.53 716.19 L285.59 720.88 L290.64 724.63 L295.70 727.60 L300.76 729.95 L305.82 731.80 L310.88 733.26 L315.94 734.41 L321.00 735.31" fill="none" stroke="#808000" stroke-width="0.55"/>
<path d="M73.10 733.18L75.76 735.84L73.10 738.50L70.44 735.84Z" fill="#808000"/><path d="M78.16 732.43L80.82 735.08L78.16 737.74L75.50 735.08Z" fill="#808000"/><path d="M83.22 731.46L85.88 734.12L83.22 736.78L80.56 734.12Z" fill="#808000"/><path d="M88.28 730.24L90.94 732.89L88.28 735.55L85.62 732.89Z" fill="#808000"/><path d="M93.34 728.68L96.00 731.34L93.34 733.99L90.68 731.34Z" fill="#808000"/><path d="M98.40 726.70L101.05 729.36L98.40 732.02L95.74 729.36Z" fill="#808000"/><path d="M103.46 724.19L106.11 726.85L103.46 729.51L100.80 726.85Z" fill="#808000"/><path d="M108.51 721.03L111.17 723.69L108.51 726.35L105.86 723.69Z" fill="#808000"/><path d="M113.57 717.04L116.23 719.70L113.57 722.36L110.91 719.70Z" fill="#808000"/><path d="M118.63 712.05L121.29 714.71L118.63 717.37L115.97 714.71Z" fill="#808000"/><path d="M123.69 705.83L126.35 708.49L123.69 711.15L121.03 708.49Z" fill="#808000"/><path d="M128.75 698.17L131.41 700.83L128.75 703.49L126.09 700.83Z" fill="#808000"/><path d="M133.81 688.84L136.47 691.50L133.81 694.16L131.15 691.50Z" fill="#808000"/><path d="M138.87 677.70L141.53 680.36L138.87 683.02L136.21 680.36Z" fill="#808000"/><path d="M143.93 664.72L146.59 667.38L143.93 670.04L141.27 667.38Z" fill="#808000"/><path d="M148.99 650.08L151.65 652.74L148.99 655.40L146.33 652.74Z" fill="#808000"/><path d="M154.05 634.23L156.71 636.89L154.05 639.54L151.39 636.89Z" fill="#808000"/><path d="M159.11 617.86L161.76 620.52L159.11 623.18L156.45 620.52Z" fill="#808000"/><path d="M164.17 601.84L166.82 604.49L164.17 607.15L161.51 604.49Z" fill="#808000"/><path d="M169.22 586.99L171.88 589.65L169.22 592.31L166.57 589.65Z" fill="#808000"/><path d="M174.28 573.98L176.94 576.64L174.28 579.30L171.62 576.64Z" fill="#808000"/><path d="M179.34 563.24L182.00 565.90L179.34 568.56L176.68 565.90Z" fill="#808000"/><path d="M184.40 554.95L187.06 557.61L184.40 560.27L181.74 557.61Z" fill="#808000"/><path d="M189.46 549.17L192.12 551.83L189.46 554.49L186.80 551.83Z" fill="#808000"/><path d="M194.52 545.86L197.18 548.52L194.52 551.17L191.86 548.52Z" fill="#808000"/><path d="M199.58 544.98L202.24 547.64L199.58 550.30L196.92 547.64Z" fill="#808000"/><path d="M204.64 546.52L207.30 549.18L204.64 551.84L201.98 549.18Z" fill="#808000"/><path d="M209.70 550.50L212.36 553.16L209.70 555.82L207.04 553.16Z" fill="#808000"/><path d="M214.76 556.97L217.42 559.63L214.76 562.29L212.10 559.63Z" fill="#808000"/><path d="M219.82 565.94L222.48 568.60L219.82 571.26L217.16 568.60Z" fill="#808000"/><path d="M224.88 577.33L227.53 579.99L224.88 582.65L222.22 579.99Z" fill="#808000"/><path d="M229.93 590.89L232.59 593.55L229.93 596.21L227.28 593.55Z" fill="#808000"/><path d="M234.99 606.13L237.65 608.79L234.99 611.45L232.34 608.79Z" fill="#808000"/><path d="M240.05 622.34L242.71 625.00L240.05 627.66L237.39 625.00Z" fill="#808000"/><path d="M245.11 638.65L247.77 641.31L245.11 643.97L242.45 641.31Z" fill="#808000"/><path d="M250.17 654.23L252.83 656.89L250.17 659.55L247.51 656.89Z" fill="#808000"/><path d="M255.23 668.45L257.89 671.11L255.23 673.77L252.57 671.11Z" fill="#808000"/><path d="M260.29 680.93L262.95 683.59L260.29 686.25L257.63 683.59Z" fill="#808000"/><path d="M265.35 691.57L268.01 694.23L265.35 696.89L262.69 694.23Z" fill="#808000"/><path d="M270.41 700.42L273.07 703.08L270.41 705.74L267.75 703.08Z" fill="#808000"/><path d="M275.47 707.67L278.13 710.33L275.47 712.99L272.81 710.33Z" fill="#808000"/><path d="M280.53 713.53L283.19 716.19L280.53 718.85L277.87 716.19Z" fill="#808000"/><path d="M285.59 718.23L288.24 720.88L285.59 723.54L282.93 720.88Z" fill="#808000"/><path d="M290.64 721.97L293.30 724.63L290.64 727.29L287.99 724.63Z" fill="#808000"/><path d="M295.70 724.94L298.36 727.60L295.70 730.26L293.05 727.60Z" fill="#808000"/><path d="M300.76 727.29L303.42 729.95L300.76 732.60L298.10 729.95Z" fill="#808000"/><path d="M305.82 729.14L308.48 731.80L305.82 734.46L303.16 731.80Z" fill="#808000"/><path d="M310.88 730.60L313.54 733.26L310.88 735.92L308.22 733.26Z" fill="#808000"/><path d="M315.94 731.75L318.60 734.41L315.94 737.07L313.28 734.41Z" fill="#808000"/><path d="M321.00 732.65L323.66 735.31L321.00 737.97L318.34 735.31Z" fill="#808000"/>
<path d="M73.10 736.62 L78.16 736.08 L83.22 735.38 L88.28 734.50 L93.34 733.37 L98.40 731.94 L103.46 730.12 L108.51 727.81 L113.57 724.89 L118.63 721.21 L123.69 716.59 L128.75 710.82 L133.81 703.68 L138.87 694.96 L143.93 684.48 L148.99 672.17 L154.05 658.17 L159.11 642.85 L164.17 626.86 L169.22 611.08 L174.28 596.38 L179.34 583.54 L184.40 573.10 L189.46 565.34 L194.52 560.41 L199.58 558.33 L204.64 559.12 L209.70 562.77 L214.76 569.27 L219.82 578.54 L224.88 590.35 L229.93 604.30 L234.99 619.70 L240.05 635.71 L245.11 651.42 L250.17 666.08 L255.23 679.18 L260.29 690.48 L265.35 699.98 L270.41 707.80 L275.47 714.15 L280.53 719.27 L285.59 723.34 L290.64 726.59 L295.70 729.15 L300.76 731.17 L305.82 732.77 L310.88 734.02 L315.94 735.01 L321.00 735.79" fill="none" stroke="#ff00ff" stroke-width="0.55"/>
<path d="M70.32 736.62L75.18 733.84L75.18 739.40Z" fill="#ff00ff"/><path d="M75.38 736.08L80.24 733.30L80.24 738.86Z" fill="#ff00ff"/><path d="M80.44 735.38L85.30 732.60L85.30 738.16Z" fill="#ff00ff"/><path d="M85.50 734.50L90.36 731.72L90.36 737.28Z" fill="#ff00ff"/><path d="M90.56 733.37L95.42 730.59L95.42 736.15Z" fill="#ff00ff"/><path d="M95.62 731.94L100.48 729.16L100.48 734.72Z" fill="#ff00ff"/><path d="M100.68 730.12L105.54 727.34L105.54 732.90Z" fill="#ff00ff"/><path d="M105.73 727.81L110.60 725.03L110.60 730.59Z" fill="#ff00ff"/><path d="M110.79 724.89L115.66 722.11L115.66 727.67Z" fill="#ff00ff"/><path d="M115.85 721.21L120.72 718.43L120.72 723.99Z" fill="#ff00ff"/><path d="M120.91 716.59L125.78 713.81L125.78 719.37Z" fill="#ff00ff"/><path d="M125.97 710.82L130.84 708.04L130.84 713.60Z" fill="#ff00ff"/><path d="M131.03 703.68L135.89 700.90L135.89 706.46Z" fill="#ff00ff"/><path d="M136.09 694.96L140.95 692.18L140.95 697.74Z" fill="#ff00ff"/><path d="M141.15 684.48L146.01 681.70L146.01 687.26Z" fill="#ff00ff"/><path d="M146.21 672.17L151.07 669.39L151.07 674.95Z" fill="#ff00ff"/><path d="M151.27 658.17L156.13 655.39L156.13 660.95Z" fill="#ff00ff"/><path d="M156.33 642.85L161.19 640.07L161.19 645.63Z" fill="#ff00ff"/><path d="M161.39 626.86L166.25 624.09L166.25 629.64Z" fill="#ff00ff"/><path d="M166.44 611.08L171.31 608.30L171.31 613.86Z" fill="#ff00ff"/><path d="M171.50 596.38L176.37 593.60L176.37 599.16Z" fill="#ff00ff"/><path d="M176.56 583.54L181.43 580.76L181.43 586.32Z" fill="#ff00ff"/><path d="M181.62 573.10L186.49 570.32L186.49 575.87Z" fill="#ff00ff"/><path d="M186.68 565.34L191.55 562.56L191.55 568.12Z" fill="#ff00ff"/><path d="M191.74 560.41L196.61 557.63L196.61 563.19Z" fill="#ff00ff"/><path d="M196.80 558.33L201.66 555.55L201.66 561.11Z" fill="#ff00ff"/><path d="M201.86 559.12L206.72 556.34L206.72 561.90Z" fill="#ff00ff"/><path d="M206.92 562.77L211.78 559.99L211.78 565.55Z" fill="#ff00ff"/><path d="M211.98 569.27L216.84 566.49L216.84 572.05Z" fill="#ff00ff"/><path d="M217.04 578.54L221.90 575.76L221.90 581.32Z" fill="#ff00ff"/><path d="M222.10 590.35L226.96 587.57L226.96 593.13Z" fill="#ff00ff"/><path d="M227.16 604.30L232.02 601.52L232.02 607.08Z" fill="#ff00ff"/><path d="M232.21 619.70L237.08 616.92L237.08 622.48Z" fill="#ff00ff"/><path d="M237.27 635.71L242.14 632.93L242.14 638.49Z" fill="#ff00ff"/><path d="M242.33 651.42L247.20 648.64L247.20 654.20Z" fill="#ff00ff"/><path d="M247.39 666.08L252.26 663.30L252.26 668.86Z" fill="#ff00ff"/><path d="M252.45 679.18L257.32 676.40L257.32 681.96Z" fill="#ff00ff"/><path d="M257.51 690.48L262.37 687.70L262.37 693.26Z" fill="#ff00ff"/><path d="M262.57 699.98L267.43 697.20L267.43 702.76Z" fill="#ff00ff"/><path d="M267.63 707.80L272.49 705.02L272.49 710.58Z" fill="#ff00ff"/><path d="M272.69 714.15L277.55 711.38L277.55 716.93Z" fill="#ff00ff"/><path d="M277.75 719.27L282.61 716.49L282.61 722.04Z" fill="#ff00ff"/><path d="M282.81 723.34L287.67 720.57L287.67 726.12Z" fill="#ff00ff"/><path d="M287.87 726.59L292.73 723.81L292.73 729.37Z" fill="#ff00ff"/><path d="M292.92 729.15L297.79 726.37L297.79 731.93Z" fill="#ff00ff"/><path d="M297.98 731.17L302.85 728.40L302.85 733.95Z" fill="#ff00ff"/><path d="M303.04 732.77L307.91 729.99L307.91 735.55Z" fill="#ff00ff"/><path d="M308.10 734.02L312.97 731.25L312.97 736.80Z" fill="#ff00ff"/><path d="M313.16 735.01L318.03 732.23L318.03 737.79Z" fill="#ff00ff"/><path d="M318.22 735.79L323.08 733.01L323.08 738.57Z" fill="#ff00ff"/>
<path d="M52.6 524.7H341.4" stroke="#aaa" stroke-width="1.3" fill="none"/>
<path d="M341.4 524.0500000000001V754.9499999999999" stroke="#555" stroke-width="1.3" fill="none"/>
<path d="M52.6 524.0500000000001V754.3H342.04999999999995" stroke="#333" stroke-width="1.3" fill="none"/>
<text x="73.10" y="768.90" text-anchor="middle" font-size="10">-1</text>
<text x="114.42" y="768.90" text-anchor="middle" font-size="10">0</text>
<text x="155.73" y="768.90" text-anchor="middle" font-size="10">1</text>
<text x="197.05" y="768.90" text-anchor="middle" font-size="10">2</text>
<text x="238.37" y="768.90" text-anchor="middle" font-size="10">3</text>
<text x="279.68" y="768.90" text-anchor="middle" font-size="10">4</text>
<text x="321.00" y="768.90" text-anchor="middle" font-size="10">5</text>
<text x="45.20" y="742.00" text-anchor="end" font-size="10">0</text>
<text x="45.20" y="711.44" text-anchor="end" font-size="10">10</text>
<text x="45.20" y="680.89" text-anchor="end" font-size="10">20</text>
<text x="45.20" y="650.33" text-anchor="end" font-size="10">30</text>
<text x="45.20" y="619.77" text-anchor="end" font-size="10">40</text>
<text x="45.20" y="589.21" text-anchor="end" font-size="10">50</text>
<text x="45.20" y="558.66" text-anchor="end" font-size="10">60</text>
<text x="45.20" y="528.10" text-anchor="end" font-size="10">70</text>
<path d="M52.44 754.30V757.09M73.10 754.30V759.36M93.76 754.30V757.09M114.42 754.30V759.36M135.07 754.30V757.09M155.73 754.30V759.36M176.39 754.30V757.09M197.05 754.30V759.36M217.71 754.30V757.09M238.37 754.30V759.36M259.02 754.30V757.09M279.68 754.30V759.36M300.34 754.30V757.09M321.00 754.30V759.36M341.66 754.30V757.09M52.60 753.88H49.81M52.60 738.60H47.54M52.60 723.32H49.81M52.60 708.04H47.54M52.60 692.76H49.81M52.60 677.49H47.54M52.60 662.21H49.81M52.60 646.93H47.54M52.60 631.65H49.81M52.60 616.37H47.54M52.60 601.09H49.81M52.60 585.81H47.54M52.60 570.54H49.81M52.60 555.26H47.54M52.60 539.98H49.81M52.60 524.70H47.54" stroke="#333" stroke-width="1.1" fill="none"/>
<text x="198" y="786" text-anchor="middle" font-size="10.3">log f (Hz)</text>
<text transform="translate(25.9,647.2) rotate(-90)" text-anchor="middle" font-size="10.3">Phase Angle (θ)</text>
<text x="80.7" y="546.4" font-size="10.3">(c) DS3</text>
<path d="M264.10 606.80H272.17M280.33 606.80H288.40" stroke="#000000" stroke-width="0.8" opacity="0.75"/>
<rect x="273.63" y="604.18" width="5.24" height="5.24" fill="#000000"/>
<text x="291.40" y="610.47" font-size="10.5">Blank</text>
<path d="M264.10 619.70H272.17M280.33 619.70H288.40" stroke="#ff0000" stroke-width="0.8" opacity="0.75"/>
<circle cx="276.25" cy="619.70" r="2.88" fill="#ff0000"/>
<text x="291.40" y="623.37" font-size="10.5">1.00 mM</text>
<path d="M264.10 632.60H272.17M280.33 632.60H288.40" stroke="#00ff00" stroke-width="0.8" opacity="0.75"/>
<path d="M276.25 628.99L279.86 635.31L272.64 635.31Z" fill="#00ff00"/>
<text x="291.40" y="636.27" font-size="10.5">0.75 mM</text>
<path d="M264.10 645.50H272.17M280.33 645.50H288.40" stroke="#0000ff" stroke-width="0.8" opacity="0.75"/>
<path d="M276.25 649.11L279.86 642.79L272.64 642.79Z" fill="#0000ff"/>
<text x="291.40" y="649.17" font-size="10.5">0.50 mM</text>
<path d="M264.10 658.40H272.17M280.33 658.40H288.40" stroke="#808000" stroke-width="0.8" opacity="0.75"/>
<path d="M276.25 654.94L279.71 658.40L276.25 661.86L272.79 658.40Z" fill="#808000"/>
<text x="291.40" y="662.07" font-size="10.5">0.25 mM</text>
<path d="M264.10 671.30H272.17M280.33 671.30H288.40" stroke="#ff00ff" stroke-width="0.8" opacity="0.75"/>
<path d="M272.64 671.30L278.96 667.69L278.96 674.91Z" fill="#ff00ff"/>
<text x="291.40" y="674.97" font-size="10.5">0.10 mM</text>
<path d="M405.70 646.20 L410.79 646.21 L415.88 646.22 L420.96 646.23 L426.05 646.25 L431.14 646.26 L436.23 646.29 L441.31 646.32 L446.40 646.36 L451.49 646.41 L456.58 646.49 L461.67 646.58 L466.75 646.71 L471.84 646.88 L476.93 647.12 L482.02 647.45 L487.10 647.92 L492.19 648.56 L497.28 649.47 L502.37 650.74 L507.46 652.50 L512.54 654.89 L517.63 658.03 L522.72 662.00 L527.81 666.80 L532.89 672.32 L537.98 678.36 L543.07 684.68 L548.16 690.98 L553.24 696.98 L558.33 702.44 L563.42 707.16 L568.51 711.05 L573.60 714.12 L578.68 716.44 L583.77 718.15 L588.86 719.38 L593.95 720.26 L599.03 720.88 L604.12 721.33 L609.21 721.65 L614.30 721.88 L619.39 722.05 L624.47 722.18 L629.56 722.27 L634.65 722.34 L639.74 722.39 L644.82 722.43 L649.91 722.46 L655.00 722.49" fill="none" stroke="#000000" stroke-width="0.55"/>
<rect x="403.67" y="644.18" width="4.05" height="4.05" fill="#000000"/><rect x="408.76" y="644.19" width="4.05" height="4.05" fill="#000000"/><rect x="413.85" y="644.19" width="4.05" height="4.05" fill="#000000"/><rect x="418.94" y="644.21" width="4.05" height="4.05" fill="#000000"/><rect x="424.03" y="644.22" width="4.05" height="4.05" fill="#000000"/><rect x="429.11" y="644.24" width="4.05" height="4.05" fill="#000000"/><rect x="434.20" y="644.26" width="4.05" height="4.05" fill="#000000"/><rect x="439.29" y="644.29" width="4.05" height="4.05" fill="#000000"/><rect x="444.38" y="644.33" width="4.05" height="4.05" fill="#000000"/><rect x="449.46" y="644.39" width="4.05" height="4.05" fill="#000000"/><rect x="454.55" y="644.46" width="4.05" height="4.05" fill="#000000"/><rect x="459.64" y="644.56" width="4.05" height="4.05" fill="#000000"/><rect x="464.73" y="644.68" width="4.05" height="4.05" fill="#000000"/><rect x="469.82" y="644.86" width="4.05" height="4.05" fill="#000000"/><rect x="474.90" y="645.10" width="4.05" height="4.05" fill="#000000"/><rect x="479.99" y="645.43" width="4.05" height="4.05" fill="#000000"/><rect x="485.08" y="645.89" width="4.05" height="4.05" fill="#000000"/><rect x="490.17" y="646.54" width="4.05" height="4.05" fill="#000000"/><rect x="495.25" y="647.45" width="4.05" height="4.05" fill="#000000"/><rect x="500.34" y="648.72" width="4.05" height="4.05" fill="#000000"/><rect x="505.43" y="650.48" width="4.05" height="4.05" fill="#000000"/><rect x="510.52" y="652.87" width="4.05" height="4.05" fill="#000000"/><rect x="515.61" y="656.01" width="4.05" height="4.05" fill="#000000"/><rect x="520.69" y="659.98" width="4.05" height="4.05" fill="#000000"/><rect x="525.78" y="664.78" width="4.05" height="4.05" fill="#000000"/><rect x="530.87" y="670.29" width="4.05" height="4.05" fill="#000000"/><rect x="535.96" y="676.34" width="4.05" height="4.05" fill="#000000"/><rect x="541.04" y="682.65" width="4.05" height="4.05" fill="#000000"/><rect x="546.13" y="688.95" width="4.05" height="4.05" fill="#000000"/><rect x="551.22" y="694.96" width="4.05" height="4.05" fill="#000000"/><rect x="556.31" y="700.41" width="4.05" height="4.05" fill="#000000"/><rect x="561.39" y="705.13" width="4.05" height="4.05" fill="#000000"/><rect x="566.48" y="709.03" width="4.05" height="4.05" fill="#000000"/><rect x="571.57" y="712.09" width="4.05" height="4.05" fill="#000000"/><rect x="576.66" y="714.41" width="4.05" height="4.05" fill="#000000"/><rect x="581.75" y="716.12" width="4.05" height="4.05" fill="#000000"/><rect x="586.83" y="717.35" width="4.05" height="4.05" fill="#000000"/><rect x="591.92" y="718.23" width="4.05" height="4.05" fill="#000000"/><rect x="597.01" y="718.86" width="4.05" height="4.05" fill="#000000"/><rect x="602.10" y="719.31" width="4.05" height="4.05" fill="#000000"/><rect x="607.18" y="719.63" width="4.05" height="4.05" fill="#000000"/><rect x="612.27" y="719.86" width="4.05" height="4.05" fill="#000000"/><rect x="617.36" y="720.03" width="4.05" height="4.05" fill="#000000"/><rect x="622.45" y="720.15" width="4.05" height="4.05" fill="#000000"/><rect x="627.54" y="720.25" width="4.05" height="4.05" fill="#000000"/><rect x="632.62" y="720.32" width="4.05" height="4.05" fill="#000000"/><rect x="637.71" y="720.37" width="4.05" height="4.05" fill="#000000"/><rect x="642.80" y="720.41" width="4.05" height="4.05" fill="#000000"/><rect x="647.89" y="720.44" width="4.05" height="4.05" fill="#000000"/><rect x="652.97" y="720.46" width="4.05" height="4.05" fill="#000000"/>
<path d="M405.70 540.69 L410.79 540.84 L415.88 541.04 L420.96 541.30 L426.05 541.65 L431.14 542.13 L436.23 542.79 L441.31 543.69 L446.40 544.92 L451.49 546.59 L456.58 548.84 L461.67 551.79 L466.75 555.55 L471.84 560.20 L476.93 565.72 L482.02 572.04 L487.10 579.04 L492.19 586.59 L497.28 594.55 L502.37 602.81 L507.46 611.27 L512.54 619.85 L517.63 628.50 L522.72 637.15 L527.81 645.75 L532.89 654.24 L537.98 662.54 L543.07 670.56 L548.16 678.19 L553.24 685.30 L558.33 691.76 L563.42 697.43 L568.51 702.23 L573.60 706.15 L578.68 709.24 L583.77 711.61 L588.86 713.37 L593.95 714.67 L599.03 715.62 L604.12 716.32 L609.21 716.83 L614.30 717.20 L619.39 717.48 L624.47 717.68 L629.56 717.84 L634.65 717.96 L639.74 718.05 L644.82 718.12 L649.91 718.17 L655.00 718.21" fill="none" stroke="#ff0000" stroke-width="0.55"/>
<circle cx="405.70" cy="540.69" r="2.23" fill="#ff0000"/><circle cx="410.79" cy="540.84" r="2.23" fill="#ff0000"/><circle cx="415.88" cy="541.04" r="2.23" fill="#ff0000"/><circle cx="420.96" cy="541.30" r="2.23" fill="#ff0000"/><circle cx="426.05" cy="541.65" r="2.23" fill="#ff0000"/><circle cx="431.14" cy="542.13" r="2.23" fill="#ff0000"/><circle cx="436.23" cy="542.79" r="2.23" fill="#ff0000"/><circle cx="441.31" cy="543.69" r="2.23" fill="#ff0000"/><circle cx="446.40" cy="544.92" r="2.23" fill="#ff0000"/><circle cx="451.49" cy="546.59" r="2.23" fill="#ff0000"/><circle cx="456.58" cy="548.84" r="2.23" fill="#ff0000"/><circle cx="461.67" cy="551.79" r="2.23" fill="#ff0000"/><circle cx="466.75" cy="555.55" r="2.23" fill="#ff0000"/><circle cx="471.84" cy="560.20" r="2.23" fill="#ff0000"/><circle cx="476.93" cy="565.72" r="2.23" fill="#ff0000"/><circle cx="482.02" cy="572.04" r="2.23" fill="#ff0000"/><circle cx="487.10" cy="579.04" r="2.23" fill="#ff0000"/><circle cx="492.19" cy="586.59" r="2.23" fill="#ff0000"/><circle cx="497.28" cy="594.55" r="2.23" fill="#ff0000"/><circle cx="502.37" cy="602.81" r="2.23" fill="#ff0000"/><circle cx="507.46" cy="611.27" r="2.23" fill="#ff0000"/><circle cx="512.54" cy="619.85" r="2.23" fill="#ff0000"/><circle cx="517.63" cy="628.50" r="2.23" fill="#ff0000"/><circle cx="522.72" cy="637.15" r="2.23" fill="#ff0000"/><circle cx="527.81" cy="645.75" r="2.23" fill="#ff0000"/><circle cx="532.89" cy="654.24" r="2.23" fill="#ff0000"/><circle cx="537.98" cy="662.54" r="2.23" fill="#ff0000"/><circle cx="543.07" cy="670.56" r="2.23" fill="#ff0000"/><circle cx="548.16" cy="678.19" r="2.23" fill="#ff0000"/><circle cx="553.24" cy="685.30" r="2.23" fill="#ff0000"/><circle cx="558.33" cy="691.76" r="2.23" fill="#ff0000"/><circle cx="563.42" cy="697.43" r="2.23" fill="#ff0000"/><circle cx="568.51" cy="702.23" r="2.23" fill="#ff0000"/><circle cx="573.60" cy="706.15" r="2.23" fill="#ff0000"/><circle cx="578.68" cy="709.24" r="2.23" fill="#ff0000"/><circle cx="583.77" cy="711.61" r="2.23" fill="#ff0000"/><circle cx="588.86" cy="713.37" r="2.23" fill="#ff0000"/><circle cx="593.95" cy="714.67" r="2.23" fill="#ff0000"/><circle cx="599.03" cy="715.62" r="2.23" fill="#ff0000"/><circle cx="604.12" cy="716.32" r="2.23" fill="#ff0000"/><circle cx="609.21" cy="716.83" r="2.23" fill="#ff0000"/><circle cx="614.30" cy="717.20" r="2.23" fill="#ff0000"/><circle cx="619.39" cy="717.48" r="2.23" fill="#ff0000"/><circle cx="624.47" cy="717.68" r="2.23" fill="#ff0000"/><circle cx="629.56" cy="717.84" r="2.23" fill="#ff0000"/><circle cx="634.65" cy="717.96" r="2.23" fill="#ff0000"/><circle cx="639.74" cy="718.05" r="2.23" fill="#ff0000"/><circle cx="644.82" cy="718.12" r="2.23" fill="#ff0000"/><circle cx="649.91" cy="718.17" r="2.23" fill="#ff0000"/><circle cx="655.00" cy="718.21" r="2.23" fill="#ff0000"/>
<path d="M405.70 561.86 L410.79 561.93 L415.88 562.02 L420.96 562.15 L426.05 562.32 L431.14 562.55 L436.23 562.86 L441.31 563.29 L446.40 563.90 L451.49 564.74 L456.58 565.91 L461.67 567.54 L466.75 569.77 L471.84 572.75 L476.93 576.61 L482.02 581.41 L487.10 587.15 L492.19 593.73 L497.28 601.02 L502.37 608.87 L507.46 617.11 L512.54 625.62 L517.63 634.30 L522.72 643.06 L527.81 651.83 L532.89 660.52 L537.98 669.04 L543.07 677.31 L548.16 685.18 L553.24 692.51 L558.33 699.14 L563.42 704.94 L568.51 709.80 L573.60 713.72 L578.68 716.75 L583.77 719.02 L588.86 720.69 L593.95 721.89 L599.03 722.75 L604.12 723.36 L609.21 723.80 L614.30 724.12 L619.39 724.36 L624.47 724.53 L629.56 724.66 L634.65 724.76 L639.74 724.83 L644.82 724.88 L649.91 724.93 L655.00 724.96" fill="none" stroke="#00ff00" stroke-width="0.55"/>
<path d="M405.70 559.06L408.50 563.95L402.90 563.95Z" fill="#00ff00"/><path d="M410.79 559.13L413.58 564.02L407.99 564.02Z" fill="#00ff00"/><path d="M415.88 559.23L418.67 564.12L413.08 564.12Z" fill="#00ff00"/><path d="M420.96 559.35L423.76 564.24L418.17 564.24Z" fill="#00ff00"/><path d="M426.05 559.52L428.85 564.41L423.26 564.41Z" fill="#00ff00"/><path d="M431.14 559.75L433.93 564.64L428.34 564.64Z" fill="#00ff00"/><path d="M436.23 560.07L439.02 564.96L433.43 564.96Z" fill="#00ff00"/><path d="M441.31 560.50L444.11 565.39L438.52 565.39Z" fill="#00ff00"/><path d="M446.40 561.10L449.20 565.99L443.61 565.99Z" fill="#00ff00"/><path d="M451.49 561.94L454.29 566.84L448.69 566.84Z" fill="#00ff00"/><path d="M456.58 563.12L459.37 568.01L453.78 568.01Z" fill="#00ff00"/><path d="M461.67 564.75L464.46 569.64L458.87 569.64Z" fill="#00ff00"/><path d="M466.75 566.98L469.55 571.87L463.96 571.87Z" fill="#00ff00"/><path d="M471.84 569.96L474.64 574.85L469.05 574.85Z" fill="#00ff00"/><path d="M476.93 573.81L479.72 578.70L474.13 578.70Z" fill="#00ff00"/><path d="M482.02 578.61L484.81 583.51L479.22 583.51Z" fill="#00ff00"/><path d="M487.10 584.35L489.90 589.24L484.31 589.24Z" fill="#00ff00"/><path d="M492.19 590.94L494.99 595.83L489.40 595.83Z" fill="#00ff00"/><path d="M497.28 598.23L500.07 603.12L494.48 603.12Z" fill="#00ff00"/><path d="M502.37 606.07L505.16 610.96L499.57 610.96Z" fill="#00ff00"/><path d="M507.46 614.31L510.25 619.20L504.66 619.20Z" fill="#00ff00"/><path d="M512.54 622.82L515.34 627.72L509.75 627.72Z" fill="#00ff00"/><path d="M517.63 631.51L520.43 636.40L514.84 636.40Z" fill="#00ff00"/><path d="M522.72 640.27L525.51 645.16L519.92 645.16Z" fill="#00ff00"/><path d="M527.81 649.03L530.60 653.92L525.01 653.92Z" fill="#00ff00"/><path d="M532.89 657.72L535.69 662.61L530.10 662.61Z" fill="#00ff00"/><path d="M537.98 666.25L540.78 671.14L535.19 671.14Z" fill="#00ff00"/><path d="M543.07 674.51L545.86 679.40L540.27 679.40Z" fill="#00ff00"/><path d="M548.16 682.38L550.95 687.27L545.36 687.27Z" fill="#00ff00"/><path d="M553.24 689.71L556.04 694.61L550.45 694.61Z" fill="#00ff00"/><path d="M558.33 696.35L561.13 701.24L555.54 701.24Z" fill="#00ff00"/><path d="M563.42 702.14L566.22 707.04L560.63 707.04Z" fill="#00ff00"/><path d="M568.51 707.01L571.30 711.90L565.71 711.90Z" fill="#00ff00"/><path d="M573.60 710.92L576.39 715.81L570.80 715.81Z" fill="#00ff00"/><path d="M578.68 713.95L581.48 718.85L575.89 718.85Z" fill="#00ff00"/><path d="M583.77 716.23L586.57 721.12L580.98 721.12Z" fill="#00ff00"/><path d="M588.86 717.89L591.65 722.78L586.06 722.78Z" fill="#00ff00"/><path d="M593.95 719.09L596.74 723.98L591.15 723.98Z" fill="#00ff00"/><path d="M599.03 719.95L601.83 724.84L596.24 724.84Z" fill="#00ff00"/><path d="M604.12 720.57L606.92 725.46L601.33 725.46Z" fill="#00ff00"/><path d="M609.21 721.01L612.01 725.90L606.41 725.90Z" fill="#00ff00"/><path d="M614.30 721.33L617.09 726.22L611.50 726.22Z" fill="#00ff00"/><path d="M619.39 721.56L622.18 726.46L616.59 726.46Z" fill="#00ff00"/><path d="M624.47 721.74L627.27 726.63L621.68 726.63Z" fill="#00ff00"/><path d="M629.56 721.86L632.36 726.76L626.77 726.76Z" fill="#00ff00"/><path d="M634.65 721.96L637.44 726.85L631.85 726.85Z" fill="#00ff00"/><path d="M639.74 722.03L642.53 726.92L636.94 726.92Z" fill="#00ff00"/><path d="M644.82 722.09L647.62 726.98L642.03 726.98Z" fill="#00ff00"/><path d="M649.91 722.13L652.71 727.02L647.12 727.02Z" fill="#00ff00"/><path d="M655.00 722.16L657.80 727.05L652.20 727.05Z" fill="#00ff00"/>
<path d="M405.70 577.75 L410.79 577.80 L415.88 577.85 L420.96 577.93 L426.05 578.02 L431.14 578.15 L436.23 578.33 L441.31 578.56 L446.40 578.89 L451.49 579.33 L456.58 579.94 L461.67 580.80 L466.75 581.99 L471.84 583.64 L476.93 585.89 L482.02 588.89 L487.10 592.75 L492.19 597.56 L497.28 603.28 L502.37 609.84 L507.46 617.09 L512.54 624.89 L517.63 633.07 L522.72 641.51 L527.81 650.11 L532.89 658.77 L537.98 667.41 L543.07 675.93 L548.16 684.24 L553.24 692.22 L558.33 699.73 L563.42 706.62 L568.51 712.72 L573.60 717.94 L578.68 722.21 L583.77 725.58 L588.86 728.14 L593.95 730.03 L599.03 731.41 L604.12 732.40 L609.21 733.11 L614.30 733.62 L619.39 733.99 L624.47 734.26 L629.56 734.46 L634.65 734.61 L639.74 734.72 L644.82 734.80 L649.91 734.86 L655.00 734.91" fill="none" stroke="#0000ff" stroke-width="0.55"/>
<path d="M405.70 580.55L408.50 575.66L402.90 575.66Z" fill="#0000ff"/><path d="M410.79 580.59L413.58 575.70L407.99 575.70Z" fill="#0000ff"/><path d="M415.88 580.65L418.67 575.76L413.08 575.76Z" fill="#0000ff"/><path d="M420.96 580.72L423.76 575.83L418.17 575.83Z" fill="#0000ff"/><path d="M426.05 580.82L428.85 575.93L423.26 575.93Z" fill="#0000ff"/><path d="M431.14 580.95L433.93 576.06L428.34 576.06Z" fill="#0000ff"/><path d="M436.23 581.12L439.02 576.23L433.43 576.23Z" fill="#0000ff"/><path d="M441.31 581.36L444.11 576.47L438.52 576.47Z" fill="#0000ff"/><path d="M446.40 581.68L449.20 576.79L443.61 576.79Z" fill="#0000ff"/><path d="M451.49 582.12L454.29 577.23L448.69 577.23Z" fill="#0000ff"/><path d="M456.58 582.74L459.37 577.85L453.78 577.85Z" fill="#0000ff"/><path d="M461.67 583.60L464.46 578.70L458.87 578.70Z" fill="#0000ff"/><path d="M466.75 584.79L469.55 579.90L463.96 579.90Z" fill="#0000ff"/><path d="M471.84 586.44L474.64 581.55L469.05 581.55Z" fill="#0000ff"/><path d="M476.93 588.69L479.72 583.79L474.13 583.79Z" fill="#0000ff"/><path d="M482.02 591.68L484.81 586.79L479.22 586.79Z" fill="#0000ff"/><path d="M487.10 595.55L489.90 590.66L484.31 590.66Z" fill="#0000ff"/><path d="M492.19 600.35L494.99 595.46L489.40 595.46Z" fill="#0000ff"/><path d="M497.28 606.08L500.07 601.18L494.48 601.18Z" fill="#0000ff"/><path d="M502.37 612.64L505.16 607.74L499.57 607.74Z" fill="#0000ff"/><path d="M507.46 619.89L510.25 615.00L504.66 615.00Z" fill="#0000ff"/><path d="M512.54 627.68L515.34 622.79L509.75 622.79Z" fill="#0000ff"/><path d="M517.63 635.86L520.43 630.97L514.84 630.97Z" fill="#0000ff"/><path d="M522.72 644.31L525.51 639.42L519.92 639.42Z" fill="#0000ff"/><path d="M527.81 652.91L530.60 648.01L525.01 648.01Z" fill="#0000ff"/><path d="M532.89 661.57L535.69 656.67L530.10 656.67Z" fill="#0000ff"/><path d="M537.98 670.20L540.78 665.31L535.19 665.31Z" fill="#0000ff"/><path d="M543.07 678.72L545.86 673.83L540.27 673.83Z" fill="#0000ff"/><path d="M548.16 687.04L550.95 682.14L545.36 682.14Z" fill="#0000ff"/><path d="M553.24 695.02L556.04 690.13L550.45 690.13Z" fill="#0000ff"/><path d="M558.33 702.53L561.13 697.64L555.54 697.64Z" fill="#0000ff"/><path d="M563.42 709.41L566.22 704.52L560.63 704.52Z" fill="#0000ff"/><path d="M568.51 715.52L571.30 710.63L565.71 710.63Z" fill="#0000ff"/><path d="M573.60 720.73L576.39 715.84L570.80 715.84Z" fill="#0000ff"/><path d="M578.68 725.01L581.48 720.11L575.89 720.11Z" fill="#0000ff"/><path d="M583.77 728.37L586.57 723.48L580.98 723.48Z" fill="#0000ff"/><path d="M588.86 730.93L591.65 726.04L586.06 726.04Z" fill="#0000ff"/><path d="M593.95 732.82L596.74 727.93L591.15 727.93Z" fill="#0000ff"/><path d="M599.03 734.20L601.83 729.31L596.24 729.31Z" fill="#0000ff"/><path d="M604.12 735.19L606.92 730.30L601.33 730.30Z" fill="#0000ff"/><path d="M609.21 735.90L612.01 731.01L606.41 731.01Z" fill="#0000ff"/><path d="M614.30 736.42L617.09 731.52L611.50 731.52Z" fill="#0000ff"/><path d="M619.39 736.79L622.18 731.89L616.59 731.89Z" fill="#0000ff"/><path d="M624.47 737.06L627.27 732.16L621.68 732.16Z" fill="#0000ff"/><path d="M629.56 737.25L632.36 732.36L626.77 732.36Z" fill="#0000ff"/><path d="M634.65 737.40L637.44 732.51L631.85 732.51Z" fill="#0000ff"/><path d="M639.74 737.51L642.53 732.62L636.94 732.62Z" fill="#0000ff"/><path d="M644.82 737.60L647.62 732.70L642.03 732.70Z" fill="#0000ff"/><path d="M649.91 737.66L652.71 732.77L647.12 732.77Z" fill="#0000ff"/><path d="M655.00 737.71L657.80 732.82L652.20 732.82Z" fill="#0000ff"/>
<path d="M405.70 578.49 L410.79 578.53 L415.88 578.59 L420.96 578.66 L426.05 578.75 L431.14 578.88 L436.23 579.04 L441.31 579.26 L446.40 579.56 L451.49 579.97 L456.58 580.53 L461.67 581.30 L466.75 582.37 L471.84 583.84 L476.93 585.84 L482.02 588.51 L487.10 591.98 L492.19 596.34 L497.28 601.61 L502.37 607.73 L507.46 614.58 L512.54 622.03 L517.63 629.91 L522.72 638.09 L527.81 646.46 L532.89 654.92 L537.98 663.36 L543.07 671.70 L548.16 679.84 L553.24 687.64 L558.33 694.98 L563.42 701.70 L568.51 707.66 L573.60 712.75 L578.68 716.93 L583.77 720.23 L588.86 722.76 L593.95 724.65 L599.03 726.03 L604.12 727.03 L609.21 727.75 L614.30 728.28 L619.39 728.66 L624.47 728.94 L629.56 729.15 L634.65 729.31 L639.74 729.42 L644.82 729.51 L649.91 729.58 L655.00 729.63" fill="none" stroke="#808000" stroke-width="0.55"/>
<path d="M405.70 575.82L408.37 578.49L405.70 581.16L403.03 578.49Z" fill="#808000"/><path d="M410.79 575.86L413.46 578.53L410.79 581.21L408.11 578.53Z" fill="#808000"/><path d="M415.88 575.91L418.55 578.59L415.88 581.26L413.20 578.59Z" fill="#808000"/><path d="M420.96 575.98L423.64 578.66L420.96 581.33L418.29 578.66Z" fill="#808000"/><path d="M426.05 576.08L428.72 578.75L426.05 581.43L423.38 578.75Z" fill="#808000"/><path d="M431.14 576.20L433.81 578.88L431.14 581.55L428.47 578.88Z" fill="#808000"/><path d="M436.23 576.37L438.90 579.04L436.23 581.71L433.55 579.04Z" fill="#808000"/><path d="M441.31 576.59L443.99 579.26L441.31 581.93L438.64 579.26Z" fill="#808000"/><path d="M446.40 576.89L449.08 579.56L446.40 582.23L443.73 579.56Z" fill="#808000"/><path d="M451.49 577.29L454.16 579.97L451.49 582.64L448.82 579.97Z" fill="#808000"/><path d="M456.58 577.85L459.25 580.53L456.58 583.20L453.90 580.53Z" fill="#808000"/><path d="M461.67 578.63L464.34 581.30L461.67 583.97L458.99 581.30Z" fill="#808000"/><path d="M466.75 579.69L469.43 582.37L466.75 585.04L464.08 582.37Z" fill="#808000"/><path d="M471.84 581.16L474.51 583.84L471.84 586.51L469.17 583.84Z" fill="#808000"/><path d="M476.93 583.16L479.60 585.84L476.93 588.51L474.25 585.84Z" fill="#808000"/><path d="M482.02 585.83L484.69 588.51L482.02 591.18L479.34 588.51Z" fill="#808000"/><path d="M487.10 589.31L489.78 591.98L487.10 594.66L484.43 591.98Z" fill="#808000"/><path d="M492.19 593.67L494.87 596.34L492.19 599.02L489.52 596.34Z" fill="#808000"/><path d="M497.28 598.94L499.95 601.61L497.28 604.28L494.61 601.61Z" fill="#808000"/><path d="M502.37 605.06L505.04 607.73L502.37 610.40L499.69 607.73Z" fill="#808000"/><path d="M507.46 611.91L510.13 614.58L507.46 617.26L504.78 614.58Z" fill="#808000"/><path d="M512.54 619.35L515.22 622.03L512.54 624.70L509.87 622.03Z" fill="#808000"/><path d="M517.63 627.23L520.30 629.91L517.63 632.58L514.96 629.91Z" fill="#808000"/><path d="M522.72 635.42L525.39 638.09L522.72 640.76L520.04 638.09Z" fill="#808000"/><path d="M527.81 643.79L530.48 646.46L527.81 649.13L525.13 646.46Z" fill="#808000"/><path d="M532.89 652.24L535.57 654.92L532.89 657.59L530.22 654.92Z" fill="#808000"/><path d="M537.98 660.69L540.66 663.36L537.98 666.03L535.31 663.36Z" fill="#808000"/><path d="M543.07 669.03L545.74 671.70L543.07 674.38L540.40 671.70Z" fill="#808000"/><path d="M548.16 677.16L550.83 679.84L548.16 682.51L545.48 679.84Z" fill="#808000"/><path d="M553.24 684.97L555.92 687.64L553.24 690.31L550.57 687.64Z" fill="#808000"/><path d="M558.33 692.30L561.01 694.98L558.33 697.65L555.66 694.98Z" fill="#808000"/><path d="M563.42 699.02L566.09 701.70L563.42 704.37L560.75 701.70Z" fill="#808000"/><path d="M568.51 704.98L571.18 707.66L568.51 710.33L565.83 707.66Z" fill="#808000"/><path d="M573.60 710.07L576.27 712.75L573.60 715.42L570.92 712.75Z" fill="#808000"/><path d="M578.68 714.26L581.36 716.93L578.68 719.60L576.01 716.93Z" fill="#808000"/><path d="M583.77 717.56L586.45 720.23L583.77 722.91L581.10 720.23Z" fill="#808000"/><path d="M588.86 720.09L591.53 722.76L588.86 725.44L586.19 722.76Z" fill="#808000"/><path d="M593.95 721.97L596.62 724.65L593.95 727.32L591.27 724.65Z" fill="#808000"/><path d="M599.03 723.35L601.71 726.03L599.03 728.70L596.36 726.03Z" fill="#808000"/><path d="M604.12 724.35L606.80 727.03L604.12 729.70L601.45 727.03Z" fill="#808000"/><path d="M609.21 725.08L611.88 727.75L609.21 730.43L606.54 727.75Z" fill="#808000"/><path d="M614.30 725.60L616.97 728.28L614.30 730.95L611.62 728.28Z" fill="#808000"/><path d="M619.39 725.99L622.06 728.66L619.39 731.33L616.71 728.66Z" fill="#808000"/><path d="M624.47 726.27L627.15 728.94L624.47 731.62L621.80 728.94Z" fill="#808000"/><path d="M629.56 726.48L632.23 729.15L629.56 731.82L626.89 729.15Z" fill="#808000"/><path d="M634.65 726.63L637.32 729.31L634.65 731.98L631.98 729.31Z" fill="#808000"/><path d="M639.74 726.75L642.41 729.42L639.74 732.10L637.06 729.42Z" fill="#808000"/><path d="M644.82 726.84L647.50 729.51L644.82 732.19L642.15 729.51Z" fill="#808000"/><path d="M649.91 726.91L652.59 729.58L649.91 732.25L647.24 729.58Z" fill="#808000"/><path d="M655.00 726.96L657.67 729.63L655.00 732.30L652.33 729.63Z" fill="#808000"/>
<path d="M405.70 600.17 L410.79 600.20 L415.88 600.23 L420.96 600.28 L426.05 600.34 L431.14 600.42 L436.23 600.53 L441.31 600.68 L446.40 600.87 L451.49 601.13 L456.58 601.48 L461.67 601.97 L466.75 602.65 L471.84 603.59 L476.93 604.89 L482.02 606.68 L487.10 609.10 L492.19 612.29 L497.28 616.35 L502.37 621.33 L507.46 627.19 L512.54 633.82 L517.63 641.08 L522.72 648.81 L527.81 656.84 L532.89 665.03 L537.98 673.26 L543.07 681.40 L548.16 689.32 L553.24 696.86 L558.33 703.87 L563.42 710.19 L568.51 715.68 L573.60 720.26 L578.68 723.94 L583.77 726.78 L588.86 728.90 L593.95 730.47 L599.03 731.60 L604.12 732.41 L609.21 733.00 L614.30 733.43 L619.39 733.74 L624.47 733.96 L629.56 734.13 L634.65 734.26 L639.74 734.36 L644.82 734.43 L649.91 734.48 L655.00 734.52" fill="none" stroke="#ff00ff" stroke-width="0.55"/>
<path d="M402.90 600.17L407.80 597.37L407.80 602.97Z" fill="#ff00ff"/><path d="M407.99 600.20L412.88 597.40L412.88 602.99Z" fill="#ff00ff"/><path d="M413.08 600.23L417.97 597.44L417.97 603.03Z" fill="#ff00ff"/><path d="M418.17 600.28L423.06 597.49L423.06 603.08Z" fill="#ff00ff"/><path d="M423.26 600.34L428.15 597.55L428.15 603.14Z" fill="#ff00ff"/><path d="M428.34 600.42L433.24 597.63L433.24 603.22Z" fill="#ff00ff"/><path d="M433.43 600.53L438.32 597.74L438.32 603.33Z" fill="#ff00ff"/><path d="M438.52 600.68L443.41 597.88L443.41 603.47Z" fill="#ff00ff"/><path d="M443.61 600.87L448.50 598.07L448.50 603.66Z" fill="#ff00ff"/><path d="M448.69 601.13L453.59 598.33L453.59 603.92Z" fill="#ff00ff"/><path d="M453.78 601.48L458.67 598.69L458.67 604.28Z" fill="#ff00ff"/><path d="M458.87 601.97L463.76 599.18L463.76 604.77Z" fill="#ff00ff"/><path d="M463.96 602.65L468.85 599.85L468.85 605.44Z" fill="#ff00ff"/><path d="M469.05 603.59L473.94 600.79L473.94 606.38Z" fill="#ff00ff"/><path d="M474.13 604.89L479.03 602.10L479.03 607.69Z" fill="#ff00ff"/><path d="M479.22 606.68L484.11 603.89L484.11 609.48Z" fill="#ff00ff"/><path d="M484.31 609.10L489.20 606.30L489.20 611.89Z" fill="#ff00ff"/><path d="M489.40 612.29L494.29 609.49L494.29 615.08Z" fill="#ff00ff"/><path d="M494.48 616.35L499.38 613.55L499.38 619.14Z" fill="#ff00ff"/><path d="M499.57 621.33L504.46 618.53L504.46 624.12Z" fill="#ff00ff"/><path d="M504.66 627.19L509.55 624.39L509.55 629.98Z" fill="#ff00ff"/><path d="M509.75 633.82L514.64 631.03L514.64 636.62Z" fill="#ff00ff"/><path d="M514.84 641.08L519.73 638.29L519.73 643.88Z" fill="#ff00ff"/><path d="M519.92 648.81L524.81 646.01L524.81 651.60Z" fill="#ff00ff"/><path d="M525.01 656.84L529.90 654.04L529.90 659.63Z" fill="#ff00ff"/><path d="M530.10 665.03L534.99 662.24L534.99 667.83Z" fill="#ff00ff"/><path d="M535.19 673.26L540.08 670.47L540.08 676.06Z" fill="#ff00ff"/><path d="M540.27 681.40L545.17 678.61L545.17 684.20Z" fill="#ff00ff"/><path d="M545.36 689.32L550.25 686.53L550.25 692.12Z" fill="#ff00ff"/><path d="M550.45 696.86L555.34 694.07L555.34 699.66Z" fill="#ff00ff"/><path d="M555.54 703.87L560.43 701.08L560.43 706.67Z" fill="#ff00ff"/><path d="M560.63 710.19L565.52 707.40L565.52 712.99Z" fill="#ff00ff"/><path d="M565.71 715.68L570.60 712.88L570.60 718.47Z" fill="#ff00ff"/><path d="M570.80 720.26L575.69 717.47L575.69 723.06Z" fill="#ff00ff"/><path d="M575.89 723.94L580.78 721.14L580.78 726.73Z" fill="#ff00ff"/><path d="M580.98 726.78L585.87 723.98L585.87 729.57Z" fill="#ff00ff"/><path d="M586.06 728.90L590.96 726.11L590.96 731.70Z" fill="#ff00ff"/><path d="M591.15 730.47L596.04 727.67L596.04 733.26Z" fill="#ff00ff"/><path d="M596.24 731.60L601.13 728.80L601.13 734.39Z" fill="#ff00ff"/><path d="M601.33 732.41L606.22 729.62L606.22 735.21Z" fill="#ff00ff"/><path d="M606.41 733.00L611.31 730.21L611.31 735.80Z" fill="#ff00ff"/><path d="M611.50 733.43L616.39 730.63L616.39 736.22Z" fill="#ff00ff"/><path d="M616.59 733.74L621.48 730.94L621.48 736.53Z" fill="#ff00ff"/><path d="M621.68 733.96L626.57 731.17L626.57 736.76Z" fill="#ff00ff"/><path d="M626.77 734.13L631.66 731.34L631.66 736.93Z" fill="#ff00ff"/><path d="M631.85 734.26L636.75 731.46L636.75 737.06Z" fill="#ff00ff"/><path d="M636.94 734.36L641.83 731.56L641.83 737.15Z" fill="#ff00ff"/><path d="M642.03 734.43L646.92 731.63L646.92 737.22Z" fill="#ff00ff"/><path d="M647.12 734.48L652.01 731.69L652.01 737.28Z" fill="#ff00ff"/><path d="M652.20 734.52L657.10 731.73L657.10 737.32Z" fill="#ff00ff"/>
<path d="M385 522.6H675.7" stroke="#555" stroke-width="1.3" fill="none"/>
<path d="M675.7 521.95V754.25" stroke="#666" stroke-width="1.3" fill="none"/>
<path d="M385 521.95V753.6H676.35" stroke="#333" stroke-width="1.3" fill="none"/>
<text x="405.70" y="768.20" text-anchor="middle" font-size="10">-1</text>
<text x="447.25" y="768.20" text-anchor="middle" font-size="10">0</text>
<text x="488.80" y="768.20" text-anchor="middle" font-size="10">1</text>
<text x="530.35" y="768.20" text-anchor="middle" font-size="10">2</text>
<text x="571.90" y="768.20" text-anchor="middle" font-size="10">3</text>
<text x="613.45" y="768.20" text-anchor="middle" font-size="10">4</text>
<text x="655.00" y="768.20" text-anchor="middle" font-size="10">5</text>
<text x="377.40" y="747.70" text-anchor="end" font-size="10">0.3</text>
<text x="377.40" y="721.09" text-anchor="end" font-size="10">0.6</text>
<text x="377.40" y="694.47" text-anchor="end" font-size="10">0.9</text>
<text x="377.40" y="667.86" text-anchor="end" font-size="10">1.2</text>
<text x="377.40" y="641.25" text-anchor="end" font-size="10">1.5</text>
<text x="377.40" y="614.64" text-anchor="end" font-size="10">1.8</text>
<text x="377.40" y="588.02" text-anchor="end" font-size="10">2.1</text>
<text x="377.40" y="561.41" text-anchor="end" font-size="10">2.4</text>
<text x="377.40" y="534.80" text-anchor="end" font-size="10">2.7</text>
<path d="M384.93 753.60V756.40M405.70 753.60V758.69M426.47 753.60V756.40M447.25 753.60V758.69M468.02 753.60V756.40M488.80 753.60V758.69M509.57 753.60V756.40M530.35 753.60V758.69M551.12 753.60V756.40M571.90 753.60V758.69M592.67 753.60V756.40M613.45 753.60V758.69M634.23 753.60V756.40M655.00 753.60V758.69M675.77 753.60V756.40M385.00 744.30H379.91M385.00 730.99H382.20M385.00 717.69H379.91M385.00 704.38H382.20M385.00 691.07H379.91M385.00 677.77H382.20M385.00 664.46H379.91M385.00 651.16H382.20M385.00 637.85H379.91M385.00 624.54H382.20M385.00 611.24H379.91M385.00 597.93H382.20M385.00 584.62H379.91M385.00 571.32H382.20M385.00 558.01H379.91M385.00 544.71H382.20M385.00 531.40H379.91" stroke="#333" stroke-width="1.1" fill="none"/>
<text x="530.3" y="784.5" text-anchor="middle" font-size="10.3">log f (Hz)</text>
<text transform="translate(356.6,646.6) rotate(-90)" text-anchor="middle" font-size="10.5">log Z (Ω cm<tspan dy="-4" font-size="7">2</tspan><tspan dy="4">)</tspan></text>
<text x="513" y="546.7" font-size="10.4">(c) DS3</text>
<path d="M586.20 592.30H594.40M602.60 592.30H610.80" stroke="#000000" stroke-width="0.8" opacity="0.75"/>
<rect x="595.87" y="589.67" width="5.27" height="5.27" fill="#000000"/>
<text x="614.10" y="595.97" font-size="10.5">Blank</text>
<path d="M586.20 605.24H594.40M602.60 605.24H610.80" stroke="#ff0000" stroke-width="0.8" opacity="0.75"/>
<circle cx="598.50" cy="605.24" r="2.90" fill="#ff0000"/>
<text x="614.10" y="608.91" font-size="10.5">1.00 mM</text>
<path d="M586.20 618.18H594.40M602.60 618.18H610.80" stroke="#00ff00" stroke-width="0.8" opacity="0.75"/>
<path d="M598.50 614.55L602.13 620.91L594.87 620.91Z" fill="#00ff00"/>
<text x="614.10" y="621.85" font-size="10.5">0.75 mM</text>
<path d="M586.20 631.12H594.40M602.60 631.12H610.80" stroke="#0000ff" stroke-width="0.8" opacity="0.75"/>
<path d="M598.50 634.75L602.13 628.39L594.87 628.39Z" fill="#0000ff"/>
<text x="614.10" y="634.79" font-size="10.5">0.50 mM</text>
<path d="M586.20 644.06H594.40M602.60 644.06H610.80" stroke="#808000" stroke-width="0.8" opacity="0.75"/>
<path d="M598.50 640.58L601.98 644.06L598.50 647.54L595.02 644.06Z" fill="#808000"/>
<text x="614.10" y="647.73" font-size="10.5">0.25 mM</text>
<path d="M586.20 657.00H594.40M602.60 657.00H610.80" stroke="#ff00ff" stroke-width="0.8" opacity="0.75"/>
<path d="M594.87 657.00L601.23 653.37L601.23 660.63Z" fill="#ff00ff"/>
<text x="614.10" y="660.67" font-size="10.5">0.10 mM</text>
<path d="M57.10 1023.34 L62.43 1023.15 L67.76 1022.91 L73.09 1022.61 L78.42 1022.22 L83.75 1021.73 L89.08 1021.10 L94.41 1020.30 L99.74 1019.27 L105.08 1017.96 L110.41 1016.29 L115.74 1014.17 L121.07 1011.48 L126.40 1008.07 L131.73 1003.78 L137.06 998.39 L142.39 991.69 L147.72 983.44 L153.05 973.43 L158.38 961.56 L163.71 947.90 L169.04 932.82 L174.37 917.07 L179.70 901.75 L185.03 888.17 L190.37 877.62 L195.70 871.14 L201.03 869.35 L206.36 872.42 L211.69 880.06 L217.02 891.52 L222.35 905.69 L227.68 921.25 L233.01 936.91 L238.34 951.67 L243.67 964.88 L249.00 976.25 L254.33 985.78 L259.66 993.61 L264.99 999.94 L270.32 1005.01 L275.66 1009.05 L280.99 1012.26 L286.32 1014.78 L291.65 1016.77 L296.98 1018.34 L302.31 1019.56 L307.64 1020.53 L312.97 1021.28 L318.30 1021.87" fill="none" stroke="#000000" stroke-width="0.55"/>
<rect x="54.98" y="1021.21" width="4.24" height="4.24" fill="#000000"/><rect x="60.31" y="1021.03" width="4.24" height="4.24" fill="#000000"/><rect x="65.64" y="1020.79" width="4.24" height="4.24" fill="#000000"/><rect x="70.97" y="1020.49" width="4.24" height="4.24" fill="#000000"/><rect x="76.30" y="1020.10" width="4.24" height="4.24" fill="#000000"/><rect x="81.63" y="1019.61" width="4.24" height="4.24" fill="#000000"/><rect x="86.96" y="1018.98" width="4.24" height="4.24" fill="#000000"/><rect x="92.29" y="1018.17" width="4.24" height="4.24" fill="#000000"/><rect x="97.62" y="1017.15" width="4.24" height="4.24" fill="#000000"/><rect x="102.95" y="1015.84" width="4.24" height="4.24" fill="#000000"/><rect x="108.28" y="1014.17" width="4.24" height="4.24" fill="#000000"/><rect x="113.61" y="1012.05" width="4.24" height="4.24" fill="#000000"/><rect x="118.95" y="1009.36" width="4.24" height="4.24" fill="#000000"/><rect x="124.28" y="1005.95" width="4.24" height="4.24" fill="#000000"/><rect x="129.61" y="1001.66" width="4.24" height="4.24" fill="#000000"/><rect x="134.94" y="996.27" width="4.24" height="4.24" fill="#000000"/><rect x="140.27" y="989.57" width="4.24" height="4.24" fill="#000000"/><rect x="145.60" y="981.31" width="4.24" height="4.24" fill="#000000"/><rect x="150.93" y="971.30" width="4.24" height="4.24" fill="#000000"/><rect x="156.26" y="959.43" width="4.24" height="4.24" fill="#000000"/><rect x="161.59" y="945.77" width="4.24" height="4.24" fill="#000000"/><rect x="166.92" y="930.70" width="4.24" height="4.24" fill="#000000"/><rect x="172.25" y="914.95" width="4.24" height="4.24" fill="#000000"/><rect x="177.58" y="899.62" width="4.24" height="4.24" fill="#000000"/><rect x="182.91" y="886.05" width="4.24" height="4.24" fill="#000000"/><rect x="188.24" y="875.50" width="4.24" height="4.24" fill="#000000"/><rect x="193.57" y="869.02" width="4.24" height="4.24" fill="#000000"/><rect x="198.90" y="867.23" width="4.24" height="4.24" fill="#000000"/><rect x="204.23" y="870.30" width="4.24" height="4.24" fill="#000000"/><rect x="209.57" y="877.93" width="4.24" height="4.24" fill="#000000"/><rect x="214.90" y="889.39" width="4.24" height="4.24" fill="#000000"/><rect x="220.23" y="903.56" width="4.24" height="4.24" fill="#000000"/><rect x="225.56" y="919.12" width="4.24" height="4.24" fill="#000000"/><rect x="230.89" y="934.79" width="4.24" height="4.24" fill="#000000"/><rect x="236.22" y="949.55" width="4.24" height="4.24" fill="#000000"/><rect x="241.55" y="962.76" width="4.24" height="4.24" fill="#000000"/><rect x="246.88" y="974.13" width="4.24" height="4.24" fill="#000000"/><rect x="252.21" y="983.66" width="4.24" height="4.24" fill="#000000"/><rect x="257.54" y="991.48" width="4.24" height="4.24" fill="#000000"/><rect x="262.87" y="997.82" width="4.24" height="4.24" fill="#000000"/><rect x="268.20" y="1002.89" width="4.24" height="4.24" fill="#000000"/><rect x="273.53" y="1006.93" width="4.24" height="4.24" fill="#000000"/><rect x="278.86" y="1010.13" width="4.24" height="4.24" fill="#000000"/><rect x="284.19" y="1012.66" width="4.24" height="4.24" fill="#000000"/><rect x="289.52" y="1014.65" width="4.24" height="4.24" fill="#000000"/><rect x="294.86" y="1016.21" width="4.24" height="4.24" fill="#000000"/><rect x="300.19" y="1017.44" width="4.24" height="4.24" fill="#000000"/><rect x="305.52" y="1018.41" width="4.24" height="4.24" fill="#000000"/><rect x="310.85" y="1019.16" width="4.24" height="4.24" fill="#000000"/><rect x="316.18" y="1019.75" width="4.24" height="4.24" fill="#000000"/>
<path d="M57.10 1022.32 L62.43 1021.85 L67.76 1021.26 L73.09 1020.50 L78.42 1019.54 L83.75 1018.31 L89.08 1016.75 L94.41 1014.76 L99.74 1012.24 L105.08 1009.04 L110.41 1005.01 L115.74 999.93 L121.07 993.59 L126.40 985.74 L131.73 976.11 L137.06 964.51 L142.39 950.85 L147.72 935.27 L153.05 918.20 L158.38 900.47 L163.71 883.15 L169.04 867.49 L174.37 854.58 L179.70 845.29 L185.03 840.16 L190.37 839.47 L195.70 843.23 L201.03 851.27 L206.36 863.13 L211.69 878.05 L217.02 894.98 L222.35 912.71 L227.68 930.09 L233.01 946.19 L238.34 960.48 L243.67 972.72 L249.00 982.94 L254.33 991.32 L259.66 998.11 L264.99 1003.55 L270.32 1007.89 L275.66 1011.32 L280.99 1014.04 L286.32 1016.18 L291.65 1017.86 L296.98 1019.19 L302.31 1020.23 L307.64 1021.04 L312.97 1021.68 L318.30 1022.19" fill="none" stroke="#ff0000" stroke-width="0.55"/>
<circle cx="57.10" cy="1022.32" r="2.33" fill="#ff0000"/><circle cx="62.43" cy="1021.85" r="2.33" fill="#ff0000"/><circle cx="67.76" cy="1021.26" r="2.33" fill="#ff0000"/><circle cx="73.09" cy="1020.50" r="2.33" fill="#ff0000"/><circle cx="78.42" cy="1019.54" r="2.33" fill="#ff0000"/><circle cx="83.75" cy="1018.31" r="2.33" fill="#ff0000"/><circle cx="89.08" cy="1016.75" r="2.33" fill="#ff0000"/><circle cx="94.41" cy="1014.76" r="2.33" fill="#ff0000"/><circle cx="99.74" cy="1012.24" r="2.33" fill="#ff0000"/><circle cx="105.08" cy="1009.04" r="2.33" fill="#ff0000"/><circle cx="110.41" cy="1005.01" r="2.33" fill="#ff0000"/><circle cx="115.74" cy="999.93" r="2.33" fill="#ff0000"/><circle cx="121.07" cy="993.59" r="2.33" fill="#ff0000"/><circle cx="126.40" cy="985.74" r="2.33" fill="#ff0000"/><circle cx="131.73" cy="976.11" r="2.33" fill="#ff0000"/><circle cx="137.06" cy="964.51" r="2.33" fill="#ff0000"/><circle cx="142.39" cy="950.85" r="2.33" fill="#ff0000"/><circle cx="147.72" cy="935.27" r="2.33" fill="#ff0000"/><circle cx="153.05" cy="918.20" r="2.33" fill="#ff0000"/><circle cx="158.38" cy="900.47" r="2.33" fill="#ff0000"/><circle cx="163.71" cy="883.15" r="2.33" fill="#ff0000"/><circle cx="169.04" cy="867.49" r="2.33" fill="#ff0000"/><circle cx="174.37" cy="854.58" r="2.33" fill="#ff0000"/><circle cx="179.70" cy="845.29" r="2.33" fill="#ff0000"/><circle cx="185.03" cy="840.16" r="2.33" fill="#ff0000"/><circle cx="190.37" cy="839.47" r="2.33" fill="#ff0000"/><circle cx="195.70" cy="843.23" r="2.33" fill="#ff0000"/><circle cx="201.03" cy="851.27" r="2.33" fill="#ff0000"/><circle cx="206.36" cy="863.13" r="2.33" fill="#ff0000"/><circle cx="211.69" cy="878.05" r="2.33" fill="#ff0000"/><circle cx="217.02" cy="894.98" r="2.33" fill="#ff0000"/><circle cx="222.35" cy="912.71" r="2.33" fill="#ff0000"/><circle cx="227.68" cy="930.09" r="2.33" fill="#ff0000"/><circle cx="233.01" cy="946.19" r="2.33" fill="#ff0000"/><circle cx="238.34" cy="960.48" r="2.33" fill="#ff0000"/><circle cx="243.67" cy="972.72" r="2.33" fill="#ff0000"/><circle cx="249.00" cy="982.94" r="2.33" fill="#ff0000"/><circle cx="254.33" cy="991.32" r="2.33" fill="#ff0000"/><circle cx="259.66" cy="998.11" r="2.33" fill="#ff0000"/><circle cx="264.99" cy="1003.55" r="2.33" fill="#ff0000"/><circle cx="270.32" cy="1007.89" r="2.33" fill="#ff0000"/><circle cx="275.66" cy="1011.32" r="2.33" fill="#ff0000"/><circle cx="280.99" cy="1014.04" r="2.33" fill="#ff0000"/><circle cx="286.32" cy="1016.18" r="2.33" fill="#ff0000"/><circle cx="291.65" cy="1017.86" r="2.33" fill="#ff0000"/><circle cx="296.98" cy="1019.19" r="2.33" fill="#ff0000"/><circle cx="302.31" cy="1020.23" r="2.33" fill="#ff0000"/><circle cx="307.64" cy="1021.04" r="2.33" fill="#ff0000"/><circle cx="312.97" cy="1021.68" r="2.33" fill="#ff0000"/><circle cx="318.30" cy="1022.19" r="2.33" fill="#ff0000"/>
<path d="M57.10 1021.93 L62.43 1021.35 L67.76 1020.62 L73.09 1019.68 L78.42 1018.49 L83.75 1016.96 L89.08 1015.02 L94.41 1012.56 L99.74 1009.43 L105.08 1005.47 L110.41 1000.48 L115.74 994.22 L121.07 986.42 L126.40 976.81 L131.73 965.14 L137.06 951.25 L142.39 935.17 L147.72 917.23 L153.05 898.09 L158.38 878.77 L163.71 860.40 L169.04 844.10 L174.37 830.69 L179.70 820.72 L185.03 814.47 L190.37 812.06 L195.70 813.53 L201.03 818.85 L206.36 827.94 L211.69 840.55 L217.02 856.22 L222.35 874.18 L227.68 893.38 L233.01 912.66 L238.34 930.97 L243.67 947.54 L249.00 961.97 L254.33 974.17 L259.66 984.26 L264.99 992.48 L270.32 999.09 L275.66 1004.36 L280.99 1008.55 L286.32 1011.87 L291.65 1014.48 L296.98 1016.54 L302.31 1018.15 L307.64 1019.42 L312.97 1020.41 L318.30 1021.19" fill="none" stroke="#00ff00" stroke-width="0.55"/>
<path d="M57.10 1019.00L60.03 1024.13L54.17 1024.13Z" fill="#00ff00"/><path d="M62.43 1018.42L65.36 1023.55L59.50 1023.55Z" fill="#00ff00"/><path d="M67.76 1017.69L70.69 1022.82L64.83 1022.82Z" fill="#00ff00"/><path d="M73.09 1016.75L76.02 1021.88L70.16 1021.88Z" fill="#00ff00"/><path d="M78.42 1015.56L81.35 1020.68L75.49 1020.68Z" fill="#00ff00"/><path d="M83.75 1014.04L86.68 1019.16L80.82 1019.16Z" fill="#00ff00"/><path d="M89.08 1012.10L92.01 1017.22L86.15 1017.22Z" fill="#00ff00"/><path d="M94.41 1009.63L97.34 1014.76L91.49 1014.76Z" fill="#00ff00"/><path d="M99.74 1006.50L102.67 1011.63L96.82 1011.63Z" fill="#00ff00"/><path d="M105.08 1002.54L108.00 1007.67L102.15 1007.67Z" fill="#00ff00"/><path d="M110.41 997.55L113.33 1002.68L107.48 1002.68Z" fill="#00ff00"/><path d="M115.74 991.29L118.67 996.41L112.81 996.41Z" fill="#00ff00"/><path d="M121.07 983.49L124.00 988.62L118.14 988.62Z" fill="#00ff00"/><path d="M126.40 973.88L129.33 979.01L123.47 979.01Z" fill="#00ff00"/><path d="M131.73 962.21L134.66 967.33L128.80 967.33Z" fill="#00ff00"/><path d="M137.06 948.32L139.99 953.44L134.13 953.44Z" fill="#00ff00"/><path d="M142.39 932.24L145.32 937.37L139.46 937.37Z" fill="#00ff00"/><path d="M147.72 914.30L150.65 919.42L144.79 919.42Z" fill="#00ff00"/><path d="M153.05 895.17L155.98 900.29L150.12 900.29Z" fill="#00ff00"/><path d="M158.38 875.84L161.31 880.96L155.45 880.96Z" fill="#00ff00"/><path d="M163.71 857.48L166.64 862.60L160.78 862.60Z" fill="#00ff00"/><path d="M169.04 841.17L171.97 846.29L166.11 846.29Z" fill="#00ff00"/><path d="M174.37 827.76L177.30 832.88L171.44 832.88Z" fill="#00ff00"/><path d="M179.70 817.79L182.63 822.91L176.78 822.91Z" fill="#00ff00"/><path d="M185.03 811.54L187.96 816.67L182.11 816.67Z" fill="#00ff00"/><path d="M190.37 809.14L193.29 814.26L187.44 814.26Z" fill="#00ff00"/><path d="M195.70 810.60L198.62 815.73L192.77 815.73Z" fill="#00ff00"/><path d="M201.03 815.92L203.96 821.05L198.10 821.05Z" fill="#00ff00"/><path d="M206.36 825.01L209.29 830.13L203.43 830.13Z" fill="#00ff00"/><path d="M211.69 837.62L214.62 842.74L208.76 842.74Z" fill="#00ff00"/><path d="M217.02 853.29L219.95 858.42L214.09 858.42Z" fill="#00ff00"/><path d="M222.35 871.25L225.28 876.37L219.42 876.37Z" fill="#00ff00"/><path d="M227.68 890.45L230.61 895.57L224.75 895.57Z" fill="#00ff00"/><path d="M233.01 909.73L235.94 914.86L230.08 914.86Z" fill="#00ff00"/><path d="M238.34 928.04L241.27 933.16L235.41 933.16Z" fill="#00ff00"/><path d="M243.67 944.61L246.60 949.74L240.74 949.74Z" fill="#00ff00"/><path d="M249.00 959.04L251.93 964.17L246.07 964.17Z" fill="#00ff00"/><path d="M254.33 971.25L257.26 976.37L251.40 976.37Z" fill="#00ff00"/><path d="M259.66 981.34L262.59 986.46L256.73 986.46Z" fill="#00ff00"/><path d="M264.99 989.55L267.92 994.67L262.07 994.67Z" fill="#00ff00"/><path d="M270.32 996.16L273.25 1001.28L267.40 1001.28Z" fill="#00ff00"/><path d="M275.66 1001.44L278.58 1006.56L272.73 1006.56Z" fill="#00ff00"/><path d="M280.99 1005.62L283.91 1010.75L278.06 1010.75Z" fill="#00ff00"/><path d="M286.32 1008.94L289.25 1014.06L283.39 1014.06Z" fill="#00ff00"/><path d="M291.65 1011.55L294.58 1016.68L288.72 1016.68Z" fill="#00ff00"/><path d="M296.98 1013.61L299.91 1018.73L294.05 1018.73Z" fill="#00ff00"/><path d="M302.31 1015.22L305.24 1020.35L299.38 1020.35Z" fill="#00ff00"/><path d="M307.64 1016.49L310.57 1021.61L304.71 1021.61Z" fill="#00ff00"/><path d="M312.97 1017.48L315.90 1022.61L310.04 1022.61Z" fill="#00ff00"/><path d="M318.30 1018.26L321.23 1023.39L315.37 1023.39Z" fill="#00ff00"/>
<path d="M57.10 1022.59 L62.43 1022.20 L67.76 1021.70 L73.09 1021.07 L78.42 1020.26 L83.75 1019.23 L89.08 1017.92 L94.41 1016.25 L99.74 1014.13 L105.08 1011.44 L110.41 1008.05 L115.74 1003.76 L121.07 998.38 L126.40 991.67 L131.73 983.37 L137.06 973.25 L142.39 961.12 L147.72 946.95 L153.05 930.93 L158.38 913.59 L163.71 895.82 L169.04 878.75 L174.37 863.60 L179.70 851.40 L185.03 842.93 L190.37 838.67 L195.70 838.81 L201.03 843.37 L206.36 852.10 L211.69 864.52 L217.02 879.83 L222.35 896.98 L227.68 914.76 L233.01 932.03 L238.34 947.95 L243.67 961.99 L249.00 973.98 L254.33 983.97 L259.66 992.15 L264.99 998.77 L270.32 1004.07 L275.66 1008.29 L280.99 1011.64 L286.32 1014.29 L291.65 1016.37 L296.98 1018.02 L302.31 1019.31 L307.64 1020.32 L312.97 1021.12 L318.30 1021.74" fill="none" stroke="#0000ff" stroke-width="0.55"/>
<path d="M57.10 1025.52L60.03 1020.39L54.17 1020.39Z" fill="#0000ff"/><path d="M62.43 1025.13L65.36 1020.00L59.50 1020.00Z" fill="#0000ff"/><path d="M67.76 1024.63L70.69 1019.51L64.83 1019.51Z" fill="#0000ff"/><path d="M73.09 1024.00L76.02 1018.87L70.16 1018.87Z" fill="#0000ff"/><path d="M78.42 1023.19L81.35 1018.06L75.49 1018.06Z" fill="#0000ff"/><path d="M83.75 1022.16L86.68 1017.03L80.82 1017.03Z" fill="#0000ff"/><path d="M89.08 1020.85L92.01 1015.72L86.15 1015.72Z" fill="#0000ff"/><path d="M94.41 1019.18L97.34 1014.05L91.49 1014.05Z" fill="#0000ff"/><path d="M99.74 1017.06L102.67 1011.94L96.82 1011.94Z" fill="#0000ff"/><path d="M105.08 1014.37L108.00 1009.25L102.15 1009.25Z" fill="#0000ff"/><path d="M110.41 1010.97L113.33 1005.85L107.48 1005.85Z" fill="#0000ff"/><path d="M115.74 1006.69L118.67 1001.56L112.81 1001.56Z" fill="#0000ff"/><path d="M121.07 1001.31L124.00 996.18L118.14 996.18Z" fill="#0000ff"/><path d="M126.40 994.59L129.33 989.47L123.47 989.47Z" fill="#0000ff"/><path d="M131.73 986.30L134.66 981.17L128.80 981.17Z" fill="#0000ff"/><path d="M137.06 976.18L139.99 971.05L134.13 971.05Z" fill="#0000ff"/><path d="M142.39 964.05L145.32 958.93L139.46 958.93Z" fill="#0000ff"/><path d="M147.72 949.88L150.65 944.75L144.79 944.75Z" fill="#0000ff"/><path d="M153.05 933.86L155.98 928.73L150.12 928.73Z" fill="#0000ff"/><path d="M158.38 916.52L161.31 911.40L155.45 911.40Z" fill="#0000ff"/><path d="M163.71 898.75L166.64 893.62L160.78 893.62Z" fill="#0000ff"/><path d="M169.04 881.68L171.97 876.56L166.11 876.56Z" fill="#0000ff"/><path d="M174.37 866.53L177.30 861.40L171.44 861.40Z" fill="#0000ff"/><path d="M179.70 854.33L182.63 849.20L176.78 849.20Z" fill="#0000ff"/><path d="M185.03 845.86L187.96 840.74L182.11 840.74Z" fill="#0000ff"/><path d="M190.37 841.60L193.29 836.47L187.44 836.47Z" fill="#0000ff"/><path d="M195.70 841.74L198.62 836.62L192.77 836.62Z" fill="#0000ff"/><path d="M201.03 846.30L203.96 841.17L198.10 841.17Z" fill="#0000ff"/><path d="M206.36 855.02L209.29 849.90L203.43 849.90Z" fill="#0000ff"/><path d="M211.69 867.44L214.62 862.32L208.76 862.32Z" fill="#0000ff"/><path d="M217.02 882.76L219.95 877.64L214.09 877.64Z" fill="#0000ff"/><path d="M222.35 899.91L225.28 894.79L219.42 894.79Z" fill="#0000ff"/><path d="M227.68 917.69L230.61 912.56L224.75 912.56Z" fill="#0000ff"/><path d="M233.01 934.96L235.94 929.84L230.08 929.84Z" fill="#0000ff"/><path d="M238.34 950.87L241.27 945.75L235.41 945.75Z" fill="#0000ff"/><path d="M243.67 964.92L246.60 959.79L240.74 959.79Z" fill="#0000ff"/><path d="M249.00 976.91L251.93 971.78L246.07 971.78Z" fill="#0000ff"/><path d="M254.33 986.90L257.26 981.78L251.40 981.78Z" fill="#0000ff"/><path d="M259.66 995.08L262.59 989.96L256.73 989.96Z" fill="#0000ff"/><path d="M264.99 1001.70L267.92 996.57L262.07 996.57Z" fill="#0000ff"/><path d="M270.32 1007.00L273.25 1001.88L267.40 1001.88Z" fill="#0000ff"/><path d="M275.66 1011.22L278.58 1006.10L272.73 1006.10Z" fill="#0000ff"/><path d="M280.99 1014.57L283.91 1009.45L278.06 1009.45Z" fill="#0000ff"/><path d="M286.32 1017.22L289.25 1012.09L283.39 1012.09Z" fill="#0000ff"/><path d="M291.65 1019.30L294.58 1014.18L288.72 1014.18Z" fill="#0000ff"/><path d="M296.98 1020.94L299.91 1015.82L294.05 1015.82Z" fill="#0000ff"/><path d="M302.31 1022.23L305.24 1017.11L299.38 1017.11Z" fill="#0000ff"/><path d="M307.64 1023.25L310.57 1018.12L304.71 1018.12Z" fill="#0000ff"/><path d="M312.97 1024.04L315.90 1018.92L310.04 1018.92Z" fill="#0000ff"/><path d="M318.30 1024.67L321.23 1019.54L315.37 1019.54Z" fill="#0000ff"/>
<path d="M57.10 1022.74 L62.43 1022.39 L67.76 1021.94 L73.09 1021.36 L78.42 1020.63 L83.75 1019.69 L89.08 1018.49 L94.41 1016.97 L99.74 1015.02 L105.08 1012.55 L110.41 1009.41 L115.74 1005.44 L121.07 1000.44 L126.40 994.17 L131.73 986.38 L137.06 976.81 L142.39 965.25 L147.72 951.61 L153.05 936.00 L158.38 918.89 L163.71 901.10 L169.04 883.78 L174.37 868.20 L179.70 855.53 L185.03 846.68 L190.37 842.19 L195.70 842.33 L201.03 847.08 L206.36 856.18 L211.69 869.04 L217.02 884.76 L222.35 902.14 L227.68 919.92 L233.01 936.97 L238.34 952.47 L243.67 965.99 L249.00 977.43 L254.33 986.89 L259.66 994.58 L264.99 1000.77 L270.32 1005.70 L275.66 1009.62 L280.99 1012.71 L286.32 1015.15 L291.65 1017.07 L296.98 1018.57 L302.31 1019.75 L307.64 1020.68 L312.97 1021.40 L318.30 1021.97" fill="none" stroke="#808000" stroke-width="0.55"/>
<path d="M57.10 1019.94L59.90 1022.74L57.10 1025.54L54.30 1022.74Z" fill="#808000"/><path d="M62.43 1019.59L65.23 1022.39L62.43 1025.19L59.63 1022.39Z" fill="#808000"/><path d="M67.76 1019.14L70.56 1021.94L67.76 1024.74L64.96 1021.94Z" fill="#808000"/><path d="M73.09 1018.56L75.89 1021.36L73.09 1024.16L70.29 1021.36Z" fill="#808000"/><path d="M78.42 1017.83L81.22 1020.63L78.42 1023.43L75.62 1020.63Z" fill="#808000"/><path d="M83.75 1016.89L86.55 1019.69L83.75 1022.49L80.95 1019.69Z" fill="#808000"/><path d="M89.08 1015.69L91.89 1018.49L89.08 1021.29L86.28 1018.49Z" fill="#808000"/><path d="M94.41 1014.16L97.22 1016.97L94.41 1019.77L91.61 1016.97Z" fill="#808000"/><path d="M99.74 1012.22L102.55 1015.02L99.74 1017.82L96.94 1015.02Z" fill="#808000"/><path d="M105.08 1009.75L107.88 1012.55L105.08 1015.35L102.27 1012.55Z" fill="#808000"/><path d="M110.41 1006.61L113.21 1009.41L110.41 1012.21L107.60 1009.41Z" fill="#808000"/><path d="M115.74 1002.64L118.54 1005.44L115.74 1008.25L112.94 1005.44Z" fill="#808000"/><path d="M121.07 997.64L123.87 1000.44L121.07 1003.24L118.27 1000.44Z" fill="#808000"/><path d="M126.40 991.37L129.20 994.17L126.40 996.97L123.60 994.17Z" fill="#808000"/><path d="M131.73 983.58L134.53 986.38L131.73 989.18L128.93 986.38Z" fill="#808000"/><path d="M137.06 974.01L139.86 976.81L137.06 979.62L134.26 976.81Z" fill="#808000"/><path d="M142.39 962.45L145.19 965.25L142.39 968.06L139.59 965.25Z" fill="#808000"/><path d="M147.72 948.81L150.52 951.61L147.72 954.41L144.92 951.61Z" fill="#808000"/><path d="M153.05 933.20L155.85 936.00L153.05 938.80L150.25 936.00Z" fill="#808000"/><path d="M158.38 916.09L161.18 918.89L158.38 921.69L155.58 918.89Z" fill="#808000"/><path d="M163.71 898.30L166.51 901.10L163.71 903.90L160.91 901.10Z" fill="#808000"/><path d="M169.04 880.97L171.84 883.78L169.04 886.58L166.24 883.78Z" fill="#808000"/><path d="M174.37 865.40L177.17 868.20L174.37 871.00L171.57 868.20Z" fill="#808000"/><path d="M179.70 852.73L182.51 855.53L179.70 858.34L176.90 855.53Z" fill="#808000"/><path d="M185.03 843.88L187.84 846.68L185.03 849.48L182.23 846.68Z" fill="#808000"/><path d="M190.37 839.39L193.17 842.19L190.37 844.99L187.56 842.19Z" fill="#808000"/><path d="M195.70 839.53L198.50 842.33L195.70 845.13L192.89 842.33Z" fill="#808000"/><path d="M201.03 844.28L203.83 847.08L201.03 849.88L198.23 847.08Z" fill="#808000"/><path d="M206.36 853.38L209.16 856.18L206.36 858.98L203.56 856.18Z" fill="#808000"/><path d="M211.69 866.24L214.49 869.04L211.69 871.84L208.89 869.04Z" fill="#808000"/><path d="M217.02 881.96L219.82 884.76L217.02 887.56L214.22 884.76Z" fill="#808000"/><path d="M222.35 899.34L225.15 902.14L222.35 904.94L219.55 902.14Z" fill="#808000"/><path d="M227.68 917.12L230.48 919.92L227.68 922.73L224.88 919.92Z" fill="#808000"/><path d="M233.01 934.17L235.81 936.97L233.01 939.77L230.21 936.97Z" fill="#808000"/><path d="M238.34 949.67L241.14 952.47L238.34 955.27L235.54 952.47Z" fill="#808000"/><path d="M243.67 963.19L246.47 965.99L243.67 968.79L240.87 965.99Z" fill="#808000"/><path d="M249.00 974.63L251.80 977.43L249.00 980.23L246.20 977.43Z" fill="#808000"/><path d="M254.33 984.09L257.13 986.89L254.33 989.69L251.53 986.89Z" fill="#808000"/><path d="M259.66 991.78L262.46 994.58L259.66 997.38L256.86 994.58Z" fill="#808000"/><path d="M264.99 997.97L267.80 1000.77L264.99 1003.57L262.19 1000.77Z" fill="#808000"/><path d="M270.32 1002.90L273.13 1005.70L270.32 1008.51L267.52 1005.70Z" fill="#808000"/><path d="M275.66 1006.82L278.46 1009.62L275.66 1012.42L272.85 1009.62Z" fill="#808000"/><path d="M280.99 1009.91L283.79 1012.71L280.99 1015.51L278.18 1012.71Z" fill="#808000"/><path d="M286.32 1012.35L289.12 1015.15L286.32 1017.95L283.51 1015.15Z" fill="#808000"/><path d="M291.65 1014.27L294.45 1017.07L291.65 1019.87L288.85 1017.07Z" fill="#808000"/><path d="M296.98 1015.77L299.78 1018.57L296.98 1021.37L294.18 1018.57Z" fill="#808000"/><path d="M302.31 1016.95L305.11 1019.75L302.31 1022.55L299.51 1019.75Z" fill="#808000"/><path d="M307.64 1017.87L310.44 1020.68L307.64 1023.48L304.84 1020.68Z" fill="#808000"/><path d="M312.97 1018.60L315.77 1021.40L312.97 1024.20L310.17 1021.40Z" fill="#808000"/><path d="M318.30 1019.16L321.10 1021.97L318.30 1024.77L315.50 1021.97Z" fill="#808000"/>
<path d="M57.10 1022.78 L62.43 1022.45 L67.76 1022.02 L73.09 1021.47 L78.42 1020.77 L83.75 1019.88 L89.08 1018.74 L94.41 1017.29 L99.74 1015.45 L105.08 1013.11 L110.41 1010.14 L115.74 1006.40 L121.07 1001.68 L126.40 995.76 L131.73 988.42 L137.06 979.38 L142.39 968.44 L147.72 955.46 L153.05 940.53 L158.38 923.99 L163.71 906.56 L169.04 889.29 L174.37 873.41 L179.70 860.10 L185.03 850.31 L190.37 844.69 L195.70 843.55 L201.03 846.97 L206.36 854.76 L211.69 866.42 L217.02 881.16 L222.35 897.90 L227.68 915.39 L233.01 932.49 L238.34 948.29 L243.67 962.26 L249.00 974.20 L254.33 984.16 L259.66 992.31 L264.99 998.91 L270.32 1004.19 L275.66 1008.39 L280.99 1011.73 L286.32 1014.36 L291.65 1016.43 L296.98 1018.06 L302.31 1019.35 L307.64 1020.35 L312.97 1021.14 L318.30 1021.76" fill="none" stroke="#ff00ff" stroke-width="0.55"/>
<path d="M54.17 1022.78L59.30 1019.86L59.30 1025.71Z" fill="#ff00ff"/><path d="M59.50 1022.45L64.63 1019.52L64.63 1025.38Z" fill="#ff00ff"/><path d="M64.83 1022.02L69.96 1019.09L69.96 1024.95Z" fill="#ff00ff"/><path d="M70.16 1021.47L75.29 1018.54L75.29 1024.40Z" fill="#ff00ff"/><path d="M75.49 1020.77L80.62 1017.84L80.62 1023.70Z" fill="#ff00ff"/><path d="M80.82 1019.88L85.95 1016.95L85.95 1022.81Z" fill="#ff00ff"/><path d="M86.15 1018.74L91.28 1015.81L91.28 1021.67Z" fill="#ff00ff"/><path d="M91.49 1017.29L96.61 1014.36L96.61 1020.22Z" fill="#ff00ff"/><path d="M96.82 1015.45L101.94 1012.52L101.94 1018.38Z" fill="#ff00ff"/><path d="M102.15 1013.11L107.27 1010.18L107.27 1016.04Z" fill="#ff00ff"/><path d="M107.48 1010.14L112.60 1007.22L112.60 1013.07Z" fill="#ff00ff"/><path d="M112.81 1006.40L117.93 1003.47L117.93 1009.32Z" fill="#ff00ff"/><path d="M118.14 1001.68L123.26 998.75L123.26 1004.60Z" fill="#ff00ff"/><path d="M123.47 995.76L128.59 992.84L128.59 998.69Z" fill="#ff00ff"/><path d="M128.80 988.42L133.93 985.49L133.93 991.34Z" fill="#ff00ff"/><path d="M134.13 979.38L139.26 976.45L139.26 982.31Z" fill="#ff00ff"/><path d="M139.46 968.44L144.59 965.51L144.59 971.37Z" fill="#ff00ff"/><path d="M144.79 955.46L149.92 952.54L149.92 958.39Z" fill="#ff00ff"/><path d="M150.12 940.53L155.25 937.60L155.25 943.46Z" fill="#ff00ff"/><path d="M155.45 923.99L160.58 921.06L160.58 926.92Z" fill="#ff00ff"/><path d="M160.78 906.56L165.91 903.63L165.91 909.49Z" fill="#ff00ff"/><path d="M166.11 889.29L171.24 886.36L171.24 892.22Z" fill="#ff00ff"/><path d="M171.44 873.41L176.57 870.48L176.57 876.34Z" fill="#ff00ff"/><path d="M176.78 860.10L181.90 857.17L181.90 863.03Z" fill="#ff00ff"/><path d="M182.11 850.31L187.23 847.38L187.23 853.24Z" fill="#ff00ff"/><path d="M187.44 844.69L192.56 841.76L192.56 847.62Z" fill="#ff00ff"/><path d="M192.77 843.55L197.89 840.62L197.89 846.48Z" fill="#ff00ff"/><path d="M198.10 846.97L203.22 844.05L203.22 849.90Z" fill="#ff00ff"/><path d="M203.43 854.76L208.55 851.83L208.55 857.68Z" fill="#ff00ff"/><path d="M208.76 866.42L213.88 863.49L213.88 869.35Z" fill="#ff00ff"/><path d="M214.09 881.16L219.21 878.23L219.21 884.09Z" fill="#ff00ff"/><path d="M219.42 897.90L224.55 894.97L224.55 900.83Z" fill="#ff00ff"/><path d="M224.75 915.39L229.88 912.46L229.88 918.32Z" fill="#ff00ff"/><path d="M230.08 932.49L235.21 929.56L235.21 935.42Z" fill="#ff00ff"/><path d="M235.41 948.29L240.54 945.36L240.54 951.21Z" fill="#ff00ff"/><path d="M240.74 962.26L245.87 959.33L245.87 965.19Z" fill="#ff00ff"/><path d="M246.07 974.20L251.20 971.27L251.20 977.13Z" fill="#ff00ff"/><path d="M251.40 984.16L256.53 981.23L256.53 987.09Z" fill="#ff00ff"/><path d="M256.73 992.31L261.86 989.39L261.86 995.24Z" fill="#ff00ff"/><path d="M262.07 998.91L267.19 995.98L267.19 1001.84Z" fill="#ff00ff"/><path d="M267.40 1004.19L272.52 1001.26L272.52 1007.12Z" fill="#ff00ff"/><path d="M272.73 1008.39L277.85 1005.46L277.85 1011.32Z" fill="#ff00ff"/><path d="M278.06 1011.73L283.18 1008.80L283.18 1014.65Z" fill="#ff00ff"/><path d="M283.39 1014.36L288.51 1011.43L288.51 1017.29Z" fill="#ff00ff"/><path d="M288.72 1016.43L293.84 1013.50L293.84 1019.36Z" fill="#ff00ff"/><path d="M294.05 1018.06L299.17 1015.14L299.17 1020.99Z" fill="#ff00ff"/><path d="M299.38 1019.35L304.50 1016.42L304.50 1022.28Z" fill="#ff00ff"/><path d="M304.71 1020.35L309.84 1017.42L309.84 1023.28Z" fill="#ff00ff"/><path d="M310.04 1021.14L315.17 1018.21L315.17 1024.07Z" fill="#ff00ff"/><path d="M315.37 1021.76L320.50 1018.83L320.50 1024.69Z" fill="#ff00ff"/>
<path d="M35.4 800.7H339.7" stroke="#aaa" stroke-width="1.3" fill="none"/>
<path d="M339.7 800.0500000000001V1043.25" stroke="#777" stroke-width="1.3" fill="none"/>
<path d="M35.4 800.0500000000001V1042.6H340.34999999999997" stroke="#333" stroke-width="1.3" fill="none"/>
<text x="57.10" y="1058.00" text-anchor="middle" font-size="10.3">-1</text>
<text x="100.63" y="1058.00" text-anchor="middle" font-size="10.3">0</text>
<text x="144.17" y="1058.00" text-anchor="middle" font-size="10.3">1</text>
<text x="187.70" y="1058.00" text-anchor="middle" font-size="10.3">2</text>
<text x="231.23" y="1058.00" text-anchor="middle" font-size="10.3">3</text>
<text x="274.77" y="1058.00" text-anchor="middle" font-size="10.3">4</text>
<text x="318.30" y="1058.00" text-anchor="middle" font-size="10.3">5</text>
<text x="27.60" y="1027.50" text-anchor="end" font-size="10.3">0</text>
<text x="27.60" y="990.29" text-anchor="end" font-size="10.3">10</text>
<text x="27.60" y="953.07" text-anchor="end" font-size="10.3">20</text>
<text x="27.60" y="915.85" text-anchor="end" font-size="10.3">30</text>
<text x="27.60" y="878.64" text-anchor="end" font-size="10.3">40</text>
<text x="27.60" y="841.42" text-anchor="end" font-size="10.3">50</text>
<text x="27.60" y="804.20" text-anchor="end" font-size="10.3">60</text>
<path d="M35.33 1042.60V1045.54M57.10 1042.60V1047.93M78.87 1042.60V1045.54M100.63 1042.60V1047.93M122.40 1042.60V1045.54M144.17 1042.60V1047.93M165.93 1042.60V1045.54M187.70 1042.60V1047.93M209.47 1042.60V1045.54M231.23 1042.60V1047.93M253.00 1042.60V1045.54M274.77 1042.60V1047.93M296.53 1042.60V1045.54M318.30 1042.60V1047.93M340.07 1042.60V1045.54M35.40 1042.61H32.46M35.40 1024.00H30.07M35.40 1005.39H32.46M35.40 986.78H30.07M35.40 968.18H32.46M35.40 949.57H30.07M35.40 930.96H32.46M35.40 912.35H30.07M35.40 893.74H32.46M35.40 875.13H30.07M35.40 856.53H32.46M35.40 837.92H30.07M35.40 819.31H32.46M35.40 800.70H30.07" stroke="#333" stroke-width="1.1" fill="none"/>
<text x="188.3" y="1076" text-anchor="middle" font-size="11">log f (Hz)</text>
<text transform="translate(7.3,929.5) rotate(-90)" text-anchor="middle" font-size="10.9">Phase Angle (θ)</text>
<text x="63.6" y="831.4" font-size="11">(d) DS4</text>
<path d="M262.10 894.00H270.72M279.18 894.00H287.80" stroke="#000000" stroke-width="0.8" opacity="0.75"/>
<rect x="272.19" y="891.24" width="5.52" height="5.52" fill="#000000"/>
<text x="291.20" y="897.85" font-size="11">Blank</text>
<path d="M262.10 907.55H270.72M279.18 907.55H287.80" stroke="#ff0000" stroke-width="0.8" opacity="0.75"/>
<circle cx="274.95" cy="907.55" r="3.03" fill="#ff0000"/>
<text x="291.20" y="911.40" font-size="11">1.00 mM</text>
<path d="M262.10 921.10H270.72M279.18 921.10H287.80" stroke="#00ff00" stroke-width="0.8" opacity="0.75"/>
<path d="M274.95 917.29L278.76 923.96L271.14 923.96Z" fill="#00ff00"/>
<text x="291.20" y="924.95" font-size="11">0.75 mM</text>
<path d="M262.10 934.65H270.72M279.18 934.65H287.80" stroke="#0000ff" stroke-width="0.8" opacity="0.75"/>
<path d="M274.95 938.46L278.76 931.79L271.14 931.79Z" fill="#0000ff"/>
<text x="291.20" y="938.50" font-size="11">0.50 mM</text>
<path d="M262.10 948.20H270.72M279.18 948.20H287.80" stroke="#808000" stroke-width="0.8" opacity="0.75"/>
<path d="M274.95 944.56L278.59 948.20L274.95 951.84L271.31 948.20Z" fill="#808000"/>
<text x="291.20" y="952.05" font-size="11">0.25 mM</text>
<path d="M262.10 961.75H270.72M279.18 961.75H287.80" stroke="#ff00ff" stroke-width="0.8" opacity="0.75"/>
<path d="M271.14 961.75L277.81 957.94L277.81 965.56Z" fill="#ff00ff"/>
<text x="291.20" y="965.60" font-size="11">0.10 mM</text>
<path d="M414.00 901.33 L419.37 901.34 L424.74 901.35 L430.11 901.37 L435.48 901.39 L440.85 901.42 L446.22 901.46 L451.59 901.50 L456.96 901.57 L462.32 901.65 L467.69 901.76 L473.06 901.91 L478.43 902.12 L483.80 902.39 L489.17 902.77 L494.54 903.29 L499.91 904.03 L505.28 905.06 L510.65 906.52 L516.02 908.58 L521.39 911.44 L526.76 915.33 L532.13 920.47 L537.50 926.99 L542.87 934.87 L548.23 943.94 L553.60 953.86 L558.97 964.22 L564.34 974.55 L569.71 984.36 L575.08 993.25 L580.45 1000.92 L585.82 1007.21 L591.19 1012.13 L596.56 1015.84 L601.93 1018.56 L607.30 1020.50 L612.67 1021.89 L618.04 1022.87 L623.41 1023.56 L628.78 1024.06 L634.14 1024.42 L639.51 1024.68 L644.88 1024.87 L650.25 1025.01 L655.62 1025.12 L660.99 1025.20 L666.36 1025.26 L671.73 1025.30 L677.10 1025.34" fill="none" stroke="#000000" stroke-width="0.55"/>
<rect x="411.86" y="899.19" width="4.28" height="4.28" fill="#000000"/><rect x="417.23" y="899.20" width="4.28" height="4.28" fill="#000000"/><rect x="422.60" y="899.21" width="4.28" height="4.28" fill="#000000"/><rect x="427.97" y="899.23" width="4.28" height="4.28" fill="#000000"/><rect x="433.34" y="899.25" width="4.28" height="4.28" fill="#000000"/><rect x="438.71" y="899.28" width="4.28" height="4.28" fill="#000000"/><rect x="444.08" y="899.32" width="4.28" height="4.28" fill="#000000"/><rect x="449.45" y="899.37" width="4.28" height="4.28" fill="#000000"/><rect x="454.82" y="899.43" width="4.28" height="4.28" fill="#000000"/><rect x="460.19" y="899.52" width="4.28" height="4.28" fill="#000000"/><rect x="465.56" y="899.63" width="4.28" height="4.28" fill="#000000"/><rect x="470.93" y="899.78" width="4.28" height="4.28" fill="#000000"/><rect x="476.29" y="899.98" width="4.28" height="4.28" fill="#000000"/><rect x="481.66" y="900.25" width="4.28" height="4.28" fill="#000000"/><rect x="487.03" y="900.63" width="4.28" height="4.28" fill="#000000"/><rect x="492.40" y="901.15" width="4.28" height="4.28" fill="#000000"/><rect x="497.77" y="901.89" width="4.28" height="4.28" fill="#000000"/><rect x="503.14" y="902.92" width="4.28" height="4.28" fill="#000000"/><rect x="508.51" y="904.39" width="4.28" height="4.28" fill="#000000"/><rect x="513.88" y="906.44" width="4.28" height="4.28" fill="#000000"/><rect x="519.25" y="909.30" width="4.28" height="4.28" fill="#000000"/><rect x="524.62" y="913.20" width="4.28" height="4.28" fill="#000000"/><rect x="529.99" y="918.34" width="4.28" height="4.28" fill="#000000"/><rect x="535.36" y="924.85" width="4.28" height="4.28" fill="#000000"/><rect x="540.73" y="932.73" width="4.28" height="4.28" fill="#000000"/><rect x="546.10" y="941.80" width="4.28" height="4.28" fill="#000000"/><rect x="551.47" y="951.73" width="4.28" height="4.28" fill="#000000"/><rect x="556.84" y="962.09" width="4.28" height="4.28" fill="#000000"/><rect x="562.21" y="972.41" width="4.28" height="4.28" fill="#000000"/><rect x="567.57" y="982.22" width="4.28" height="4.28" fill="#000000"/><rect x="572.94" y="991.12" width="4.28" height="4.28" fill="#000000"/><rect x="578.31" y="998.78" width="4.28" height="4.28" fill="#000000"/><rect x="583.68" y="1005.07" width="4.28" height="4.28" fill="#000000"/><rect x="589.05" y="1010.00" width="4.28" height="4.28" fill="#000000"/><rect x="594.42" y="1013.71" width="4.28" height="4.28" fill="#000000"/><rect x="599.79" y="1016.42" width="4.28" height="4.28" fill="#000000"/><rect x="605.16" y="1018.37" width="4.28" height="4.28" fill="#000000"/><rect x="610.53" y="1019.75" width="4.28" height="4.28" fill="#000000"/><rect x="615.90" y="1020.73" width="4.28" height="4.28" fill="#000000"/><rect x="621.27" y="1021.42" width="4.28" height="4.28" fill="#000000"/><rect x="626.64" y="1021.92" width="4.28" height="4.28" fill="#000000"/><rect x="632.01" y="1022.28" width="4.28" height="4.28" fill="#000000"/><rect x="637.38" y="1022.54" width="4.28" height="4.28" fill="#000000"/><rect x="642.75" y="1022.73" width="4.28" height="4.28" fill="#000000"/><rect x="648.12" y="1022.87" width="4.28" height="4.28" fill="#000000"/><rect x="653.48" y="1022.98" width="4.28" height="4.28" fill="#000000"/><rect x="658.85" y="1023.06" width="4.28" height="4.28" fill="#000000"/><rect x="664.22" y="1023.12" width="4.28" height="4.28" fill="#000000"/><rect x="669.59" y="1023.17" width="4.28" height="4.28" fill="#000000"/><rect x="674.96" y="1023.20" width="4.28" height="4.28" fill="#000000"/>
<path d="M414.00 817.86 L419.37 817.89 L424.74 817.93 L430.11 817.98 L435.48 818.04 L440.85 818.13 L446.22 818.24 L451.59 818.39 L456.96 818.60 L462.32 818.87 L467.69 819.23 L473.06 819.73 L478.43 820.43 L483.80 821.39 L489.17 822.74 L494.54 824.61 L499.91 827.21 L505.28 830.75 L510.65 835.46 L516.02 841.53 L521.39 849.04 L526.76 857.95 L532.13 868.07 L537.50 879.11 L542.87 890.73 L548.23 902.60 L553.60 914.33 L558.97 925.59 L564.34 936.02 L569.71 945.32 L575.08 953.28 L580.45 959.79 L585.82 964.90 L591.19 968.78 L596.56 971.64 L601.93 973.71 L607.30 975.20 L612.67 976.27 L618.04 977.03 L623.41 977.59 L628.78 977.99 L634.14 978.29 L639.51 978.51 L644.88 978.67 L650.25 978.80 L655.62 978.89 L660.99 978.96 L666.36 979.02 L671.73 979.06 L677.10 979.09" fill="none" stroke="#ff0000" stroke-width="0.55"/>
<circle cx="414.00" cy="817.86" r="2.35" fill="#ff0000"/><circle cx="419.37" cy="817.89" r="2.35" fill="#ff0000"/><circle cx="424.74" cy="817.93" r="2.35" fill="#ff0000"/><circle cx="430.11" cy="817.98" r="2.35" fill="#ff0000"/><circle cx="435.48" cy="818.04" r="2.35" fill="#ff0000"/><circle cx="440.85" cy="818.13" r="2.35" fill="#ff0000"/><circle cx="446.22" cy="818.24" r="2.35" fill="#ff0000"/><circle cx="451.59" cy="818.39" r="2.35" fill="#ff0000"/><circle cx="456.96" cy="818.60" r="2.35" fill="#ff0000"/><circle cx="462.32" cy="818.87" r="2.35" fill="#ff0000"/><circle cx="467.69" cy="819.23" r="2.35" fill="#ff0000"/><circle cx="473.06" cy="819.73" r="2.35" fill="#ff0000"/><circle cx="478.43" cy="820.43" r="2.35" fill="#ff0000"/><circle cx="483.80" cy="821.39" r="2.35" fill="#ff0000"/><circle cx="489.17" cy="822.74" r="2.35" fill="#ff0000"/><circle cx="494.54" cy="824.61" r="2.35" fill="#ff0000"/><circle cx="499.91" cy="827.21" r="2.35" fill="#ff0000"/><circle cx="505.28" cy="830.75" r="2.35" fill="#ff0000"/><circle cx="510.65" cy="835.46" r="2.35" fill="#ff0000"/><circle cx="516.02" cy="841.53" r="2.35" fill="#ff0000"/><circle cx="521.39" cy="849.04" r="2.35" fill="#ff0000"/><circle cx="526.76" cy="857.95" r="2.35" fill="#ff0000"/><circle cx="532.13" cy="868.07" r="2.35" fill="#ff0000"/><circle cx="537.50" cy="879.11" r="2.35" fill="#ff0000"/><circle cx="542.87" cy="890.73" r="2.35" fill="#ff0000"/><circle cx="548.23" cy="902.60" r="2.35" fill="#ff0000"/><circle cx="553.60" cy="914.33" r="2.35" fill="#ff0000"/><circle cx="558.97" cy="925.59" r="2.35" fill="#ff0000"/><circle cx="564.34" cy="936.02" r="2.35" fill="#ff0000"/><circle cx="569.71" cy="945.32" r="2.35" fill="#ff0000"/><circle cx="575.08" cy="953.28" r="2.35" fill="#ff0000"/><circle cx="580.45" cy="959.79" r="2.35" fill="#ff0000"/><circle cx="585.82" cy="964.90" r="2.35" fill="#ff0000"/><circle cx="591.19" cy="968.78" r="2.35" fill="#ff0000"/><circle cx="596.56" cy="971.64" r="2.35" fill="#ff0000"/><circle cx="601.93" cy="973.71" r="2.35" fill="#ff0000"/><circle cx="607.30" cy="975.20" r="2.35" fill="#ff0000"/><circle cx="612.67" cy="976.27" r="2.35" fill="#ff0000"/><circle cx="618.04" cy="977.03" r="2.35" fill="#ff0000"/><circle cx="623.41" cy="977.59" r="2.35" fill="#ff0000"/><circle cx="628.78" cy="977.99" r="2.35" fill="#ff0000"/><circle cx="634.14" cy="978.29" r="2.35" fill="#ff0000"/><circle cx="639.51" cy="978.51" r="2.35" fill="#ff0000"/><circle cx="644.88" cy="978.67" r="2.35" fill="#ff0000"/><circle cx="650.25" cy="978.80" r="2.35" fill="#ff0000"/><circle cx="655.62" cy="978.89" r="2.35" fill="#ff0000"/><circle cx="660.99" cy="978.96" r="2.35" fill="#ff0000"/><circle cx="666.36" cy="979.02" r="2.35" fill="#ff0000"/><circle cx="671.73" cy="979.06" r="2.35" fill="#ff0000"/><circle cx="677.10" cy="979.09" r="2.35" fill="#ff0000"/>
<path d="M414.00 821.25 L419.37 821.29 L424.74 821.33 L430.11 821.39 L435.48 821.47 L440.85 821.57 L446.22 821.71 L451.59 821.89 L456.96 822.14 L462.32 822.47 L467.69 822.92 L473.06 823.55 L478.43 824.42 L483.80 825.64 L489.17 827.35 L494.54 829.74 L499.91 833.03 L505.28 837.46 L510.65 843.27 L516.02 850.57 L521.39 859.40 L526.76 869.60 L532.13 880.95 L537.50 893.17 L542.87 905.95 L548.23 919.04 L553.60 932.15 L558.97 945.04 L564.34 957.43 L569.71 969.03 L575.08 979.55 L580.45 988.75 L585.82 996.45 L591.19 1002.63 L596.56 1007.39 L601.93 1010.95 L607.30 1013.55 L612.67 1015.41 L618.04 1016.74 L623.41 1017.69 L628.78 1018.38 L634.14 1018.87 L639.51 1019.23 L644.88 1019.49 L650.25 1019.69 L655.62 1019.83 L660.99 1019.94 L666.36 1020.03 L671.73 1020.09 L677.10 1020.14" fill="none" stroke="#00ff00" stroke-width="0.55"/>
<path d="M414.00 818.30L416.95 823.46L411.05 823.46Z" fill="#00ff00"/><path d="M419.37 818.34L422.32 823.50L416.42 823.50Z" fill="#00ff00"/><path d="M424.74 818.38L427.69 823.55L421.79 823.55Z" fill="#00ff00"/><path d="M430.11 818.44L433.06 823.61L427.16 823.61Z" fill="#00ff00"/><path d="M435.48 818.52L438.43 823.68L432.53 823.68Z" fill="#00ff00"/><path d="M440.85 818.62L443.80 823.79L437.90 823.79Z" fill="#00ff00"/><path d="M446.22 818.76L449.17 823.92L443.27 823.92Z" fill="#00ff00"/><path d="M451.59 818.94L454.54 824.10L448.64 824.10Z" fill="#00ff00"/><path d="M456.96 819.19L459.91 824.35L454.01 824.35Z" fill="#00ff00"/><path d="M462.32 819.52L465.27 824.68L459.37 824.68Z" fill="#00ff00"/><path d="M467.69 819.97L470.64 825.13L464.74 825.13Z" fill="#00ff00"/><path d="M473.06 820.60L476.01 825.76L470.11 825.76Z" fill="#00ff00"/><path d="M478.43 821.47L481.38 826.63L475.48 826.63Z" fill="#00ff00"/><path d="M483.80 822.69L486.75 827.85L480.85 827.85Z" fill="#00ff00"/><path d="M489.17 824.40L492.12 829.56L486.22 829.56Z" fill="#00ff00"/><path d="M494.54 826.79L497.49 831.95L491.59 831.95Z" fill="#00ff00"/><path d="M499.91 830.08L502.86 835.24L496.96 835.24Z" fill="#00ff00"/><path d="M505.28 834.51L508.23 839.68L502.33 839.68Z" fill="#00ff00"/><path d="M510.65 840.32L513.60 845.48L507.70 845.48Z" fill="#00ff00"/><path d="M516.02 847.62L518.97 852.79L513.07 852.79Z" fill="#00ff00"/><path d="M521.39 856.44L524.34 861.61L518.44 861.61Z" fill="#00ff00"/><path d="M526.76 866.65L529.71 871.81L523.81 871.81Z" fill="#00ff00"/><path d="M532.13 878.00L535.08 883.16L529.18 883.16Z" fill="#00ff00"/><path d="M537.50 890.22L540.45 895.38L534.55 895.38Z" fill="#00ff00"/><path d="M542.87 903.00L545.82 908.17L539.92 908.17Z" fill="#00ff00"/><path d="M548.23 916.09L551.18 921.25L545.28 921.25Z" fill="#00ff00"/><path d="M553.60 929.20L556.55 934.37L550.65 934.37Z" fill="#00ff00"/><path d="M558.97 942.09L561.92 947.26L556.02 947.26Z" fill="#00ff00"/><path d="M564.34 954.48L567.29 959.64L561.39 959.64Z" fill="#00ff00"/><path d="M569.71 966.08L572.66 971.25L566.76 971.25Z" fill="#00ff00"/><path d="M575.08 976.60L578.03 981.77L572.13 981.77Z" fill="#00ff00"/><path d="M580.45 985.80L583.40 990.96L577.50 990.96Z" fill="#00ff00"/><path d="M585.82 993.50L588.77 998.66L582.87 998.66Z" fill="#00ff00"/><path d="M591.19 999.68L594.14 1004.84L588.24 1004.84Z" fill="#00ff00"/><path d="M596.56 1004.44L599.51 1009.61L593.61 1009.61Z" fill="#00ff00"/><path d="M601.93 1008.00L604.88 1013.17L598.98 1013.17Z" fill="#00ff00"/><path d="M607.30 1010.60L610.25 1015.76L604.35 1015.76Z" fill="#00ff00"/><path d="M612.67 1012.46L615.62 1017.63L609.72 1017.63Z" fill="#00ff00"/><path d="M618.04 1013.79L620.99 1018.96L615.09 1018.96Z" fill="#00ff00"/><path d="M623.41 1014.74L626.36 1019.91L620.46 1019.91Z" fill="#00ff00"/><path d="M628.78 1015.43L631.73 1020.59L625.83 1020.59Z" fill="#00ff00"/><path d="M634.14 1015.92L637.09 1021.08L631.19 1021.08Z" fill="#00ff00"/><path d="M639.51 1016.28L642.46 1021.44L636.56 1021.44Z" fill="#00ff00"/><path d="M644.88 1016.54L647.83 1021.70L641.93 1021.70Z" fill="#00ff00"/><path d="M650.25 1016.74L653.20 1021.90L647.30 1021.90Z" fill="#00ff00"/><path d="M655.62 1016.88L658.57 1022.04L652.67 1022.04Z" fill="#00ff00"/><path d="M660.99 1016.99L663.94 1022.15L658.04 1022.15Z" fill="#00ff00"/><path d="M666.36 1017.08L669.31 1022.24L663.41 1022.24Z" fill="#00ff00"/><path d="M671.73 1017.14L674.68 1022.30L668.78 1022.30Z" fill="#00ff00"/><path d="M677.10 1017.19L680.05 1022.35L674.15 1022.35Z" fill="#00ff00"/>
<path d="M414.00 851.88 L419.37 851.90 L424.74 851.94 L430.11 851.98 L435.48 852.03 L440.85 852.10 L446.22 852.19 L451.59 852.31 L456.96 852.47 L462.32 852.68 L467.69 852.97 L473.06 853.36 L478.43 853.89 L483.80 854.63 L489.17 855.66 L494.54 857.10 L499.91 859.10 L505.28 861.87 L510.65 865.64 L516.02 870.62 L521.39 876.99 L526.76 884.82 L532.13 894.02 L537.50 904.38 L542.87 915.60 L548.23 927.35 L553.60 939.28 L558.97 951.02 L564.34 962.22 L569.71 972.54 L575.08 981.69 L580.45 989.47 L585.82 995.79 L591.19 1000.72 L596.56 1004.45 L601.93 1007.18 L607.30 1009.16 L612.67 1010.58 L618.04 1011.60 L623.41 1012.33 L628.78 1012.86 L634.14 1013.25 L639.51 1013.53 L644.88 1013.74 L650.25 1013.90 L655.62 1014.02 L660.99 1014.11 L666.36 1014.17 L671.73 1014.23 L677.10 1014.27" fill="none" stroke="#0000ff" stroke-width="0.55"/>
<path d="M414.00 854.83L416.95 849.67L411.05 849.67Z" fill="#0000ff"/><path d="M419.37 854.85L422.32 849.69L416.42 849.69Z" fill="#0000ff"/><path d="M424.74 854.89L427.69 849.72L421.79 849.72Z" fill="#0000ff"/><path d="M430.11 854.93L433.06 849.76L427.16 849.76Z" fill="#0000ff"/><path d="M435.48 854.98L438.43 849.82L432.53 849.82Z" fill="#0000ff"/><path d="M440.85 855.05L443.80 849.89L437.90 849.89Z" fill="#0000ff"/><path d="M446.22 855.14L449.17 849.98L443.27 849.98Z" fill="#0000ff"/><path d="M451.59 855.26L454.54 850.10L448.64 850.10Z" fill="#0000ff"/><path d="M456.96 855.42L459.91 850.26L454.01 850.26Z" fill="#0000ff"/><path d="M462.32 855.63L465.27 850.47L459.37 850.47Z" fill="#0000ff"/><path d="M467.69 855.92L470.64 850.76L464.74 850.76Z" fill="#0000ff"/><path d="M473.06 856.31L476.01 851.14L470.11 851.14Z" fill="#0000ff"/><path d="M478.43 856.84L481.38 851.68L475.48 851.68Z" fill="#0000ff"/><path d="M483.80 857.58L486.75 852.42L480.85 852.42Z" fill="#0000ff"/><path d="M489.17 858.61L492.12 853.45L486.22 853.45Z" fill="#0000ff"/><path d="M494.54 860.05L497.49 854.89L491.59 854.89Z" fill="#0000ff"/><path d="M499.91 862.05L502.86 856.89L496.96 856.89Z" fill="#0000ff"/><path d="M505.28 864.82L508.23 859.66L502.33 859.66Z" fill="#0000ff"/><path d="M510.65 868.59L513.60 863.42L507.70 863.42Z" fill="#0000ff"/><path d="M516.02 873.57L518.97 868.41L513.07 868.41Z" fill="#0000ff"/><path d="M521.39 879.94L524.34 874.78L518.44 874.78Z" fill="#0000ff"/><path d="M526.76 887.77L529.71 882.61L523.81 882.61Z" fill="#0000ff"/><path d="M532.13 896.97L535.08 891.80L529.18 891.80Z" fill="#0000ff"/><path d="M537.50 907.33L540.45 902.16L534.55 902.16Z" fill="#0000ff"/><path d="M542.87 918.55L545.82 913.39L539.92 913.39Z" fill="#0000ff"/><path d="M548.23 930.30L551.18 925.14L545.28 925.14Z" fill="#0000ff"/><path d="M553.60 942.23L556.55 937.07L550.65 937.07Z" fill="#0000ff"/><path d="M558.97 953.97L561.92 948.80L556.02 948.80Z" fill="#0000ff"/><path d="M564.34 965.17L567.29 960.01L561.39 960.01Z" fill="#0000ff"/><path d="M569.71 975.49L572.66 970.33L566.76 970.33Z" fill="#0000ff"/><path d="M575.08 984.64L578.03 979.48L572.13 979.48Z" fill="#0000ff"/><path d="M580.45 992.42L583.40 987.25L577.50 987.25Z" fill="#0000ff"/><path d="M585.82 998.74L588.77 993.57L582.87 993.57Z" fill="#0000ff"/><path d="M591.19 1003.67L594.14 998.51L588.24 998.51Z" fill="#0000ff"/><path d="M596.56 1007.40L599.51 1002.23L593.61 1002.23Z" fill="#0000ff"/><path d="M601.93 1010.13L604.88 1004.97L598.98 1004.97Z" fill="#0000ff"/><path d="M607.30 1012.11L610.25 1006.95L604.35 1006.95Z" fill="#0000ff"/><path d="M612.67 1013.53L615.62 1008.37L609.72 1008.37Z" fill="#0000ff"/><path d="M618.04 1014.55L620.99 1009.39L615.09 1009.39Z" fill="#0000ff"/><path d="M623.41 1015.28L626.36 1010.12L620.46 1010.12Z" fill="#0000ff"/><path d="M628.78 1015.81L631.73 1010.65L625.83 1010.65Z" fill="#0000ff"/><path d="M634.14 1016.20L637.09 1011.03L631.19 1011.03Z" fill="#0000ff"/><path d="M639.51 1016.48L642.46 1011.32L636.56 1011.32Z" fill="#0000ff"/><path d="M644.88 1016.69L647.83 1011.53L641.93 1011.53Z" fill="#0000ff"/><path d="M650.25 1016.85L653.20 1011.68L647.30 1011.68Z" fill="#0000ff"/><path d="M655.62 1016.97L658.57 1011.80L652.67 1011.80Z" fill="#0000ff"/><path d="M660.99 1017.06L663.94 1011.89L658.04 1011.89Z" fill="#0000ff"/><path d="M666.36 1017.12L669.31 1011.96L663.41 1011.96Z" fill="#0000ff"/><path d="M671.73 1017.18L674.68 1012.01L668.78 1012.01Z" fill="#0000ff"/><path d="M677.10 1017.22L680.05 1012.06L674.15 1012.06Z" fill="#0000ff"/>
<path d="M414.00 858.62 L419.37 858.64 L424.74 858.67 L430.11 858.70 L435.48 858.75 L440.85 858.81 L446.22 858.89 L451.59 858.99 L456.96 859.13 L462.32 859.31 L467.69 859.56 L473.06 859.90 L478.43 860.36 L483.80 861.01 L489.17 861.91 L494.54 863.17 L499.91 864.95 L505.28 867.44 L510.65 870.85 L516.02 875.43 L521.39 881.39 L526.76 888.81 L532.13 897.65 L537.50 907.73 L542.87 918.74 L548.23 930.33 L553.60 942.10 L558.97 953.68 L564.34 964.68 L569.71 974.74 L575.08 983.56 L580.45 990.96 L585.82 996.89 L591.19 1001.45 L596.56 1004.85 L601.93 1007.32 L607.30 1009.08 L612.67 1010.34 L618.04 1011.24 L623.41 1011.88 L628.78 1012.34 L634.14 1012.68 L639.51 1012.93 L644.88 1013.11 L650.25 1013.25 L655.62 1013.35 L660.99 1013.43 L666.36 1013.49 L671.73 1013.53 L677.10 1013.57" fill="none" stroke="#808000" stroke-width="0.55"/>
<path d="M414.00 855.80L416.82 858.62L414.00 861.44L411.18 858.62Z" fill="#808000"/><path d="M419.37 855.82L422.19 858.64L419.37 861.46L416.55 858.64Z" fill="#808000"/><path d="M424.74 855.85L427.56 858.67L424.74 861.49L421.92 858.67Z" fill="#808000"/><path d="M430.11 855.88L432.93 858.70L430.11 861.52L427.29 858.70Z" fill="#808000"/><path d="M435.48 855.93L438.30 858.75L435.48 861.57L432.66 858.75Z" fill="#808000"/><path d="M440.85 855.99L443.67 858.81L440.85 861.63L438.03 858.81Z" fill="#808000"/><path d="M446.22 856.06L449.04 858.89L446.22 861.71L443.39 858.89Z" fill="#808000"/><path d="M451.59 856.17L454.41 858.99L451.59 861.81L448.76 858.99Z" fill="#808000"/><path d="M456.96 856.31L459.78 859.13L456.96 861.95L454.13 859.13Z" fill="#808000"/><path d="M462.32 856.49L465.15 859.31L462.32 862.13L459.50 859.31Z" fill="#808000"/><path d="M467.69 856.74L470.52 859.56L467.69 862.38L464.87 859.56Z" fill="#808000"/><path d="M473.06 857.07L475.89 859.90L473.06 862.72L470.24 859.90Z" fill="#808000"/><path d="M478.43 857.54L481.25 860.36L478.43 863.18L475.61 860.36Z" fill="#808000"/><path d="M483.80 858.18L486.62 861.01L483.80 863.83L480.98 861.01Z" fill="#808000"/><path d="M489.17 859.09L491.99 861.91L489.17 864.73L486.35 861.91Z" fill="#808000"/><path d="M494.54 860.35L497.36 863.17L494.54 866.00L491.72 863.17Z" fill="#808000"/><path d="M499.91 862.13L502.73 864.95L499.91 867.77L497.09 864.95Z" fill="#808000"/><path d="M505.28 864.61L508.10 867.44L505.28 870.26L502.46 867.44Z" fill="#808000"/><path d="M510.65 868.03L513.47 870.85L510.65 873.67L507.83 870.85Z" fill="#808000"/><path d="M516.02 872.61L518.84 875.43L516.02 878.26L513.20 875.43Z" fill="#808000"/><path d="M521.39 878.57L524.21 881.39L521.39 884.21L518.57 881.39Z" fill="#808000"/><path d="M526.76 885.99L529.58 888.81L526.76 891.63L523.94 888.81Z" fill="#808000"/><path d="M532.13 894.83L534.95 897.65L532.13 900.47L529.30 897.65Z" fill="#808000"/><path d="M537.50 904.91L540.32 907.73L537.50 910.55L534.67 907.73Z" fill="#808000"/><path d="M542.87 915.92L545.69 918.74L542.87 921.56L540.04 918.74Z" fill="#808000"/><path d="M548.23 927.51L551.06 930.33L548.23 933.15L545.41 930.33Z" fill="#808000"/><path d="M553.60 939.28L556.43 942.10L553.60 944.93L550.78 942.10Z" fill="#808000"/><path d="M558.97 950.86L561.80 953.68L558.97 956.50L556.15 953.68Z" fill="#808000"/><path d="M564.34 961.86L567.16 964.68L564.34 967.50L561.52 964.68Z" fill="#808000"/><path d="M569.71 971.92L572.53 974.74L569.71 977.56L566.89 974.74Z" fill="#808000"/><path d="M575.08 980.74L577.90 983.56L575.08 986.38L572.26 983.56Z" fill="#808000"/><path d="M580.45 988.14L583.27 990.96L580.45 993.78L577.63 990.96Z" fill="#808000"/><path d="M585.82 994.07L588.64 996.89L585.82 999.71L583.00 996.89Z" fill="#808000"/><path d="M591.19 998.63L594.01 1001.45L591.19 1004.27L588.37 1001.45Z" fill="#808000"/><path d="M596.56 1002.03L599.38 1004.85L596.56 1007.67L593.74 1004.85Z" fill="#808000"/><path d="M601.93 1004.49L604.75 1007.32L601.93 1010.14L599.11 1007.32Z" fill="#808000"/><path d="M607.30 1006.26L610.12 1009.08L607.30 1011.91L604.48 1009.08Z" fill="#808000"/><path d="M612.67 1007.52L615.49 1010.34L612.67 1013.17L609.85 1010.34Z" fill="#808000"/><path d="M618.04 1008.42L620.86 1011.24L618.04 1014.06L615.21 1011.24Z" fill="#808000"/><path d="M623.41 1009.06L626.23 1011.88L623.41 1014.70L620.58 1011.88Z" fill="#808000"/><path d="M628.78 1009.52L631.60 1012.34L628.78 1015.17L625.95 1012.34Z" fill="#808000"/><path d="M634.14 1009.86L636.97 1012.68L634.14 1015.50L631.32 1012.68Z" fill="#808000"/><path d="M639.51 1010.10L642.34 1012.93L639.51 1015.75L636.69 1012.93Z" fill="#808000"/><path d="M644.88 1010.29L647.71 1013.11L644.88 1015.93L642.06 1013.11Z" fill="#808000"/><path d="M650.25 1010.42L653.07 1013.25L650.25 1016.07L647.43 1013.25Z" fill="#808000"/><path d="M655.62 1010.53L658.44 1013.35L655.62 1016.17L652.80 1013.35Z" fill="#808000"/><path d="M660.99 1010.60L663.81 1013.43L660.99 1016.25L658.17 1013.43Z" fill="#808000"/><path d="M666.36 1010.66L669.18 1013.49L666.36 1016.31L663.54 1013.49Z" fill="#808000"/><path d="M671.73 1010.71L674.55 1013.53L671.73 1016.35L668.91 1013.53Z" fill="#808000"/><path d="M677.10 1010.74L679.92 1013.57L677.10 1016.39L674.28 1013.57Z" fill="#808000"/>
<path d="M414.00 876.41 L419.37 876.43 L424.74 876.45 L430.11 876.49 L435.48 876.53 L440.85 876.59 L446.22 876.67 L451.59 876.77 L456.96 876.90 L462.32 877.08 L467.69 877.32 L473.06 877.64 L478.43 878.08 L483.80 878.69 L489.17 879.53 L494.54 880.72 L499.91 882.38 L505.28 884.68 L510.65 887.86 L516.02 892.14 L521.39 897.73 L526.76 904.75 L532.13 913.20 L537.50 922.93 L542.87 933.66 L548.23 945.07 L553.60 956.77 L558.97 968.39 L564.34 979.56 L569.71 989.91 L575.08 999.12 L580.45 1006.98 L585.82 1013.39 L591.19 1018.41 L596.56 1022.19 L601.93 1024.98 L607.30 1026.99 L612.67 1028.43 L618.04 1029.45 L623.41 1030.19 L628.78 1030.72 L634.14 1031.11 L639.51 1031.39 L644.88 1031.60 L650.25 1031.76 L655.62 1031.88 L660.99 1031.96 L666.36 1032.03 L671.73 1032.09 L677.10 1032.13" fill="none" stroke="#ff00ff" stroke-width="0.55"/>
<path d="M411.05 876.41L416.21 873.46L416.21 879.36Z" fill="#ff00ff"/><path d="M416.42 876.43L421.58 873.48L421.58 879.38Z" fill="#ff00ff"/><path d="M421.79 876.45L426.95 873.50L426.95 879.40Z" fill="#ff00ff"/><path d="M427.16 876.49L432.32 873.54L432.32 879.44Z" fill="#ff00ff"/><path d="M432.53 876.53L437.69 873.58L437.69 879.48Z" fill="#ff00ff"/><path d="M437.90 876.59L443.06 873.64L443.06 879.54Z" fill="#ff00ff"/><path d="M443.27 876.67L448.43 873.72L448.43 879.62Z" fill="#ff00ff"/><path d="M448.64 876.77L453.80 873.82L453.80 879.72Z" fill="#ff00ff"/><path d="M454.01 876.90L459.17 873.95L459.17 879.85Z" fill="#ff00ff"/><path d="M459.37 877.08L464.54 874.13L464.54 880.03Z" fill="#ff00ff"/><path d="M464.74 877.32L469.91 874.37L469.91 880.27Z" fill="#ff00ff"/><path d="M470.11 877.64L475.28 874.69L475.28 880.59Z" fill="#ff00ff"/><path d="M475.48 878.08L480.65 875.13L480.65 881.03Z" fill="#ff00ff"/><path d="M480.85 878.69L486.01 875.74L486.01 881.64Z" fill="#ff00ff"/><path d="M486.22 879.53L491.38 876.58L491.38 882.48Z" fill="#ff00ff"/><path d="M491.59 880.72L496.75 877.77L496.75 883.67Z" fill="#ff00ff"/><path d="M496.96 882.38L502.12 879.43L502.12 885.33Z" fill="#ff00ff"/><path d="M502.33 884.68L507.49 881.73L507.49 887.63Z" fill="#ff00ff"/><path d="M507.70 887.86L512.86 884.91L512.86 890.81Z" fill="#ff00ff"/><path d="M513.07 892.14L518.23 889.19L518.23 895.09Z" fill="#ff00ff"/><path d="M518.44 897.73L523.60 894.78L523.60 900.68Z" fill="#ff00ff"/><path d="M523.81 904.75L528.97 901.80L528.97 907.70Z" fill="#ff00ff"/><path d="M529.18 913.20L534.34 910.25L534.34 916.15Z" fill="#ff00ff"/><path d="M534.55 922.93L539.71 919.98L539.71 925.88Z" fill="#ff00ff"/><path d="M539.92 933.66L545.08 930.71L545.08 936.61Z" fill="#ff00ff"/><path d="M545.28 945.07L550.45 942.12L550.45 948.02Z" fill="#ff00ff"/><path d="M550.65 956.77L555.82 953.82L555.82 959.72Z" fill="#ff00ff"/><path d="M556.02 968.39L561.19 965.44L561.19 971.34Z" fill="#ff00ff"/><path d="M561.39 979.56L566.56 976.61L566.56 982.51Z" fill="#ff00ff"/><path d="M566.76 989.91L571.92 986.96L571.92 992.86Z" fill="#ff00ff"/><path d="M572.13 999.12L577.29 996.17L577.29 1002.07Z" fill="#ff00ff"/><path d="M577.50 1006.98L582.66 1004.03L582.66 1009.93Z" fill="#ff00ff"/><path d="M582.87 1013.39L588.03 1010.44L588.03 1016.34Z" fill="#ff00ff"/><path d="M588.24 1018.41L593.40 1015.46L593.40 1021.36Z" fill="#ff00ff"/><path d="M593.61 1022.19L598.77 1019.24L598.77 1025.14Z" fill="#ff00ff"/><path d="M598.98 1024.98L604.14 1022.03L604.14 1027.93Z" fill="#ff00ff"/><path d="M604.35 1026.99L609.51 1024.04L609.51 1029.94Z" fill="#ff00ff"/><path d="M609.72 1028.43L614.88 1025.48L614.88 1031.38Z" fill="#ff00ff"/><path d="M615.09 1029.45L620.25 1026.50L620.25 1032.40Z" fill="#ff00ff"/><path d="M620.46 1030.19L625.62 1027.24L625.62 1033.14Z" fill="#ff00ff"/><path d="M625.83 1030.72L630.99 1027.77L630.99 1033.67Z" fill="#ff00ff"/><path d="M631.19 1031.11L636.36 1028.16L636.36 1034.06Z" fill="#ff00ff"/><path d="M636.56 1031.39L641.73 1028.44L641.73 1034.34Z" fill="#ff00ff"/><path d="M641.93 1031.60L647.10 1028.65L647.10 1034.55Z" fill="#ff00ff"/><path d="M647.30 1031.76L652.47 1028.81L652.47 1034.71Z" fill="#ff00ff"/><path d="M652.67 1031.88L657.83 1028.93L657.83 1034.83Z" fill="#ff00ff"/><path d="M658.04 1031.96L663.20 1029.01L663.20 1034.91Z" fill="#ff00ff"/><path d="M663.41 1032.03L668.57 1029.08L668.57 1034.98Z" fill="#ff00ff"/><path d="M668.78 1032.09L673.94 1029.14L673.94 1035.04Z" fill="#ff00ff"/><path d="M674.15 1032.13L679.31 1029.18L679.31 1035.08Z" fill="#ff00ff"/>
<path d="M391.7 802.5H699.3" stroke="#666" stroke-width="1.3" fill="none"/>
<path d="M699.3 801.85V1047.0500000000002" stroke="#666" stroke-width="1.3" fill="none"/>
<path d="M391.7 801.85V1046.4H699.9499999999999" stroke="#333" stroke-width="1.3" fill="none"/>
<text x="414.00" y="1062.30" text-anchor="middle" font-size="10.5">-1</text>
<text x="457.85" y="1062.30" text-anchor="middle" font-size="10.5">0</text>
<text x="501.70" y="1062.30" text-anchor="middle" font-size="10.5">1</text>
<text x="545.55" y="1062.30" text-anchor="middle" font-size="10.5">2</text>
<text x="589.40" y="1062.30" text-anchor="middle" font-size="10.5">3</text>
<text x="633.25" y="1062.30" text-anchor="middle" font-size="10.5">4</text>
<text x="677.10" y="1062.30" text-anchor="middle" font-size="10.5">5</text>
<text x="384.20" y="1049.97" text-anchor="end" font-size="10.5">0.4</text>
<text x="384.20" y="1021.22" text-anchor="end" font-size="10.5">0.6</text>
<text x="384.20" y="992.47" text-anchor="end" font-size="10.5">0.8</text>
<text x="384.20" y="963.72" text-anchor="end" font-size="10.5">1.0</text>
<text x="384.20" y="934.97" text-anchor="end" font-size="10.5">1.2</text>
<text x="384.20" y="906.22" text-anchor="end" font-size="10.5">1.4</text>
<text x="384.20" y="877.47" text-anchor="end" font-size="10.5">1.6</text>
<text x="384.20" y="848.72" text-anchor="end" font-size="10.5">1.8</text>
<text x="384.20" y="819.97" text-anchor="end" font-size="10.5">2.0</text>
<path d="M392.07 1046.40V1049.36M414.00 1046.40V1051.77M435.93 1046.40V1049.36M457.85 1046.40V1051.77M479.77 1046.40V1049.36M501.70 1046.40V1051.77M523.62 1046.40V1049.36M545.55 1046.40V1051.77M567.48 1046.40V1049.36M589.40 1046.40V1051.77M611.33 1046.40V1049.36M633.25 1046.40V1051.77M655.18 1046.40V1049.36M677.10 1046.40V1051.77M699.03 1046.40V1049.36M391.70 1046.40H386.33M391.70 1032.03H388.74M391.70 1017.65H386.33M391.70 1003.28H388.74M391.70 988.90H386.33M391.70 974.53H388.74M391.70 960.15H386.33M391.70 945.78H388.74M391.70 931.40H386.33M391.70 917.03H388.74M391.70 902.65H386.33M391.70 888.27H388.74M391.70 873.90H386.33M391.70 859.52H388.74M391.70 845.15H386.33M391.70 830.77H388.74M391.70 816.40H386.33" stroke="#333" stroke-width="1.1" fill="none"/>
<text x="545.5" y="1080.5" text-anchor="middle" font-size="11.4">log f (Hz)</text>
<text transform="translate(361.5,933.6) rotate(-90)" text-anchor="middle" font-size="11">log Z (Ω cm<tspan dy="-4" font-size="7">2</tspan><tspan dy="4">)</tspan></text>
<text x="550" y="828.7" font-size="11">(d) DS4</text>
<path d="M615.90 873.50H624.49M633.01 873.50H641.60" stroke="#000000" stroke-width="0.8" opacity="0.75"/>
<rect x="625.97" y="870.72" width="5.56" height="5.56" fill="#000000"/>
<text x="644.80" y="877.46" font-size="11.3">Blank</text>
<path d="M615.90 887.20H624.49M633.01 887.20H641.60" stroke="#ff0000" stroke-width="0.8" opacity="0.75"/>
<circle cx="628.75" cy="887.20" r="3.06" fill="#ff0000"/>
<text x="644.80" y="891.16" font-size="11.3">1.00 mM</text>
<path d="M615.90 900.90H624.49M633.01 900.90H641.60" stroke="#00ff00" stroke-width="0.8" opacity="0.75"/>
<path d="M628.75 897.06L632.59 903.78L624.91 903.78Z" fill="#00ff00"/>
<text x="644.80" y="904.86" font-size="11.3">0.75 mM</text>
<path d="M615.90 914.60H624.49M633.01 914.60H641.60" stroke="#0000ff" stroke-width="0.8" opacity="0.75"/>
<path d="M628.75 918.44L632.59 911.72L624.91 911.72Z" fill="#0000ff"/>
<text x="644.80" y="918.56" font-size="11.3">0.50 mM</text>
<path d="M615.90 928.30H624.49M633.01 928.30H641.60" stroke="#808000" stroke-width="0.8" opacity="0.75"/>
<path d="M628.75 924.63L632.42 928.30L628.75 931.97L625.08 928.30Z" fill="#808000"/>
<text x="644.80" y="932.25" font-size="11.3">0.25 mM</text>
<path d="M615.90 942.00H624.49M633.01 942.00H641.60" stroke="#ff00ff" stroke-width="0.8" opacity="0.75"/>
<path d="M624.91 942.00L631.63 938.16L631.63 945.84Z" fill="#ff00ff"/>
<text x="644.80" y="945.96" font-size="11.3">0.10 mM</text>
</svg></body></html>
